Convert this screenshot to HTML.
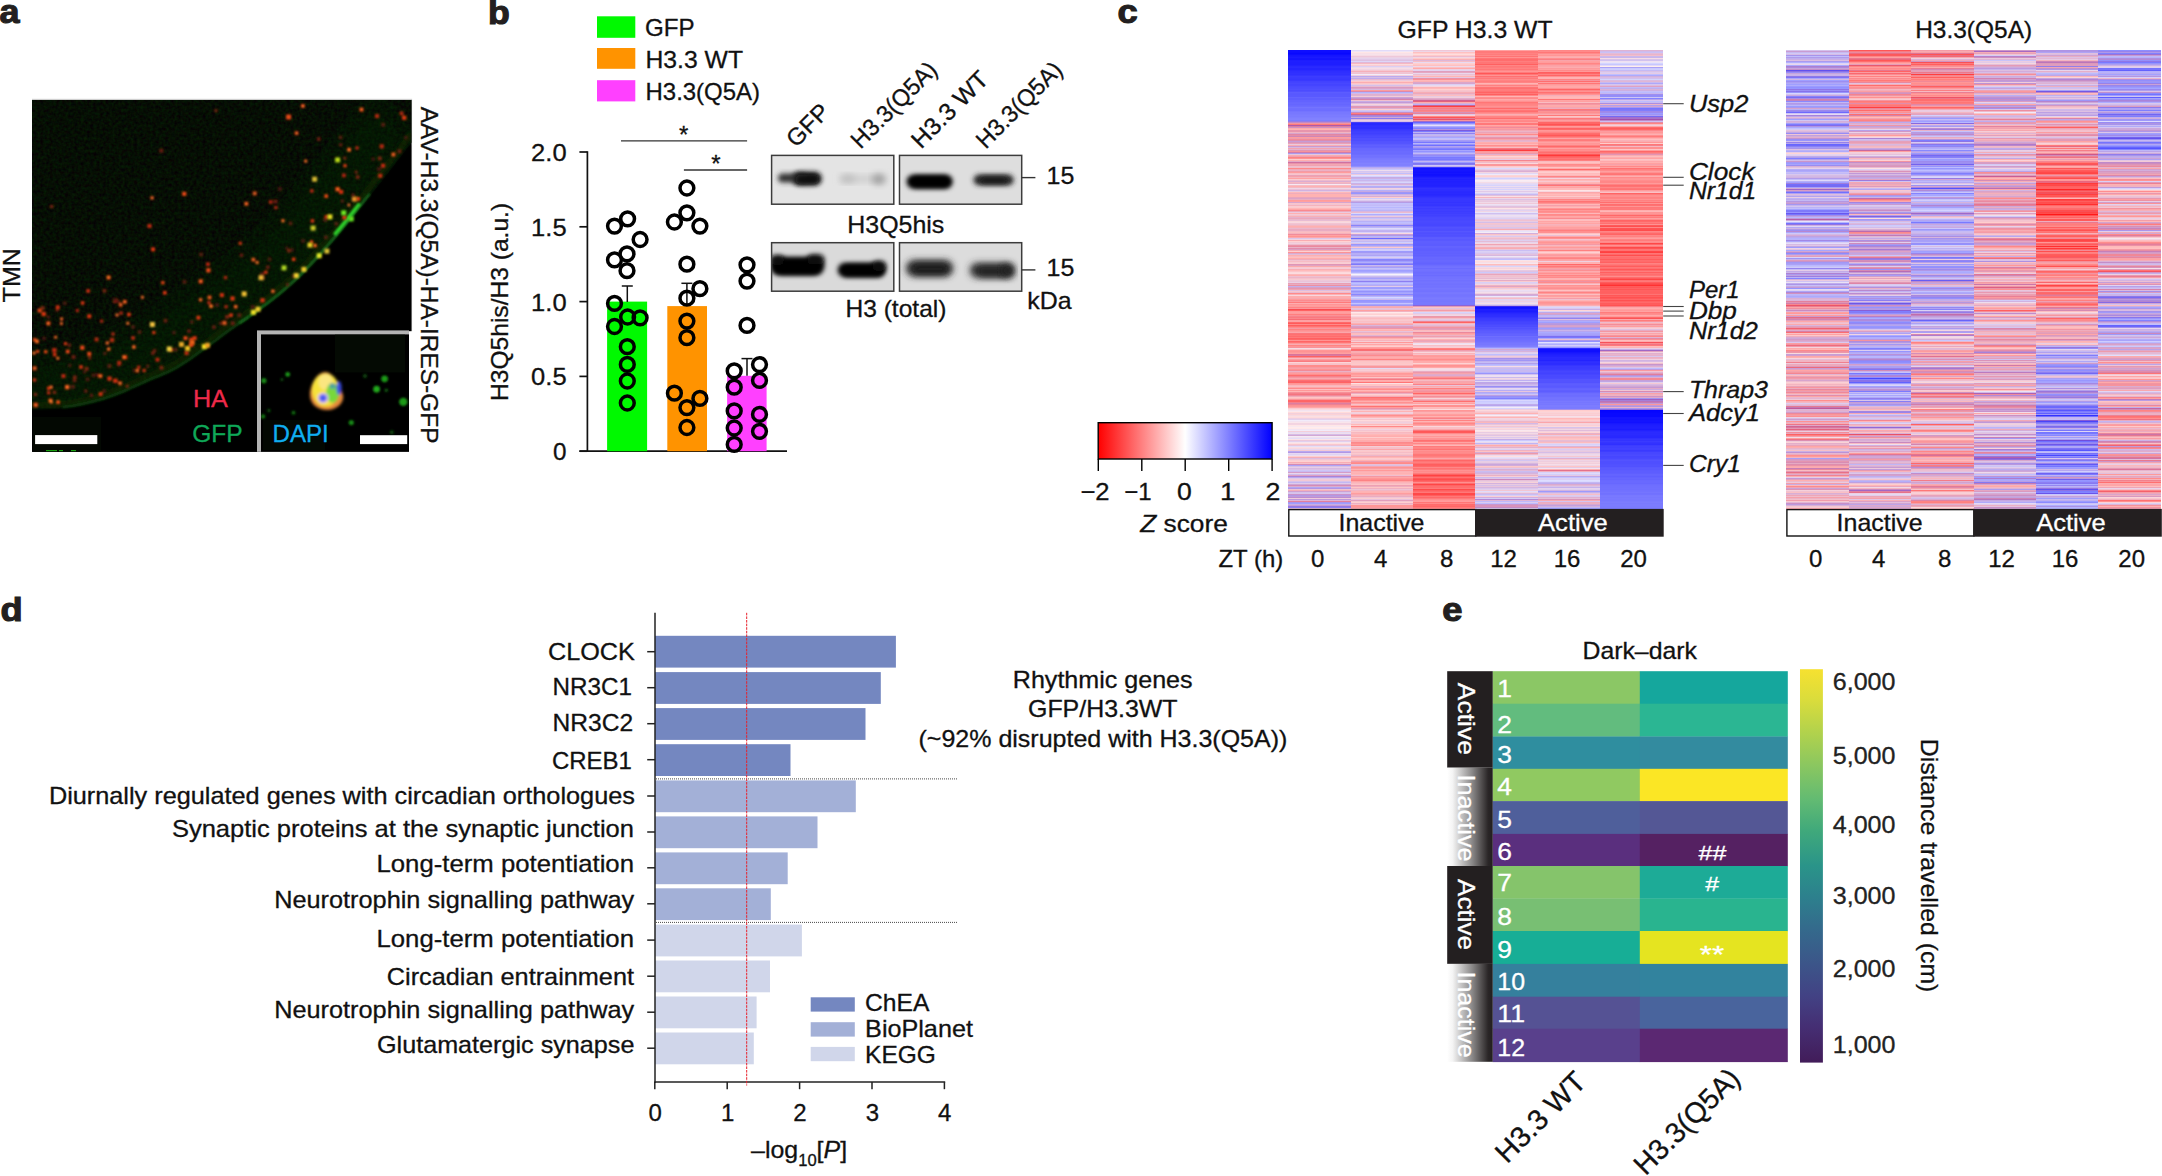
<!DOCTYPE html>
<html lang="en"><head><meta charset="utf-8"><title>Figure</title>
<style>
html,body{margin:0;padding:0;background:#fff}
#fig{position:relative;width:2162px;height:1176px;overflow:hidden;background:#fff}
#fig div{position:absolute}
#fig svg{position:absolute;left:0;top:0}
text{font-family:"Liberation Sans", Arial, Helvetica, sans-serif;font-size:24px;fill:#111;stroke:#111;stroke-width:.3px}
.b{font-weight:bold;font-size:33px;fill:#231f20;stroke:#231f20;stroke-width:1.1px}
.i{font-style:italic}
</style></head><body>
<div id="fig">
<div style="left:1288.20px;top:50.0px;width:62.72px;height:458.8px;background:linear-gradient(#0e0eff 0.0px 1.0px,#0e0eff 1.0px 2.0px,#0c0cff 2.0px 3.0px,#0808ff 3.0px 4.0px,#0d0dff 4.0px 5.0px,#1414ff 5.0px 6.0px,#1616ff 6.0px 7.0px,#1a1aff 7.0px 8.0px,#1515ff 8.0px 9.0px,#1414ff 9.0px 10.0px,#1d1dff 10.0px 11.0px,#1f1fff 11.0px 12.0px,#1e1eff 12.0px 13.0px,#1e1eff 13.0px 14.0px,#1e1eff 14.0px 15.0px,#2222ff 15.0px 16.0px,#2828ff 16.0px 17.0px,#2a2aff 17.0px 18.0px,#2525ff 18.0px 19.0px,#2525ff 19.0px 20.0px,#2a2aff 20.0px 21.0px,#2e2eff 21.0px 22.0px,#2f2fff 22.0px 23.0px,#3131ff 23.0px 24.0px,#3030ff 24.0px 25.0px,#3535ff 25.0px 26.0px,#3c3cff 26.0px 27.0px,#3a3aff 27.0px 28.0px,#3939ff 28.0px 29.0px,#3737ff 29.0px 30.0px,#3a3aff 30.0px 31.0px,#4242ff 31.0px 32.0px,#4444ff 32.0px 33.0px,#4747ff 33.0px 34.0px,#4444ff 34.0px 35.0px,#4545ff 35.0px 36.0px,#4a4aff 36.0px 37.0px,#4c4cff 37.0px 38.0px,#4d4dff 38.0px 39.0px,#5050ff 39.0px 40.0px,#4c4cff 40.0px 41.0px,#5151ff 41.0px 42.0px,#5c5cff 42.0px 43.0px,#5959ff 43.0px 44.0px,#5858ff 44.0px 45.0px,#5959ff 45.0px 46.0px,#5959ff 46.0px 47.0px,#6363ff 47.0px 48.0px,#5e5eff 48.0px 49.0px,#5e5eff 49.0px 50.0px,#6363ff 50.0px 51.0px,#6363ff 51.0px 52.0px,#6767ff 52.0px 53.0px,#6868ff 53.0px 54.0px,#6666ff 54.0px 55.0px,#6969ff 55.0px 56.0px,#6c6cff 56.0px 57.0px,#7474ff 57.0px 58.0px,#6f6fff 58.0px 59.0px,#6e6eff 59.0px 60.0px,#6d6dff 60.0px 61.0px,#7474ff 61.0px 62.0px,#7878ff 62.0px 63.0px,#7878ff 63.0px 64.0px,#7a7aff 64.0px 65.0px,#7c7cff 65.0px 66.0px,#7b7bff 66.0px 67.0px,#7e7eff 67.0px 68.0px,#8181ff 68.0px 69.0px,#8282ff 69.0px 70.0px,#7d7dff 70.0px 71.0px,#967de5 71.0px 72.0px,#c289c6 72.0px 73.0px,#f294a2 73.0px 74.0px,#fd787a 74.0px 75.0px,#b15aa8 75.0px 76.0px,#dc7c9f 76.0px 77.0px,#ce91c2 77.0px 78.0px,#fcabae 78.0px 79.0px,#ffb5b5 79.0px 80.0px,#e895ac 80.0px 81.0px,#e795ad 81.0px 82.0px,#f1b4c2 82.0px 83.0px,#d8a5cc 83.0px 84.0px,#e186a4 84.0px 85.0px,#e28daa 85.0px 86.0px,#cf86b6 86.0px 87.0px,#ff9d9d 87.0px 88.0px,#ef9dad 88.0px 89.0px,#f28b98 89.0px 90.0px,#dc8caf 90.0px 91.0px,#c69cd5 91.0px 92.0px,#d896bc 92.0px 93.0px,#e9a1b7 93.0px 94.0px,#ebcade 94.0px 95.0px,#f9aeb3 95.0px 96.0px,#ca9bd0 96.0px 97.0px,#dbb8dc 97.0px 98.0px,#f3a3af 98.0px 99.0px,#e5b2cc 99.0px 100.0px,#e294b1 100.0px 101.0px,#f7939b 101.0px 102.0px,#d17caa 102.0px 103.0px,#ac99eb 103.0px 104.0px,#e3c7e3 104.0px 105.0px,#fbacb0 105.0px 106.0px,#f0a0af 106.0px 107.0px,#fd8284 107.0px 108.0px,#ff9393 108.0px 109.0px,#ffcdcd 109.0px 110.0px,#ffafaf 110.0px 111.0px,#e1a9c6 111.0px 112.0px,#cf71a1 112.0px 113.0px,#e892aa 113.0px 114.0px,#f3a7b3 114.0px 114.9px,#f1a2b0 114.9px 115.9px,#efbece 115.9px 116.9px,#f2bdca 116.9px 117.9px,#ff8989 117.9px 118.9px,#f0aab9 118.9px 119.9px,#ecb1c5 119.9px 120.9px,#f29ba7 120.9px 121.9px,#ff9c9c 121.9px 122.9px,#f7bfc7 122.9px 123.9px,#f7c5cd 123.9px 124.9px,#e9a2b7 124.9px 125.9px,#f5a1ab 125.9px 126.9px,#f5b5bf 126.9px 127.9px,#ffa3a3 127.9px 128.9px,#faccd1 128.9px 129.9px,#ecbacd 129.9px 130.9px,#daadd2 130.9px 131.9px,#f5b7c1 131.9px 132.9px,#ebb2c6 132.9px 133.9px,#f6eaf3 133.9px 134.9px,#f6bcc5 134.9px 135.9px,#ffb1b1 135.9px 136.9px,#f3bac5 136.9px 137.9px,#f0d6e5 137.9px 138.9px,#e9c0d7 138.9px 139.9px,#d0b2e1 139.9px 140.9px,#e9c9df 140.9px 141.9px,#feb7b9 141.9px 142.9px,#f0acbb 142.9px 143.9px,#ffb2b2 143.9px 144.9px,#ffb2b2 144.9px 145.9px,#ffb2b2 145.9px 146.9px,#e8a5bc 146.9px 147.9px,#dca3c6 147.9px 148.9px,#eaadc2 148.9px 149.9px,#ff9b9b 149.9px 150.9px,#ffa0a0 150.9px 151.9px,#d6a5ce 151.9px 152.9px,#fac4ca 152.9px 153.9px,#f2c4d1 153.9px 154.9px,#f5b3bd 154.9px 155.9px,#faccd1 155.9px 156.9px,#fccacd 156.9px 157.9px,#ffb7b7 157.9px 158.9px,#ffa5a5 158.9px 159.9px,#f9898f 159.9px 160.9px,#eca9bc 160.9px 161.9px,#ebcade 161.9px 162.9px,#ffb0b0 162.9px 163.9px,#f4cad5 163.9px 164.9px,#f4c1cc 164.9px 165.9px,#f7b0b7 165.9px 166.9px,#e5b1cb 166.9px 167.9px,#eaa7bc 167.9px 168.9px,#ebb7cb 168.9px 169.9px,#e7bcd4 169.9px 170.9px,#fad5d9 170.9px 171.9px,#f8d9e1 171.9px 172.9px,#f3c4d1 172.9px 173.9px,#edbfd1 173.9px 174.9px,#f5b7c1 174.9px 175.9px,#ffafaf 175.9px 176.9px,#f8b1b8 176.9px 177.9px,#eab8cd 177.9px 178.9px,#eaa9bf 178.9px 179.9px,#e8acc3 179.9px 180.9px,#f5bbc5 180.9px 181.9px,#fcbdc0 181.9px 182.9px,#f4b1bc 182.9px 183.9px,#f18c9b 183.9px 184.9px,#ffa2a2 184.9px 185.9px,#ff9393 185.9px 186.9px,#fba9ad 186.9px 187.9px,#dbc5e9 187.9px 188.9px,#f1d5e3 188.9px 189.9px,#faacb1 189.9px 190.9px,#ffd2d2 190.9px 191.9px,#f3cad6 191.9px 192.9px,#f2d1de 192.9px 193.9px,#eebccd 193.9px 194.9px,#eb94a8 194.9px 195.9px,#ea889d 195.9px 196.9px,#e9b0c6 196.9px 197.9px,#e18caa 197.9px 198.9px,#db9cc0 198.9px 199.9px,#f7abb3 199.9px 200.9px,#fdcfd1 200.9px 201.9px,#fd9395 201.9px 202.9px,#dba9cd 202.9px 203.9px,#e1bcda 203.9px 204.9px,#ffafaf 204.9px 205.9px,#f7bbc3 205.9px 206.9px,#ffbfbf 206.9px 207.9px,#ffacac 207.9px 208.9px,#efabbc 208.9px 209.9px,#f1c3d1 209.9px 210.9px,#f7bcc4 210.9px 211.9px,#f7cbd3 211.9px 212.9px,#fbcdd1 212.9px 213.9px,#e095b5 213.9px 214.9px,#e0a2c1 214.9px 215.9px,#fca9ab 215.9px 216.9px,#f7c9d1 216.9px 217.9px,#f5ccd6 217.9px 218.9px,#f8afb6 218.9px 219.9px,#ffbaba 219.9px 220.9px,#fcc6ca 220.9px 221.9px,#fcd9dc 221.9px 222.9px,#fcdcdf 222.9px 223.9px,#fcb9bc 223.9px 224.9px,#ffaeae 224.9px 225.9px,#eec0d1 225.9px 226.9px,#ecb5c8 226.9px 227.9px,#f5c1cb 227.9px 228.9px,#f7cad2 228.9px 229.9px,#eec9da 229.9px 230.9px,#eac4da 230.9px 231.9px,#ead1e6 231.9px 232.9px,#e99fb5 232.9px 233.9px,#eaabc0 233.9px 234.9px,#ed90a2 234.9px 235.9px,#c2afec 235.9px 236.9px,#d99fc4 236.9px 237.9px,#e596b0 237.9px 238.9px,#efa3b4 238.9px 239.9px,#ddbfe1 239.9px 240.9px,#f7c7cf 240.9px 241.9px,#e9bad0 241.9px 242.9px,#ff8a8a 242.9px 243.9px,#fcb0b3 243.9px 244.9px,#f9d7dd 244.9px 245.9px,#feadae 245.9px 246.9px,#ffacac 246.9px 247.9px,#f7a9b1 247.9px 248.9px,#ff9b9b 248.9px 249.9px,#fb8b8f 249.9px 250.9px,#fb9a9e 250.9px 251.9px,#ff7a7a 251.9px 252.9px,#fdadb0 252.9px 253.9px,#ff9595 253.9px 254.9px,#ff9e9e 254.9px 255.9px,#ff9b9b 255.9px 256.9px,#ff8383 256.9px 257.9px,#fa969b 257.9px 258.9px,#fa4b50 258.9px 259.9px,#ff6161 259.9px 260.9px,#ff9999 260.9px 261.9px,#ff9f9f 261.9px 262.9px,#ff9b9b 262.9px 263.9px,#ff7f7f 263.9px 264.9px,#fb9195 264.9px 265.9px,#f6828b 265.9px 266.9px,#fa797e 266.9px 267.9px,#fa868b 267.9px 268.9px,#f76d75 268.9px 269.9px,#fda2a4 269.9px 270.9px,#fda2a5 270.9px 271.9px,#ff6a6a 271.9px 272.9px,#ff5a5a 272.9px 273.9px,#ff8989 273.9px 274.9px,#ff5c5c 274.9px 275.9px,#ff7373 275.9px 276.9px,#ff8989 276.9px 277.9px,#f69aa3 277.9px 278.9px,#ff8282 278.9px 279.9px,#fd9192 279.9px 280.9px,#fd9a9b 280.9px 281.9px,#fba6aa 281.9px 282.9px,#fb7579 282.9px 283.9px,#ff7070 283.9px 284.9px,#ff7676 284.9px 285.9px,#ff6c6c 285.9px 286.9px,#ff7979 286.9px 287.9px,#ff6060 287.9px 288.9px,#ff6868 288.9px 289.9px,#ff9393 289.9px 290.9px,#ff6565 290.9px 291.9px,#ff7575 291.9px 292.9px,#ff9898 292.9px 293.9px,#f8acb3 293.9px 294.9px,#ff8383 294.9px 295.9px,#ff9494 295.9px 296.9px,#f6939c 296.9px 297.9px,#f6dce4 297.9px 298.9px,#fbc1c5 298.9px 299.9px,#ff9797 299.9px 300.9px,#ff9393 300.9px 301.9px,#ff9999 301.9px 302.9px,#ffa0a0 302.9px 303.9px,#d9749a 303.9px 304.9px,#d97aa0 304.9px 305.9px,#ff6161 305.9px 306.9px,#fa8e94 306.9px 307.9px,#fabbc0 307.9px 308.9px,#fb9ea2 308.9px 309.9px,#fb898d 309.9px 310.9px,#fa7b80 310.9px 311.9px,#fbd5d9 311.9px 312.9px,#fcc2c5 312.9px 313.9px,#f6c0c9 313.9px 314.9px,#ff8c8c 314.9px 315.9px,#ff8c8c 315.9px 316.9px,#f999a0 316.9px 317.9px,#f9a0a6 317.9px 318.9px,#ff9292 318.9px 319.9px,#f28a97 319.9px 320.9px,#eab1c6 320.9px 321.9px,#f79fa8 321.9px 322.9px,#ff9c9c 322.9px 323.9px,#ff8e8e 323.9px 324.9px,#ff6d6d 324.9px 325.9px,#f6828b 325.9px 326.9px,#f6959e 326.9px 327.9px,#f9a9af 327.9px 328.9px,#f99299 328.9px 329.9px,#ff7070 329.9px 330.9px,#f7666e 330.9px 331.9px,#ff6363 331.9px 332.9px,#ff9595 332.9px 333.9px,#ff9c9d 333.9px 334.9px,#fab6ba 334.9px 335.9px,#fabec2 335.9px 336.9px,#fea7a8 336.9px 337.9px,#ff8b8b 337.9px 338.9px,#febec0 338.9px 339.9px,#ff9999 339.9px 340.9px,#ffb6b6 340.9px 341.9px,#f79098 341.9px 342.9px,#f47f8a 342.9px 343.9px,#f5747f 343.9px 344.8px,#f08a99 344.8px 345.8px,#f0aab8 345.8px 346.8px,#ffc5c5 346.8px 347.8px,#ffbaba 347.8px 348.8px,#fb969a 348.8px 349.8px,#ff6767 349.8px 350.8px,#ff6565 350.8px 351.8px,#f37e8b 351.8px 352.8px,#dd7ea0 352.8px 353.8px,#ee8192 353.8px 354.8px,#fc9295 354.8px 355.8px,#ff9797 355.8px 356.8px,#ffa7a7 356.8px 357.8px,#fbcbd0 357.8px 358.8px,#fbdbdf 358.8px 359.8px,#f2e3ef 359.8px 360.8px,#fae8ee 360.8px 361.8px,#ffdbdb 361.8px 362.8px,#f3cfdb 362.8px 363.8px,#fbd2d6 363.8px 364.8px,#f5dae3 364.8px 365.8px,#fcdfe2 365.8px 366.8px,#fddbdd 366.8px 367.8px,#edcfe2 367.8px 368.8px,#e2d0ed 368.8px 369.8px,#f1ecfa 369.8px 370.8px,#f3e4f1 370.8px 371.8px,#f9e5eb 371.8px 372.8px,#f3d4e1 372.8px 373.8px,#f3d5e2 373.8px 374.8px,#ffe7e7 374.8px 375.8px,#f8e9f0 375.8px 376.8px,#ffeded 376.8px 377.8px,#ffeaea 377.8px 378.8px,#f1e5f3 378.8px 379.8px,#f1ebf9 379.8px 380.8px,#f4cfda 380.8px 381.8px,#e7dcf4 381.8px 382.8px,#f0deed 382.8px 383.8px,#d5bde6 383.8px 384.8px,#d3a8d4 384.8px 385.8px,#f3ebf6 385.8px 386.8px,#f0e0ef 386.8px 387.8px,#e3def9 387.8px 388.8px,#fbe3e7 388.8px 389.8px,#ebc7dc 389.8px 390.8px,#e1d0ee 390.8px 391.8px,#f5e5ef 391.8px 392.8px,#fee0e1 392.8px 393.8px,#f9c7cd 393.8px 394.8px,#e7c6de 394.8px 395.8px,#e5dff8 395.8px 396.8px,#fadfe4 396.8px 397.8px,#f7d8e0 397.8px 398.8px,#e6d6ef 398.8px 399.8px,#f3c9d5 399.8px 400.8px,#b9a9f0 400.8px 401.8px,#b297e4 401.8px 402.8px,#e6d9f3 402.8px 403.8px,#e0d3f2 403.8px 404.8px,#eadef3 404.8px 405.8px,#ffcfcf 405.8px 406.8px,#f5aeb8 406.8px 407.8px,#debcdd 407.8px 408.8px,#f0c6d5 408.8px 409.8px,#f9ced4 409.8px 410.8px,#ffd1d1 410.8px 411.8px,#f8aeb4 411.8px 412.8px,#f7bfc7 412.8px 413.8px,#d48bb6 413.8px 414.8px,#ada3f6 414.8px 415.8px,#d8bfe6 415.8px 416.8px,#e6cee7 416.8px 417.8px,#d7b9e1 417.8px 418.8px,#dbc2e6 418.8px 419.8px,#cfc6f6 419.8px 420.8px,#c9baf0 420.8px 421.8px,#d49dc8 421.8px 422.8px,#e9d6ec 422.8px 423.8px,#cfbcec 423.8px 424.8px,#dea0c1 424.8px 425.8px,#ac82d5 425.8px 426.8px,#b8a8ef 426.8px 427.8px,#e0c9e8 427.8px 428.8px,#f1cbd9 428.8px 429.8px,#f3c8d4 429.8px 430.8px,#d6c3eb 430.8px 431.8px,#c3b8f3 431.8px 432.8px,#decbed 432.8px 433.8px,#cfa5d5 433.8px 434.8px,#d48bb6 434.8px 435.8px,#dcacce 435.8px 436.8px,#b1a5f3 436.8px 437.8px,#b095e4 437.8px 438.8px,#efc3d3 438.8px 439.8px,#f4adb8 439.8px 440.8px,#cea0d1 440.8px 441.8px,#d4c1eb 441.8px 442.8px,#d6c4ed 442.8px 443.8px,#c993ca 443.8px 444.8px,#b296e4 444.8px 445.8px,#be9bdc 445.8px 446.8px,#be8dce 446.8px 447.8px,#f0ccdb 447.8px 448.8px,#bd99dc 448.8px 449.8px,#ddb2d3 449.8px 450.8px,#e27f9d 450.8px 451.8px,#a895ec 451.8px 452.8px,#9e9eff 452.8px 453.8px,#c7aee6 453.8px 454.8px,#c39bd8 454.8px 455.8px,#9677e0 455.8px 456.8px,#8b7ff4 456.8px 457.8px,#e3bad6 457.8px 458.8px)"></div>
<div style="left:1350.62px;top:50.0px;width:62.72px;height:458.8px;background:linear-gradient(#e1dbf9 0.0px 1.0px,#efe6f6 1.0px 2.0px,#ffe6e6 2.0px 3.0px,#f8e0e7 3.0px 4.0px,#f7e2ea 4.0px 5.0px,#f6dbe4 5.0px 6.0px,#eec8d9 6.0px 7.0px,#ecd1e4 7.0px 8.0px,#e6d2eb 8.0px 9.0px,#e0c8e7 9.0px 10.0px,#ddc0e1 10.0px 11.0px,#ded6f8 11.0px 12.0px,#e1b8d7 12.0px 13.0px,#f5b8c3 13.0px 14.0px,#fcdbde 14.0px 15.0px,#f9ccd3 15.0px 16.0px,#dccff2 16.0px 17.0px,#eddaec 17.0px 18.0px,#f7dee6 18.0px 19.0px,#f0d4e3 19.0px 20.0px,#f5c7d1 20.0px 21.0px,#f5b0ba 21.0px 22.0px,#f0c5d4 22.0px 23.0px,#f1c3d1 23.0px 24.0px,#f2ecf9 24.0px 25.0px,#efcfde 25.0px 26.0px,#bcaaed 26.0px 27.0px,#d4bce7 27.0px 28.0px,#c0aceb 28.0px 29.0px,#e6b7d0 29.0px 30.0px,#eccadd 30.0px 31.0px,#ffc8c8 31.0px 32.0px,#fbadb1 32.0px 33.0px,#fec6c7 33.0px 34.0px,#eecbdc 34.0px 35.0px,#d5c0ea 35.0px 36.0px,#e8bbd2 36.0px 37.0px,#da9ac0 37.0px 38.0px,#dba6ca 38.0px 39.0px,#d7b8e0 39.0px 40.0px,#fb9ca0 40.0px 41.0px,#dc89ac 41.0px 42.0px,#b2b2ff 42.0px 43.0px,#cfbced 43.0px 44.0px,#e1b0ce 44.0px 45.0px,#dfb3d2 45.0px 46.0px,#f2ccd9 46.0px 47.0px,#caa3d8 47.0px 48.0px,#c792ca 48.0px 49.0px,#d782a9 49.0px 50.0px,#f1c0ce 50.0px 51.0px,#c7ade5 51.0px 52.0px,#c39ad6 52.0px 53.0px,#dbbde1 53.0px 54.0px,#f8d4dc 54.0px 55.0px,#e5c6e0 55.0px 56.0px,#de98b9 56.0px 57.0px,#e497b2 57.0px 58.0px,#dcafd2 58.0px 59.0px,#fdcfd1 59.0px 60.0px,#d6c7f0 60.0px 61.0px,#c6bcf5 61.0px 62.0px,#cc8cbf 62.0px 63.0px,#ff7e7e 63.0px 64.0px,#d46590 64.0px 65.0px,#ab80d4 65.0px 66.0px,#a38ae6 66.0px 67.0px,#cea7d7 67.0px 68.0px,#8d7def 68.0px 69.0px,#dab8dd 69.0px 70.0px,#eacee3 70.0px 71.0px,#d6bde6 71.0px 72.0px,#473ef6 72.0px 73.0px,#2828ff 73.0px 74.0px,#2828ff 74.0px 75.0px,#2e2eff 75.0px 76.0px,#3030ff 76.0px 77.0px,#2e2eff 77.0px 78.0px,#2f2fff 78.0px 79.0px,#3737ff 79.0px 80.0px,#3b3bff 80.0px 81.0px,#3f3fff 81.0px 82.0px,#4141ff 82.0px 83.0px,#3f3fff 83.0px 84.0px,#4343ff 84.0px 85.0px,#4747ff 85.0px 86.0px,#4a4aff 86.0px 87.0px,#4848ff 87.0px 88.0px,#4f4fff 88.0px 89.0px,#4f4fff 89.0px 90.0px,#4d4dff 90.0px 91.0px,#5353ff 91.0px 92.0px,#5454ff 92.0px 93.0px,#5555ff 93.0px 94.0px,#5c5cff 94.0px 95.0px,#6060ff 95.0px 96.0px,#5d5dff 96.0px 97.0px,#6060ff 97.0px 98.0px,#6767ff 98.0px 99.0px,#6868ff 99.0px 100.0px,#6868ff 100.0px 101.0px,#6b6bff 101.0px 102.0px,#6b6bff 102.0px 103.0px,#6a6aff 103.0px 104.0px,#6d6dff 104.0px 105.0px,#7272ff 105.0px 106.0px,#7171ff 106.0px 107.0px,#7373ff 107.0px 108.0px,#7878ff 108.0px 109.0px,#7a7aff 109.0px 110.0px,#7d7dff 110.0px 111.0px,#7c7cff 111.0px 112.0px,#7e7eff 112.0px 113.0px,#8282ff 113.0px 114.0px,#8080ff 114.0px 114.9px,#8181ff 114.9px 115.9px,#9090ff 115.9px 116.9px,#b7abf3 116.9px 117.9px,#c8b9f0 117.9px 118.9px,#cbc8fc 118.9px 119.9px,#eeddee 119.9px 120.9px,#d4c7f2 120.9px 121.9px,#dccaed 121.9px 122.9px,#c1befb 122.9px 123.9px,#ebcade 123.9px 124.9px,#e6e2fc 124.9px 125.9px,#d5d2fc 125.9px 126.9px,#c4abe6 126.9px 127.9px,#ccb1e3 127.9px 128.9px,#c5c2fc 128.9px 129.9px,#c9b7ed 129.9px 130.9px,#d3c8f4 130.9px 131.9px,#d7d5fd 131.9px 132.9px,#c8b2e9 132.9px 133.9px,#d8b1d8 133.9px 134.9px,#dacaef 134.9px 135.9px,#b2adfa 135.9px 136.9px,#baacf0 136.9px 137.9px,#f2d3e1 137.9px 138.9px,#e3d1ed 138.9px 139.9px,#b7aff7 139.9px 140.9px,#c6a9e2 140.9px 141.9px,#a196f4 141.9px 142.9px,#9695fe 142.9px 143.9px,#cdb0e2 143.9px 144.9px,#dbbfe3 144.9px 145.9px,#daadd2 145.9px 146.9px,#ffcece 146.9px 147.9px,#d0cbfa 147.9px 148.9px,#ebdbef 148.9px 149.9px,#dbcaee 149.9px 150.9px,#c9abe2 150.9px 151.9px,#b59ce5 151.9px 152.9px,#c1c1ff 152.9px 153.9px,#c5bef9 153.9px 154.9px,#c1bbf9 154.9px 155.9px,#c7c5fd 155.9px 156.9px,#b8b7fe 156.9px 157.9px,#c7c3fb 157.9px 158.9px,#c1bffc 158.9px 159.9px,#bcb3f6 159.9px 160.9px,#d7b7df 160.9px 161.9px,#ecbbcd 161.9px 162.9px,#dad7fc 162.9px 163.9px,#adadff 163.9px 164.9px,#cec2f3 164.9px 165.9px,#edc9db 165.9px 166.9px,#c5afe9 166.9px 167.9px,#c6c2fb 167.9px 168.9px,#dcc8eb 168.9px 169.9px,#d0c3f2 169.9px 170.9px,#b8b1f8 170.9px 171.9px,#bfbfff 171.9px 172.9px,#c2bbf8 172.9px 173.9px,#b9adf2 173.9px 174.9px,#8784fb 174.9px 175.9px,#b6a6f0 175.9px 176.9px,#bab7fb 176.9px 177.9px,#dfdbfa 177.9px 178.9px,#d3cffb 178.9px 179.9px,#c2b4f2 179.9px 180.9px,#bfb0f0 180.9px 181.9px,#d8d1f9 181.9px 182.9px,#fbd8dd 182.9px 183.9px,#c49fdb 183.9px 184.9px,#b097e6 184.9px 185.9px,#b6b6ff 185.9px 186.9px,#c4afe9 186.9px 187.9px,#6c6cff 187.9px 188.9px,#c3b4f1 188.9px 189.9px,#d3c2ee 189.9px 190.9px,#c4b9f4 190.9px 191.9px,#cfcffe 191.9px 192.9px,#d8c0e7 192.9px 193.9px,#9a96fb 193.9px 194.9px,#a5a4fe 194.9px 195.9px,#ccb1e4 195.9px 196.9px,#fac9ce 196.9px 197.9px,#beb9fa 197.9px 198.9px,#d4ccf8 198.9px 199.9px,#cfcdfd 199.9px 200.9px,#9c9afd 200.9px 201.9px,#a299f5 201.9px 202.9px,#b7aef6 202.9px 203.9px,#b6aef6 203.9px 204.9px,#aea3f4 204.9px 205.9px,#c4c4ff 205.9px 206.9px,#daccf1 206.9px 207.9px,#bdb8fb 207.9px 208.9px,#8585ff 208.9px 209.9px,#9187f5 209.9px 210.9px,#9f9fff 210.9px 211.9px,#b4aefa 211.9px 212.9px,#928cfa 212.9px 213.9px,#7d79fb 213.9px 214.9px,#c8baf1 214.9px 215.9px,#b9a4ea 215.9px 216.9px,#a5a2fc 216.9px 217.9px,#c5c0fa 217.9px 218.9px,#bab6fa 218.9px 219.9px,#9e9eff 219.9px 220.9px,#a4a4ff 220.9px 221.9px,#b2b2ff 221.9px 222.9px,#d7d4fd 222.9px 223.9px,#f7f2fa 223.9px 224.9px,#e0d9f9 224.9px 225.9px,#cbbcef 225.9px 226.9px,#b9acf2 226.9px 227.9px,#a5a1fb 227.9px 228.9px,#bfb5f5 228.9px 229.9px,#b6b0f9 229.9px 230.9px,#8c7ef2 230.9px 231.9px,#b2b2ff 231.9px 232.9px,#bfbfff 232.9px 233.9px,#b2b2ff 233.9px 234.9px,#b8aaf1 234.9px 235.9px,#e1cbea 235.9px 236.9px,#9f9efe 236.9px 237.9px,#9d9dff 237.9px 238.9px,#bfbdfd 238.9px 239.9px,#aaaaff 239.9px 240.9px,#9492fc 240.9px 241.9px,#a3a3ff 241.9px 242.9px,#aca7fa 242.9px 243.9px,#8888ff 243.9px 244.9px,#ad9cee 244.9px 245.9px,#b4b4ff 245.9px 246.9px,#d7d7ff 246.9px 247.9px,#c6c6ff 247.9px 248.9px,#ccb9ec 248.9px 249.9px,#9595ff 249.9px 250.9px,#9797ff 250.9px 251.9px,#9f9dfd 251.9px 252.9px,#c4c3ff 252.9px 253.9px,#a6a6ff 253.9px 254.9px,#a296f3 254.9px 255.9px,#f2abb8 255.9px 256.9px,#faaaaf 256.9px 257.9px,#e8c2d8 257.9px 258.9px,#e5bed8 258.9px 259.9px,#ffa0a0 259.9px 260.9px,#f2b3c0 260.9px 261.9px,#ffe9e9 261.9px 262.9px,#fedadb 262.9px 263.9px,#fed1d2 263.9px 264.9px,#ffe6e6 264.9px 265.9px,#f7d6de 265.9px 266.9px,#fac4c9 266.9px 267.9px,#fbbbbf 267.9px 268.9px,#fbc6ca 268.9px 269.9px,#fac9ce 269.9px 270.9px,#fac0c5 270.9px 271.9px,#f5c5cf 271.9px 272.9px,#feb1b2 272.9px 273.9px,#f8a3a9 273.9px 274.9px,#d9b6dc 274.9px 275.9px,#dc9ec1 275.9px 276.9px,#db98bc 276.9px 277.9px,#f096a5 277.9px 278.9px,#feb9bb 278.9px 279.9px,#ffb1b1 279.9px 280.9px,#e7c3dc 280.9px 281.9px,#eab1c6 281.9px 282.9px,#fcbbbe 282.9px 283.9px,#fdbec0 283.9px 284.9px,#e0b5d4 284.9px 285.9px,#e293b0 285.9px 286.9px,#f6929b 286.9px 287.9px,#ffaeae 287.9px 288.9px,#ffc1c1 288.9px 289.9px,#f7b4bc 289.9px 290.9px,#f7cdd4 290.9px 291.9px,#ff9898 291.9px 292.9px,#fac6cb 292.9px 293.9px,#ffa5a5 293.9px 294.9px,#ffc2c2 294.9px 295.9px,#ffcdcd 295.9px 296.9px,#ffa0a0 296.9px 297.9px,#ff9696 297.9px 298.9px,#ff6c6c 298.9px 299.9px,#f86e74 299.9px 300.9px,#f8adb4 300.9px 301.9px,#fcadb0 301.9px 302.9px,#f79fa7 302.9px 303.9px,#f798a0 303.9px 304.9px,#fc8b8e 304.9px 305.9px,#fca5a8 305.9px 306.9px,#ffacac 306.9px 307.9px,#ffa6a6 307.9px 308.9px,#ff8181 308.9px 309.9px,#fab3b8 309.9px 310.9px,#fdc4c5 310.9px 311.9px,#fbc5c9 311.9px 312.9px,#ffc6c6 312.9px 313.9px,#fcc9cc 313.9px 314.9px,#f9b2b8 314.9px 315.9px,#fc979a 315.9px 316.9px,#f399a4 316.9px 317.9px,#e4d9f4 317.9px 318.9px,#f6cad3 318.9px 319.9px,#f8ced5 319.9px 320.9px,#f6c1ca 320.9px 321.9px,#feb2b3 321.9px 322.9px,#ff9999 322.9px 323.9px,#ff9d9d 323.9px 324.9px,#ffa8a8 324.9px 325.9px,#fd999b 325.9px 326.9px,#fdc5c7 326.9px 327.9px,#f6969f 327.9px 328.9px,#f67982 328.9px 329.9px,#ffadad 329.9px 330.9px,#ffa8a8 330.9px 331.9px,#ff7575 331.9px 332.9px,#fce0e3 332.9px 333.9px,#ffc4c4 333.9px 334.9px,#ffc5c5 334.9px 335.9px,#efacbd 335.9px 336.9px,#f5b3bd 336.9px 337.9px,#ff9c9c 337.9px 338.9px,#ff8d8d 338.9px 339.9px,#ffb7b7 339.9px 340.9px,#ffa4a4 340.9px 341.9px,#f48e9a 341.9px 342.9px,#ecadc1 342.9px 343.9px,#fdd1d3 343.9px 344.8px,#fec2c4 344.8px 345.8px,#f4abb6 345.8px 346.8px,#ff6f6f 346.8px 347.8px,#ff7f7f 347.8px 348.8px,#ff8080 348.8px 349.8px,#ff9898 349.8px 350.8px,#ffaeae 350.8px 351.8px,#ff9191 351.8px 352.8px,#fea2a3 352.8px 353.8px,#f8c2c9 353.8px 354.8px,#ffacac 354.8px 355.8px,#ff7272 355.8px 356.8px,#ff9b9b 356.8px 357.8px,#ea93a8 357.8px 358.8px,#e9acc2 358.8px 359.8px,#f8cbd2 359.8px 360.8px,#ffb4b4 360.8px 361.8px,#f2d1de 361.8px 362.8px,#f2d0dd 362.8px 363.8px,#faabb1 363.8px 364.8px,#ff8e8e 364.8px 365.8px,#ffa5a5 365.8px 366.8px,#ffb9b9 366.8px 367.8px,#f6d4dd 367.8px 368.8px,#f6c4cd 368.8px 369.8px,#fedbdc 369.8px 370.8px,#f6d0d8 370.8px 371.8px,#f0cfde 371.8px 372.8px,#f8ced5 372.8px 373.8px,#feb7b7 373.8px 374.8px,#fecfcf 374.8px 375.8px,#ff8989 375.8px 376.8px,#ffbbbb 376.8px 377.8px,#fecacb 377.8px 378.8px,#f3d2df 378.8px 379.8px,#f3c5d1 379.8px 380.8px,#fbcdd1 380.8px 381.8px,#f8b8bf 381.8px 382.8px,#f8bec5 382.8px 383.8px,#ffb8b8 383.8px 384.8px,#ffb1b1 384.8px 385.8px,#ffadad 385.8px 386.8px,#ffcbcb 386.8px 387.8px,#ffb3b3 387.8px 388.8px,#ffb9b9 388.8px 389.8px,#ffacac 389.8px 390.8px,#fcabaf 390.8px 391.8px,#fc898c 391.8px 392.8px,#ff8e8e 392.8px 393.8px,#ff9999 393.8px 394.8px,#fe898a 394.8px 395.8px,#f4cdd7 395.8px 396.8px,#f9c0c6 396.8px 397.8px,#f4bec9 397.8px 398.8px,#fba6aa 398.8px 399.8px,#f9cad0 399.8px 400.8px,#fcc8cb 400.8px 401.8px,#f6bdc6 401.8px 402.8px,#f9c9cf 402.8px 403.8px,#f9c1c6 403.8px 404.8px,#ebb6ca 404.8px 405.8px,#f8a9af 405.8px 406.8px,#ffb7b7 406.8px 407.8px,#ffcccc 407.8px 408.8px,#f8c8cf 408.8px 409.8px,#ffb3b3 409.8px 410.8px,#ed9daf 410.8px 411.8px,#ff8f8f 411.8px 412.8px,#ff8a8a 412.8px 413.8px,#e8c0d7 413.8px 414.8px,#dbbee2 414.8px 415.8px,#f6a6b0 415.8px 416.8px,#ff9393 416.8px 417.8px,#f99ea4 417.8px 418.8px,#feb2b3 418.8px 419.8px,#ff9999 419.8px 420.8px,#fbb0b4 420.8px 421.8px,#feb4b5 421.8px 422.8px,#feb1b2 422.8px 423.8px,#ffb8b8 423.8px 424.8px,#f0bfce 424.8px 425.8px,#f498a3 425.8px 426.8px,#ffa5a5 426.8px 427.8px,#ff9696 427.8px 428.8px,#fd8d8f 428.8px 429.8px,#fd8284 429.8px 430.8px,#ffa7a7 430.8px 431.8px,#fbb4b9 431.8px 432.8px,#f9bbc1 432.8px 433.8px,#fdc4c6 433.8px 434.8px,#eea1b2 434.8px 435.8px,#eeadbe 435.8px 436.8px,#ffc5c5 436.8px 437.8px,#f0b1c0 437.8px 438.8px,#eec3d4 438.8px 439.8px,#f2b6c3 439.8px 440.8px,#fdb4b6 440.8px 441.8px,#ffb2b2 441.8px 442.8px,#fe9d9e 442.8px 443.8px,#f7a6af 443.8px 444.8px,#f5b2bb 444.8px 445.8px,#eaacc1 445.8px 446.8px,#f0c5d5 446.8px 447.8px,#fbced2 447.8px 448.8px,#e6c2db 448.8px 449.8px,#e19ebc 449.8px 450.8px,#f3c5d0 450.8px 451.8px,#ffcfcf 451.8px 452.8px,#ebafc3 452.8px 453.8px,#f4bfca 453.8px 454.8px,#ff9595 454.8px 455.8px,#ff9595 455.8px 456.8px,#f9989e 456.8px 457.8px,#f8a6ad 457.8px 458.8px)"></div>
<div style="left:1413.04px;top:50.0px;width:62.72px;height:458.8px;background:linear-gradient(#f0c7d7 0.0px 1.0px,#eed5e6 1.0px 2.0px,#ffc0c0 2.0px 3.0px,#ffd0d0 3.0px 4.0px,#ffdddd 4.0px 5.0px,#ffc9c9 5.0px 6.0px,#eebbcc 6.0px 7.0px,#f1d6e4 7.0px 8.0px,#ffcaca 8.0px 9.0px,#f8b1b8 9.0px 10.0px,#dfb5d6 10.0px 11.0px,#f6bdc6 11.0px 12.0px,#e9daf0 12.0px 13.0px,#ffd0d0 13.0px 14.0px,#ffc9c9 14.0px 15.0px,#ffc0c0 15.0px 16.0px,#efd8e9 16.0px 17.0px,#fbc0c3 17.0px 18.0px,#ffa9a9 18.0px 19.0px,#ebd0e3 19.0px 20.0px,#e2d2ef 20.0px 21.0px,#e09ebd 21.0px 22.0px,#e5a8c2 22.0px 23.0px,#ead7ec 23.0px 24.0px,#eac0d5 24.0px 25.0px,#f5c8d3 25.0px 26.0px,#ffb5b5 26.0px 27.0px,#e6c7e0 27.0px 28.0px,#e992a8 28.0px 29.0px,#fa9095 29.0px 30.0px,#ffb8b8 30.0px 31.0px,#fbb0b4 31.0px 32.0px,#dca6c9 32.0px 33.0px,#d8a3cb 33.0px 34.0px,#dbcef2 34.0px 35.0px,#e8daf1 35.0px 36.0px,#f6d5df 36.0px 37.0px,#fdb3b5 37.0px 38.0px,#ffbaba 38.0px 39.0px,#ffd0d0 39.0px 40.0px,#f8c5cc 40.0px 41.0px,#f4c1cb 41.0px 42.0px,#f7adb5 42.0px 43.0px,#eca8bb 43.0px 44.0px,#eebacb 44.0px 45.0px,#fdbec0 45.0px 46.0px,#e9cae0 46.0px 47.0px,#f1cfdc 47.0px 48.0px,#e0adcc 48.0px 49.0px,#dc9dc0 49.0px 50.0px,#d06190 50.0px 51.0px,#e3617d 51.0px 52.0px,#ffabab 52.0px 53.0px,#dab0d5 53.0px 54.0px,#bcb0f4 54.0px 55.0px,#ce6293 55.0px 56.0px,#ff4040 56.0px 57.0px,#f7868e 57.0px 58.0px,#f67d86 58.0px 59.0px,#f08999 59.0px 60.0px,#f98086 60.0px 61.0px,#f9888e 61.0px 62.0px,#d790b8 62.0px 63.0px,#e8849b 63.0px 64.0px,#dec5e6 64.0px 65.0px,#fbd0d4 65.0px 66.0px,#ff8888 66.0px 67.0px,#ff5656 67.0px 68.0px,#e77a93 68.0px 69.0px,#e7546d 69.0px 70.0px,#f8939a 70.0px 71.0px,#a26bc8 71.0px 72.0px,#6969ff 72.0px 73.0px,#8f8fff 73.0px 74.0px,#bfbbfb 74.0px 75.0px,#e4e0fb 75.0px 76.0px,#aeadfe 76.0px 77.0px,#9292ff 77.0px 78.0px,#8484ff 78.0px 79.0px,#b492dd 79.0px 80.0px,#7c5bdd 80.0px 81.0px,#7c7cff 81.0px 82.0px,#bfb2f3 82.0px 83.0px,#9182f0 83.0px 84.0px,#bcb5f7 84.0px 85.0px,#c6b5ed 85.0px 86.0px,#b4a7f2 86.0px 87.0px,#a8a8ff 87.0px 88.0px,#c0c0ff 88.0px 89.0px,#c7bdf5 89.0px 90.0px,#a69cf5 90.0px 91.0px,#9a94f9 91.0px 92.0px,#7777ff 92.0px 93.0px,#b8b4fb 93.0px 94.0px,#9794fc 94.0px 95.0px,#7070ff 95.0px 96.0px,#b0a2f2 96.0px 97.0px,#a497f2 97.0px 98.0px,#8383ff 98.0px 99.0px,#7776fe 99.0px 100.0px,#a7a6fe 100.0px 101.0px,#9393ff 101.0px 102.0px,#a7a7ff 102.0px 103.0px,#c1b9f7 103.0px 104.0px,#a395f0 104.0px 105.0px,#918af8 105.0px 106.0px,#9191ff 106.0px 107.0px,#7878ff 107.0px 108.0px,#7e7eff 108.0px 109.0px,#7877fd 109.0px 110.0px,#9592fc 110.0px 111.0px,#c2b5f2 111.0px 112.0px,#9b9bff 112.0px 113.0px,#7f74f4 113.0px 114.0px,#867cf4 114.0px 114.9px,#cdc5f8 114.9px 115.9px,#bba9ed 115.9px 116.9px,#3939ff 116.9px 117.9px,#1212ff 117.9px 118.9px,#1515ff 118.9px 119.9px,#1515ff 119.9px 120.9px,#1313ff 120.9px 121.9px,#1111ff 121.9px 122.9px,#1414ff 122.9px 123.9px,#1010ff 123.9px 124.9px,#1111ff 124.9px 125.9px,#1616ff 125.9px 126.9px,#1e1eff 126.9px 127.9px,#2323ff 127.9px 128.9px,#1f1fff 128.9px 129.9px,#2222ff 129.9px 130.9px,#2020ff 130.9px 131.9px,#2121ff 131.9px 132.9px,#2222ff 132.9px 133.9px,#2222ff 133.9px 134.9px,#2121ff 134.9px 135.9px,#2323ff 135.9px 136.9px,#2a2aff 136.9px 137.9px,#3131ff 137.9px 138.9px,#2e2eff 138.9px 139.9px,#2d2dff 139.9px 140.9px,#2a2aff 140.9px 141.9px,#2929ff 141.9px 142.9px,#2a2aff 142.9px 143.9px,#2828ff 143.9px 144.9px,#2a2aff 144.9px 145.9px,#2e2eff 145.9px 146.9px,#3333ff 146.9px 147.9px,#3737ff 147.9px 148.9px,#3838ff 148.9px 149.9px,#3737ff 149.9px 150.9px,#3737ff 150.9px 151.9px,#3434ff 151.9px 152.9px,#3838ff 152.9px 153.9px,#3636ff 153.9px 154.9px,#3535ff 154.9px 155.9px,#3c3cff 155.9px 156.9px,#4040ff 156.9px 157.9px,#3b3bff 157.9px 158.9px,#3f3fff 158.9px 159.9px,#3f3fff 159.9px 160.9px,#3c3cff 160.9px 161.9px,#3f3fff 161.9px 162.9px,#3e3eff 162.9px 163.9px,#4242ff 163.9px 164.9px,#4040ff 164.9px 165.9px,#4343ff 165.9px 166.9px,#4747ff 166.9px 167.9px,#4848ff 167.9px 168.9px,#4747ff 168.9px 169.9px,#4848ff 169.9px 170.9px,#4a4aff 170.9px 171.9px,#4949ff 171.9px 172.9px,#4848ff 172.9px 173.9px,#4747ff 173.9px 174.9px,#4747ff 174.9px 175.9px,#4c4cff 175.9px 176.9px,#5252ff 176.9px 177.9px,#5050ff 177.9px 178.9px,#4e4eff 178.9px 179.9px,#4e4eff 179.9px 180.9px,#5656ff 180.9px 181.9px,#5151ff 181.9px 182.9px,#4f4fff 182.9px 183.9px,#5252ff 183.9px 184.9px,#5050ff 184.9px 185.9px,#5252ff 185.9px 186.9px,#5b5bff 186.9px 187.9px,#5c5cff 187.9px 188.9px,#5858ff 188.9px 189.9px,#5959ff 189.9px 190.9px,#5e5eff 190.9px 191.9px,#5e5eff 191.9px 192.9px,#5d5dff 192.9px 193.9px,#5c5cff 193.9px 194.9px,#5c5cff 194.9px 195.9px,#6363ff 195.9px 196.9px,#6262ff 196.9px 197.9px,#5f5fff 197.9px 198.9px,#5e5eff 198.9px 199.9px,#5e5eff 199.9px 200.9px,#6161ff 200.9px 201.9px,#6161ff 201.9px 202.9px,#6060ff 202.9px 203.9px,#6262ff 203.9px 204.9px,#6060ff 204.9px 205.9px,#6363ff 205.9px 206.9px,#6767ff 206.9px 207.9px,#6666ff 207.9px 208.9px,#6666ff 208.9px 209.9px,#6868ff 209.9px 210.9px,#6767ff 210.9px 211.9px,#6565ff 211.9px 212.9px,#6363ff 212.9px 213.9px,#6666ff 213.9px 214.9px,#6c6cff 214.9px 215.9px,#7070ff 215.9px 216.9px,#7272ff 216.9px 217.9px,#6b6bff 217.9px 218.9px,#7171ff 218.9px 219.9px,#7171ff 219.9px 220.9px,#6f6fff 220.9px 221.9px,#6c6cff 221.9px 222.9px,#6d6dff 222.9px 223.9px,#6f6fff 223.9px 224.9px,#6b6bff 224.9px 225.9px,#7070ff 225.9px 226.9px,#7272ff 226.9px 227.9px,#7272ff 227.9px 228.9px,#7474ff 228.9px 229.9px,#7070ff 229.9px 230.9px,#7272ff 230.9px 231.9px,#7474ff 231.9px 232.9px,#7272ff 232.9px 233.9px,#7171ff 233.9px 234.9px,#7373ff 234.9px 235.9px,#7272ff 235.9px 236.9px,#7373ff 236.9px 237.9px,#7777ff 237.9px 238.9px,#7575ff 238.9px 239.9px,#7373ff 239.9px 240.9px,#7272ff 240.9px 241.9px,#7777ff 241.9px 242.9px,#7878ff 242.9px 243.9px,#7575ff 243.9px 244.9px,#7474ff 244.9px 245.9px,#7575ff 245.9px 246.9px,#7878ff 246.9px 247.9px,#7a7aff 247.9px 248.9px,#7878ff 248.9px 249.9px,#7878ff 249.9px 250.9px,#7777ff 250.9px 251.9px,#7979ff 251.9px 252.9px,#7979ff 252.9px 253.9px,#7878ff 253.9px 254.9px,#8f64d5 254.9px 255.9px,#e39bb7 255.9px 256.9px,#fbc5c9 256.9px 257.9px,#e2c3e0 257.9px 258.9px,#f4bac5 258.9px 259.9px,#f39ca8 259.9px 260.9px,#f4bec9 260.9px 261.9px,#d6d6fe 261.9px 262.9px,#e0cceb 262.9px 263.9px,#f1d1df 263.9px 264.9px,#f0d7e6 264.9px 265.9px,#eb98ac 265.9px 266.9px,#f29ba7 266.9px 267.9px,#f2bdc9 267.9px 268.9px,#e6cae3 268.9px 269.9px,#e0bfde 269.9px 270.9px,#f28491 270.9px 271.9px,#ff6363 271.9px 272.9px,#fbb5ba 272.9px 273.9px,#e8c3da 273.9px 274.9px,#e5b9d4 274.9px 275.9px,#eda9bb 275.9px 276.9px,#f294a2 276.9px 277.9px,#e599b2 277.9px 278.9px,#e69fb8 278.9px 279.9px,#fcbabd 279.9px 280.9px,#f6bec7 280.9px 281.9px,#ec889b 281.9px 282.9px,#fb9da1 282.9px 283.9px,#fba8ac 283.9px 284.9px,#edb2c4 284.9px 285.9px,#f09eac 285.9px 286.9px,#f0bbca 286.9px 287.9px,#fdd3d5 287.9px 288.9px,#fbb2b6 288.9px 289.9px,#f1a4b2 289.9px 290.9px,#eaa7bd 290.9px 291.9px,#f9bcc2 291.9px 292.9px,#eddff1 292.9px 293.9px,#f6e5ee 293.9px 294.9px,#f8c0c7 294.9px 295.9px,#f3ccd8 295.9px 296.9px,#fdcbce 296.9px 297.9px,#ff8282 297.9px 298.9px,#ff7676 298.9px 299.9px,#ef9cad 299.9px 300.9px,#f3b4c0 300.9px 301.9px,#fad6db 301.9px 302.9px,#fab4b9 302.9px 303.9px,#f8c1c8 303.9px 304.9px,#ff9d9d 304.9px 305.9px,#ff9a9a 305.9px 306.9px,#ffa2a2 306.9px 307.9px,#ff9d9d 307.9px 308.9px,#ff8b8b 308.9px 309.9px,#ff9c9c 309.9px 310.9px,#ffabab 310.9px 311.9px,#ffacac 311.9px 312.9px,#fed2d3 312.9px 313.9px,#ffb2b2 313.9px 314.9px,#ff9292 314.9px 315.9px,#ff9696 315.9px 316.9px,#ffa8a8 316.9px 317.9px,#f8d9e0 317.9px 318.9px,#f4dde8 318.9px 319.9px,#f3d7e3 319.9px 320.9px,#e9acc2 320.9px 321.9px,#ee98aa 321.9px 322.9px,#f6a5ae 322.9px 323.9px,#e2aac7 323.9px 324.9px,#dbaacf 324.9px 325.9px,#f0a0b0 325.9px 326.9px,#ff9090 326.9px 327.9px,#f9767c 327.9px 328.9px,#ffa6a7 328.9px 329.9px,#f7bbc3 329.9px 330.9px,#f7a6ae 330.9px 331.9px,#f8a5ab 331.9px 332.9px,#ffa4a4 332.9px 333.9px,#f98289 333.9px 334.9px,#e9c3d9 334.9px 335.9px,#fcaaad 335.9px 336.9px,#f8b4bb 336.9px 337.9px,#ff7e7e 337.9px 338.9px,#f99ba1 338.9px 339.9px,#f49aa5 339.9px 340.9px,#f4919c 340.9px 341.9px,#ff9393 341.9px 342.9px,#ff6666 342.9px 343.9px,#ff9797 343.9px 344.8px,#f9abb1 344.8px 345.8px,#f48e98 345.8px 346.8px,#f9a3a9 346.8px 347.8px,#f7d2d9 347.8px 348.8px,#f4aeb9 348.8px 349.8px,#f497a2 349.8px 350.8px,#ff6f6f 350.8px 351.8px,#ffadad 351.8px 352.8px,#ffa1a1 352.8px 353.8px,#fac9ce 353.8px 354.8px,#ff9191 354.8px 355.8px,#ff9090 355.8px 356.8px,#ffbaba 356.8px 357.8px,#fdbbbc 357.8px 358.8px,#fddadc 358.8px 359.8px,#ff9696 359.8px 360.8px,#fc9ea1 360.8px 361.8px,#fcb3b6 361.8px 362.8px,#ffb1b1 362.8px 363.8px,#ff9f9f 363.8px 364.8px,#ff9797 364.8px 365.8px,#ffb2b2 365.8px 366.8px,#ff9494 366.8px 367.8px,#f98288 367.8px 368.8px,#f9b3b9 368.8px 369.8px,#ff8282 369.8px 370.8px,#ffb3b3 370.8px 371.8px,#ff9b9b 371.8px 372.8px,#ff8787 372.8px 373.8px,#ff9595 373.8px 374.8px,#ffa6a6 374.8px 375.8px,#fad5db 375.8px 376.8px,#fabfc4 376.8px 377.8px,#fabfc4 377.8px 378.8px,#faa7ac 378.8px 379.8px,#fb777b 379.8px 380.8px,#ff5858 380.8px 381.8px,#ff5a5a 381.8px 382.8px,#ff8b8b 382.8px 383.8px,#ffa6a6 383.8px 384.8px,#ffabab 384.8px 385.8px,#ff9797 385.8px 386.8px,#ffa7a7 386.8px 387.8px,#ff9393 387.8px 388.8px,#fd9192 388.8px 389.8px,#ff7070 389.8px 390.8px,#ff7a7a 390.8px 391.8px,#ffa4a4 391.8px 392.8px,#ff8787 392.8px 393.8px,#ffa3a3 393.8px 394.8px,#ffb6b6 394.8px 395.8px,#ff7b7b 395.8px 396.8px,#ff8686 396.8px 397.8px,#ff8383 397.8px 398.8px,#ff7373 398.8px 399.8px,#ff9393 399.8px 400.8px,#ff8a8a 400.8px 401.8px,#ff8c8c 401.8px 402.8px,#ff8888 402.8px 403.8px,#ff7777 403.8px 404.8px,#ff7676 404.8px 405.8px,#ff7e7e 405.8px 406.8px,#ff8b8b 406.8px 407.8px,#fba5a9 407.8px 408.8px,#ff8989 408.8px 409.8px,#ff6767 409.8px 410.8px,#ff7676 410.8px 411.8px,#ff7e7e 411.8px 412.8px,#ff7070 412.8px 413.8px,#ff5e5e 413.8px 414.8px,#ff6161 414.8px 415.8px,#ff6a6a 415.8px 416.8px,#ff8787 416.8px 417.8px,#ff7373 417.8px 418.8px,#ff7d7d 418.8px 419.8px,#ff9393 419.8px 420.8px,#ff8a8a 420.8px 421.8px,#ff9191 421.8px 422.8px,#ff7c7c 422.8px 423.8px,#ff6161 423.8px 424.8px,#ff4242 424.8px 425.8px,#ff5a5a 425.8px 426.8px,#ff7171 426.8px 427.8px,#ff5858 427.8px 428.8px,#ff4d4d 428.8px 429.8px,#ff5a5a 429.8px 430.8px,#ff6868 430.8px 431.8px,#ff8f8f 431.8px 432.8px,#ff6e6e 432.8px 433.8px,#ff4646 433.8px 434.8px,#ff6363 434.8px 435.8px,#ff6d6d 435.8px 436.8px,#ff6e6e 436.8px 437.8px,#ff7979 437.8px 438.8px,#ff4b4b 438.8px 439.8px,#ff5f5f 439.8px 440.8px,#ff6a6a 440.8px 441.8px,#ff7878 441.8px 442.8px,#ff4949 442.8px 443.8px,#ff4848 443.8px 444.8px,#ff5e5e 444.8px 445.8px,#ff7777 445.8px 446.8px,#ff6868 446.8px 447.8px,#ff7a7a 447.8px 448.8px,#ff8e8e 448.8px 449.8px,#ff9898 449.8px 450.8px,#ff9c9c 450.8px 451.8px,#ff7676 451.8px 452.8px,#ff8989 452.8px 453.8px,#ff6c6c 453.8px 454.8px,#ff6d6d 454.8px 455.8px,#ff6767 455.8px 456.8px,#ff7878 456.8px 457.8px,#ff8b8b 457.8px 458.8px)"></div>
<div style="left:1475.46px;top:50.0px;width:62.72px;height:458.8px;background:linear-gradient(#ffa2a2 0.0px 1.0px,#ff7a7a 1.0px 2.0px,#ff7a7a 2.0px 3.0px,#ff8282 3.0px 4.0px,#ff7b7b 4.0px 5.0px,#ff8888 5.0px 6.0px,#ff7373 6.0px 7.0px,#ff9191 7.0px 8.0px,#ff7575 8.0px 9.0px,#ff6c6c 9.0px 10.0px,#ff6e6e 10.0px 11.0px,#ff7e7e 11.0px 12.0px,#ff7575 12.0px 13.0px,#ff7575 13.0px 14.0px,#ff6161 14.0px 15.0px,#ff8585 15.0px 16.0px,#ff7878 16.0px 17.0px,#ff7c7c 17.0px 18.0px,#ff8383 18.0px 19.0px,#ff7777 19.0px 20.0px,#ff8888 20.0px 21.0px,#ff9696 21.0px 22.0px,#ff7c7c 22.0px 23.0px,#ff5757 23.0px 24.0px,#ff7777 24.0px 25.0px,#ff9393 25.0px 26.0px,#ff7171 26.0px 27.0px,#fc8487 27.0px 28.0px,#ff7a7a 28.0px 29.0px,#ff8c8c 29.0px 30.0px,#ff8383 30.0px 31.0px,#ff7c7c 31.0px 32.0px,#ff8585 32.0px 33.0px,#ffb4b4 33.0px 34.0px,#ffa2a2 34.0px 35.0px,#ff8080 35.0px 36.0px,#ff9797 36.0px 37.0px,#ff7474 37.0px 38.0px,#ff7070 38.0px 39.0px,#ff7d7d 39.0px 40.0px,#ff7c7c 40.0px 41.0px,#ff7373 41.0px 42.0px,#ff6464 42.0px 43.0px,#ff7777 43.0px 44.0px,#ff5f5f 44.0px 45.0px,#ff8686 45.0px 46.0px,#ffb4b4 46.0px 47.0px,#ff8e8e 47.0px 48.0px,#ff8989 48.0px 49.0px,#ffa9a9 49.0px 50.0px,#fe9fa0 50.0px 51.0px,#ff9191 51.0px 52.0px,#ff7676 52.0px 53.0px,#ff8080 53.0px 54.0px,#ff8484 54.0px 55.0px,#ff8787 55.0px 56.0px,#ff9292 56.0px 57.0px,#fb898d 57.0px 58.0px,#ff6b6b 58.0px 59.0px,#ff8a8a 59.0px 60.0px,#ff7575 60.0px 61.0px,#ff6e6e 61.0px 62.0px,#ff8484 62.0px 63.0px,#ff9292 63.0px 64.0px,#faaeb3 64.0px 65.0px,#ffa3a3 65.0px 66.0px,#ff8585 66.0px 67.0px,#ff8181 67.0px 68.0px,#ff6d6d 68.0px 69.0px,#ff9696 69.0px 70.0px,#ff8a8a 70.0px 71.0px,#ff8787 71.0px 72.0px,#fea0a1 72.0px 73.0px,#ff7979 73.0px 74.0px,#ff7879 74.0px 75.0px,#ffa7a7 75.0px 76.0px,#ff9697 76.0px 77.0px,#ef8b9c 77.0px 78.0px,#ff9d9d 78.0px 79.0px,#f398a4 79.0px 80.0px,#f3a9b5 80.0px 81.0px,#edb4c6 81.0px 82.0px,#eba4b8 82.0px 83.0px,#f7abb3 83.0px 84.0px,#ff8a8a 84.0px 85.0px,#f5b3be 85.0px 86.0px,#ebb8cc 86.0px 87.0px,#e697b0 87.0px 88.0px,#f18f9e 88.0px 89.0px,#f7a5ad 89.0px 90.0px,#e6b0ca 90.0px 91.0px,#e7b6ce 91.0px 92.0px,#ffaeae 92.0px 93.0px,#ffa7a8 93.0px 94.0px,#ffb8b8 94.0px 95.0px,#ff8e8e 95.0px 96.0px,#ffa0a0 96.0px 97.0px,#f9bcc2 97.0px 98.0px,#f9787d 98.0px 99.0px,#ed5f70 99.0px 100.0px,#ff3c3c 100.0px 101.0px,#fc979a 101.0px 102.0px,#fa9ea3 102.0px 103.0px,#ed98aa 103.0px 104.0px,#e3b1cd 104.0px 105.0px,#ffb6b6 105.0px 106.0px,#ffd5d5 106.0px 107.0px,#fbc9cd 107.0px 108.0px,#fdc1c4 108.0px 109.0px,#e5cbe5 109.0px 110.0px,#f38591 110.0px 111.0px,#feb4b5 111.0px 112.0px,#efbbcb 112.0px 113.0px,#fcd6d9 113.0px 114.0px,#f9989e 114.0px 114.9px,#ff9898 114.9px 115.9px,#fbcace 115.9px 116.9px,#f6d5df 116.9px 117.9px,#dbdbff 117.9px 118.9px,#e7cee6 118.9px 119.9px,#dfb9d9 119.9px 120.9px,#dbaed2 120.9px 121.9px,#f4d5e0 121.9px 122.9px,#e1d7f5 122.9px 123.9px,#eeeafb 123.9px 124.9px,#fbd6d9 124.9px 125.9px,#ffd1d1 125.9px 126.9px,#ead8ec 126.9px 127.9px,#d0d0ff 127.9px 128.9px,#e4def9 128.9px 129.9px,#fbedf1 129.9px 130.9px,#f6eaf3 130.9px 131.9px,#f4dce7 131.9px 132.9px,#e6d9f2 132.9px 133.9px,#e0d9f8 133.9px 134.9px,#d6d3fc 134.9px 135.9px,#ecddf0 135.9px 136.9px,#d7cff7 136.9px 137.9px,#eadbf1 137.9px 138.9px,#d5d3fd 138.9px 139.9px,#eddff1 139.9px 140.9px,#e1cae8 140.9px 141.9px,#e9ddf3 141.9px 142.9px,#d7d0f8 142.9px 143.9px,#c7b9f0 143.9px 144.9px,#e1c0de 144.9px 145.9px,#fbe0e4 145.9px 146.9px,#f6b7c0 146.9px 147.9px,#edd5e7 147.9px 148.9px,#dbc0e4 148.9px 149.9px,#e9cbe0 149.9px 150.9px,#e9c8de 150.9px 151.9px,#f0d9e8 151.9px 152.9px,#f0c9d8 152.9px 153.9px,#eee2f3 153.9px 154.9px,#e8d7ee 154.9px 155.9px,#dfc1e0 155.9px 156.9px,#e8c2d9 156.9px 157.9px,#fce3e6 157.9px 158.9px,#ebd3e7 158.9px 159.9px,#e0d1f1 159.9px 160.9px,#f1d6e4 160.9px 161.9px,#e8e3f9 161.9px 162.9px,#cfbfef 162.9px 163.9px,#ded3f3 163.9px 164.9px,#efe0f0 164.9px 165.9px,#e8def6 165.9px 166.9px,#e7d6ee 166.9px 167.9px,#dbd1f5 167.9px 168.9px,#e8c7de 168.9px 169.9px,#f1c1cf 169.9px 170.9px,#e8cbe3 170.9px 171.9px,#d5bee8 171.9px 172.9px,#f5c5d0 172.9px 173.9px,#efc5d4 173.9px 174.9px,#e7c8e1 174.9px 175.9px,#eec6d7 175.9px 176.9px,#dac5ea 176.9px 177.9px,#e3c0dc 177.9px 178.9px,#f9abb1 178.9px 179.9px,#f1ddeb 179.9px 180.9px,#e7e3fa 180.9px 181.9px,#f4ebf6 181.9px 182.9px,#d3afdc 182.9px 183.9px,#fac2c7 183.9px 184.9px,#edcfe1 184.9px 185.9px,#dacaef 185.9px 186.9px,#f4c9d4 186.9px 187.9px,#eebccd 187.9px 188.9px,#e7c4dd 188.9px 189.9px,#decff0 189.9px 190.9px,#e5bcd5 190.9px 191.9px,#e6d3ed 191.9px 192.9px,#f3d6e2 192.9px 193.9px,#efa4b4 193.9px 194.9px,#f4c7d2 194.9px 195.9px,#efcddd 195.9px 196.9px,#f6b1ba 196.9px 197.9px,#f9acb2 197.9px 198.9px,#eac6db 198.9px 199.9px,#c9bef4 199.9px 200.9px,#dbd1f4 200.9px 201.9px,#d8ccf4 201.9px 202.9px,#d9c4eb 202.9px 203.9px,#e3c1dd 203.9px 204.9px,#d7b7df 204.9px 205.9px,#efe5f5 205.9px 206.9px,#e2d2ef 206.9px 207.9px,#cbbef2 207.9px 208.9px,#bebdff 208.9px 209.9px,#f8e4eb 209.9px 210.9px,#ffdddd 210.9px 211.9px,#f6dfe8 211.9px 212.9px,#f9e6ec 212.9px 213.9px,#ffbcbc 213.9px 214.9px,#eecbdc 214.9px 215.9px,#d8d5fc 215.9px 216.9px,#f6dae3 216.9px 217.9px,#f7d4dd 217.9px 218.9px,#fde0e2 218.9px 219.9px,#e6c9e3 219.9px 220.9px,#e0c2e1 220.9px 221.9px,#ccc9fc 221.9px 222.9px,#e2bfdc 222.9px 223.9px,#e9a5bb 223.9px 224.9px,#f0c1d0 224.9px 225.9px,#f0bfce 225.9px 226.9px,#eec4d5 226.9px 227.9px,#e8bad1 227.9px 228.9px,#f4d4df 228.9px 229.9px,#e6acc5 229.9px 230.9px,#f9cbd0 230.9px 231.9px,#d8d0f7 231.9px 232.9px,#e3cfeb 232.9px 233.9px,#f2d5e2 233.9px 234.9px,#f0b3c2 234.9px 235.9px,#e0a4c3 235.9px 236.9px,#fbbcc0 236.9px 237.9px,#ebcade 237.9px 238.9px,#f8d8e0 238.9px 239.9px,#ebdff4 239.9px 240.9px,#eadaef 240.9px 241.9px,#f4dfeb 241.9px 242.9px,#edcfe0 242.9px 243.9px,#d6a9d2 243.9px 244.9px,#cfaede 244.9px 245.9px,#ece8fc 245.9px 246.9px,#efcbdb 246.9px 247.9px,#f6bdc6 247.9px 248.9px,#e2d2ee 248.9px 249.9px,#e5d3ec 249.9px 250.9px,#edd0e2 250.9px 251.9px,#e8d9f0 251.9px 252.9px,#f7dde5 252.9px 253.9px,#dbcff2 253.9px 254.9px,#c2a7e4 254.9px 255.9px,#392af0 255.9px 256.9px,#1010ff 256.9px 257.9px,#1313ff 257.9px 258.9px,#1f1fff 258.9px 259.9px,#1e1eff 259.9px 260.9px,#1c1cff 260.9px 261.9px,#2222ff 261.9px 262.9px,#2828ff 262.9px 263.9px,#2c2cff 263.9px 264.9px,#2e2eff 264.9px 265.9px,#2f2fff 265.9px 266.9px,#3535ff 266.9px 267.9px,#3a3aff 267.9px 268.9px,#3c3cff 268.9px 269.9px,#3d3dff 269.9px 270.9px,#4242ff 270.9px 271.9px,#4545ff 271.9px 272.9px,#4545ff 272.9px 273.9px,#4949ff 273.9px 274.9px,#4d4dff 274.9px 275.9px,#4c4cff 275.9px 276.9px,#5454ff 276.9px 277.9px,#5151ff 277.9px 278.9px,#5656ff 278.9px 279.9px,#5959ff 279.9px 280.9px,#5c5cff 280.9px 281.9px,#5c5cff 281.9px 282.9px,#6060ff 282.9px 283.9px,#6363ff 283.9px 284.9px,#6262ff 284.9px 285.9px,#6e6eff 285.9px 286.9px,#6868ff 286.9px 287.9px,#6a6aff 287.9px 288.9px,#6c6cff 288.9px 289.9px,#6e6eff 289.9px 290.9px,#7070ff 290.9px 291.9px,#7474ff 291.9px 292.9px,#7777ff 292.9px 293.9px,#7777ff 293.9px 294.9px,#7b7bff 294.9px 295.9px,#7f7fff 295.9px 296.9px,#9696ff 296.9px 297.9px,#bdb5f6 297.9px 298.9px,#d4a8d3 298.9px 299.9px,#c8b3ea 299.9px 300.9px,#d8b3da 300.9px 301.9px,#dfcded 301.9px 302.9px,#e1d2f1 302.9px 303.9px,#bebeff 303.9px 304.9px,#d4c3ed 304.9px 305.9px,#f1cbd9 305.9px 306.9px,#dfbfe0 306.9px 307.9px,#a591eb 307.9px 308.9px,#b2a0ed 308.9px 309.9px,#9f96f6 309.9px 310.9px,#c1b1ef 310.9px 311.9px,#c6bdf5 311.9px 312.9px,#b09eed 312.9px 313.9px,#b5b5ff 313.9px 314.9px,#c4c0fc 314.9px 315.9px,#f6dce5 315.9px 316.9px,#d1c2f0 316.9px 317.9px,#ccbaed 317.9px 318.9px,#c1bbf9 318.9px 319.9px,#c7b9f1 319.9px 320.9px,#c8b9f0 320.9px 321.9px,#b6b2fc 321.9px 322.9px,#9995fc 322.9px 323.9px,#d2c1ef 323.9px 324.9px,#eae0f5 324.9px 325.9px,#efdfee 325.9px 326.9px,#cbbbee 326.9px 327.9px,#f2d7e4 327.9px 328.9px,#e5cde7 328.9px 329.9px,#bdb0f2 329.9px 330.9px,#e1d7f6 330.9px 331.9px,#bca6e9 331.9px 332.9px,#c1a6e4 332.9px 333.9px,#c9b5ec 333.9px 334.9px,#d0beed 334.9px 335.9px,#998ef4 335.9px 336.9px,#b0a5f4 336.9px 337.9px,#e8d7ee 337.9px 338.9px,#d9d3f9 338.9px 339.9px,#b8adf5 339.9px 340.9px,#e8c6dc 340.9px 341.9px,#b3a8f4 341.9px 342.9px,#b6b3fd 342.9px 343.9px,#cec3f4 343.9px 344.8px,#ba9ee3 344.8px 345.8px,#978ff7 345.8px 346.8px,#9494ff 346.8px 347.8px,#8080ff 347.8px 348.8px,#b3b3ff 348.8px 349.8px,#d8d6fd 349.8px 350.8px,#cacaff 350.8px 351.8px,#cfcfff 351.8px 352.8px,#d0cffe 352.8px 353.8px,#beabec 353.8px 354.8px,#b7a4ed 354.8px 355.8px,#d7d1f9 355.8px 356.8px,#f3ebf7 356.8px 357.8px,#d6d4fc 357.8px 358.8px,#eccde0 358.8px 359.8px,#fcd9dc 359.8px 360.8px,#f6cdd6 360.8px 361.8px,#f8c5cc 361.8px 362.8px,#ffb2b2 362.8px 363.8px,#efd6e6 363.8px 364.8px,#f7edf5 364.8px 365.8px,#f9cbd1 365.8px 366.8px,#ffb5b5 366.8px 367.8px,#f3d4e0 367.8px 368.8px,#f2d2df 368.8px 369.8px,#efcbdc 369.8px 370.8px,#edb6c8 370.8px 371.8px,#fcb7ba 371.8px 372.8px,#d1b9e7 372.8px 373.8px,#e9c4da 373.8px 374.8px,#f5d6e0 374.8px 375.8px,#f4c6d1 375.8px 376.8px,#e8d2e8 376.8px 377.8px,#fddadc 377.8px 378.8px,#f3d4df 378.8px 379.8px,#f9e8ee 379.8px 380.8px,#fbe2e6 380.8px 381.8px,#e8cbe2 381.8px 382.8px,#f2d9e6 382.8px 383.8px,#ecccdf 383.8px 384.8px,#dfc4e4 384.8px 385.8px,#f2d7e4 385.8px 386.8px,#dcc9ed 386.8px 387.8px,#ecd5e8 387.8px 388.8px,#c3ace8 388.8px 389.8px,#cbc9fd 389.8px 390.8px,#e3e1fc 390.8px 391.8px,#ead8ed 391.8px 392.8px,#bdb5f7 392.8px 393.8px,#eac4d9 393.8px 394.8px,#ffabab 394.8px 395.8px,#f5bac4 395.8px 396.8px,#e1b1cf 396.8px 397.8px,#edd2e4 397.8px 398.8px,#dcd0f3 398.8px 399.8px,#efb2c2 399.8px 400.8px,#ffc3c3 400.8px 401.8px,#d7add5 401.8px 402.8px,#ec99ab 402.8px 403.8px,#eebbcc 403.8px 404.8px,#eedbec 404.8px 405.8px,#ffe1e1 405.8px 406.8px,#eae1f6 406.8px 407.8px,#e3d9f5 407.8px 408.8px,#e2c3e1 408.8px 409.8px,#d1c5f3 409.8px 410.8px,#e8cee5 410.8px 411.8px,#e7cce3 411.8px 412.8px,#d7b7de 412.8px 413.8px,#c9a6dc 413.8px 414.8px,#d1acda 414.8px 415.8px,#fec8c9 415.8px 416.8px,#f1c0ce 416.8px 417.8px,#dcc7ea 417.8px 418.8px,#daaed3 418.8px 419.8px,#e1b9d7 419.8px 420.8px,#cabdf2 420.8px 421.8px,#cdb6e8 421.8px 422.8px,#d5b3dd 422.8px 423.8px,#e6c3db 423.8px 424.8px,#eab0c4 424.8px 425.8px,#f8cfd6 425.8px 426.8px,#ccbcef 426.8px 427.8px,#dcc6e9 427.8px 428.8px,#cb88bd 428.8px 429.8px,#e7c1d9 429.8px 430.8px,#ebccdf 430.8px 431.8px,#f7d1d9 431.8px 432.8px,#d3b2de 432.8px 433.8px,#e9cae0 433.8px 434.8px,#d6bfe8 434.8px 435.8px,#e8c4db 435.8px 436.8px,#d4b5e0 436.8px 437.8px,#d9c5eb 437.8px 438.8px,#e2cfec 438.8px 439.8px,#f2c6d3 439.8px 440.8px,#e0dcfb 440.8px 441.8px,#eed3e4 441.8px 442.8px,#dbbade 442.8px 443.8px,#c9bdf3 443.8px 444.8px,#d8cff6 444.8px 445.8px,#faced4 445.8px 446.8px,#cfaedf 446.8px 447.8px,#d3ccf8 447.8px 448.8px,#b388d4 448.8px 449.8px,#dfb5d4 449.8px 450.8px,#bfbafa 450.8px 451.8px,#daccf1 451.8px 452.8px,#bdbbfe 452.8px 453.8px,#c998ce 453.8px 454.8px,#d592bc 454.8px 455.8px,#da93b8 455.8px 456.8px,#c28ac6 456.8px 457.8px,#dbcdf1 457.8px 458.8px)"></div>
<div style="left:1537.88px;top:50.0px;width:62.72px;height:458.8px;background:linear-gradient(#ff8787 0.0px 1.0px,#ff8a8a 1.0px 2.0px,#ff7777 2.0px 3.0px,#ff8b8b 3.0px 4.0px,#ff9e9e 4.0px 5.0px,#ff9595 5.0px 6.0px,#ffaaaa 6.0px 7.0px,#fbafb2 7.0px 8.0px,#ff8e8e 8.0px 9.0px,#f97f85 9.0px 10.0px,#f9a4aa 10.0px 11.0px,#ffa0a0 11.0px 12.0px,#ff9c9c 12.0px 13.0px,#ff8585 13.0px 14.0px,#ff9292 14.0px 15.0px,#fba1a6 15.0px 16.0px,#fba5a9 16.0px 17.0px,#fdacae 17.0px 18.0px,#fd9a9c 18.0px 19.0px,#ffa1a1 19.0px 20.0px,#ff8a8a 20.0px 21.0px,#ff9999 21.0px 22.0px,#ff5f5f 22.0px 23.0px,#ff6767 23.0px 24.0px,#ff8181 24.0px 25.0px,#ff6565 25.0px 26.0px,#ff9090 26.0px 27.0px,#ffb2b2 27.0px 28.0px,#ffb1b2 28.0px 29.0px,#ff8383 29.0px 30.0px,#f7939b 30.0px 31.0px,#ff6e6e 31.0px 32.0px,#fd9ea0 32.0px 33.0px,#ff7575 33.0px 34.0px,#ff9999 34.0px 35.0px,#ffa2a2 35.0px 36.0px,#ffa8a8 36.0px 37.0px,#ffa7a7 37.0px 38.0px,#ff9090 38.0px 39.0px,#ff6464 39.0px 40.0px,#ff8686 40.0px 41.0px,#ff9292 41.0px 42.0px,#ff7171 42.0px 43.0px,#ff8282 43.0px 44.0px,#ff9494 44.0px 45.0px,#f4aeb9 45.0px 46.0px,#ffb5b5 46.0px 47.0px,#ffb9b9 47.0px 48.0px,#ffb5b5 48.0px 49.0px,#ff7676 49.0px 50.0px,#ffa5a5 50.0px 51.0px,#ffa1a1 51.0px 52.0px,#fabcc1 52.0px 53.0px,#f28e9b 53.0px 54.0px,#f599a3 54.0px 55.0px,#fdabad 55.0px 56.0px,#ffa8a8 56.0px 57.0px,#f5a6b0 57.0px 58.0px,#eeacbd 58.0px 59.0px,#ff7878 59.0px 60.0px,#f27e8b 60.0px 61.0px,#fd9395 61.0px 62.0px,#fd8e90 62.0px 63.0px,#fb9a9e 63.0px 64.0px,#fbaaae 64.0px 65.0px,#ff7979 65.0px 66.0px,#fec5c5 66.0px 67.0px,#f9b4ba 67.0px 68.0px,#fe7979 68.0px 69.0px,#f98990 69.0px 70.0px,#fd9fa1 70.0px 71.0px,#fd9091 71.0px 72.0px,#ff6767 72.0px 73.0px,#ff6666 73.0px 74.0px,#ff5353 74.0px 75.0px,#ff6565 75.0px 76.0px,#ff9b9b 76.0px 77.0px,#ff8c8c 77.0px 78.0px,#ff6262 78.0px 79.0px,#ff6969 79.0px 80.0px,#ff9999 80.0px 81.0px,#ff9292 81.0px 82.0px,#ff8484 82.0px 83.0px,#ff6e6e 83.0px 84.0px,#ff6868 84.0px 85.0px,#ff5858 85.0px 86.0px,#ff6d6d 86.0px 87.0px,#ff8282 87.0px 88.0px,#fca3a6 88.0px 89.0px,#ff7d7d 89.0px 90.0px,#ff7a7a 90.0px 91.0px,#ff9494 91.0px 92.0px,#ffa3a3 92.0px 93.0px,#ff9797 93.0px 94.0px,#ff9a9a 94.0px 95.0px,#ff8383 95.0px 96.0px,#ff6969 96.0px 97.0px,#ff8383 97.0px 98.0px,#ffa2a2 98.0px 99.0px,#ff8b8b 99.0px 100.0px,#ff8f8f 100.0px 101.0px,#ff7e7e 101.0px 102.0px,#ff6e6e 102.0px 103.0px,#ff7b7b 103.0px 104.0px,#ff5757 104.0px 105.0px,#ff3939 105.0px 106.0px,#ff5e5e 106.0px 107.0px,#ff6868 107.0px 108.0px,#ff7777 108.0px 109.0px,#ff6d6d 109.0px 110.0px,#ff7f7f 110.0px 111.0px,#f9babf 111.0px 112.0px,#ffc2c2 112.0px 113.0px,#ffb6b6 113.0px 114.0px,#ff8a8a 114.0px 114.9px,#fe9192 114.9px 115.9px,#ff9d9d 115.9px 116.9px,#fec3c4 116.9px 117.9px,#ffa9a9 117.9px 118.9px,#ff6868 118.9px 119.9px,#ff9f9f 119.9px 120.9px,#ffc8c8 120.9px 121.9px,#ffcdcd 121.9px 122.9px,#ffbbbb 122.9px 123.9px,#ffc0c0 123.9px 124.9px,#fdb7b9 124.9px 125.9px,#ff8585 125.9px 126.9px,#f5a2ab 126.9px 127.9px,#f5d4de 127.9px 128.9px,#ffadad 128.9px 129.9px,#ffbaba 129.9px 130.9px,#f8cad2 130.9px 131.9px,#ffb6b6 131.9px 132.9px,#ffb0b0 132.9px 133.9px,#f08997 133.9px 134.9px,#ff7474 134.9px 135.9px,#fcabad 135.9px 136.9px,#ffa4a4 136.9px 137.9px,#ffb9b9 137.9px 138.9px,#ffb9b9 138.9px 139.9px,#fee5e6 139.9px 140.9px,#f7d6de 140.9px 141.9px,#fca7aa 141.9px 142.9px,#ffb1b1 142.9px 143.9px,#ffbbbb 143.9px 144.9px,#ffb4b4 144.9px 145.9px,#fdc8ca 145.9px 146.9px,#fcaeb1 146.9px 147.9px,#fab2b7 147.9px 148.9px,#ff8484 148.9px 149.9px,#ff9696 149.9px 150.9px,#ff7373 150.9px 151.9px,#ff7f7f 151.9px 152.9px,#ff9494 152.9px 153.9px,#ffb7b7 153.9px 154.9px,#f49faa 154.9px 155.9px,#ffaeae 155.9px 156.9px,#febbbc 156.9px 157.9px,#ff9696 157.9px 158.9px,#ff8080 158.9px 159.9px,#ff9898 159.9px 160.9px,#ff8b8b 160.9px 161.9px,#ff9292 161.9px 162.9px,#fdb7ba 162.9px 163.9px,#ff8a8a 163.9px 164.9px,#ff8e8e 164.9px 165.9px,#fea8a9 165.9px 166.9px,#ffa1a1 166.9px 167.9px,#fa8a8f 167.9px 168.9px,#fabcc1 168.9px 169.9px,#ffbebe 169.9px 170.9px,#ffa5a5 170.9px 171.9px,#ffb0b0 171.9px 172.9px,#ffa4a4 172.9px 173.9px,#f8b3ba 173.9px 174.9px,#f9afb5 174.9px 175.9px,#ffaaaa 175.9px 176.9px,#ff9f9f 176.9px 177.9px,#ffa1a1 177.9px 178.9px,#fa9297 178.9px 179.9px,#ff7e7e 179.9px 180.9px,#ff8f8f 180.9px 181.9px,#ff9191 181.9px 182.9px,#febfc0 182.9px 183.9px,#fed2d3 183.9px 184.9px,#e9c0d6 184.9px 185.9px,#ffa9a9 185.9px 186.9px,#ff8484 186.9px 187.9px,#ff9393 187.9px 188.9px,#f7c3cc 188.9px 189.9px,#f7b3bc 189.9px 190.9px,#ff9f9f 190.9px 191.9px,#ff9595 191.9px 192.9px,#ff9e9e 192.9px 193.9px,#f49aa5 193.9px 194.9px,#f7b7bf 194.9px 195.9px,#ffabab 195.9px 196.9px,#ff9a9a 196.9px 197.9px,#f9abb1 197.9px 198.9px,#f9aaaf 198.9px 199.9px,#ff8080 199.9px 200.9px,#ffbbbb 200.9px 201.9px,#fed0d1 201.9px 202.9px,#ffbcbc 202.9px 203.9px,#ff9f9f 203.9px 204.9px,#fa9ba0 204.9px 205.9px,#ffa7a7 205.9px 206.9px,#ff8a8a 206.9px 207.9px,#ff8282 207.9px 208.9px,#ffa1a1 208.9px 209.9px,#fca6a9 209.9px 210.9px,#efd0e0 210.9px 211.9px,#ffb1b1 211.9px 212.9px,#ffb1b1 212.9px 213.9px,#ff6969 213.9px 214.9px,#ff9191 214.9px 215.9px,#ff7878 215.9px 216.9px,#ff8a8a 216.9px 217.9px,#fba1a4 217.9px 218.9px,#f39ba7 218.9px 219.9px,#fc8f92 219.9px 220.9px,#fcadb0 220.9px 221.9px,#ffa1a1 221.9px 222.9px,#ff9090 222.9px 223.9px,#ffa3a3 223.9px 224.9px,#ff8484 224.9px 225.9px,#ff9595 225.9px 226.9px,#ff8b8b 226.9px 227.9px,#feb3b4 227.9px 228.9px,#ffb2b2 228.9px 229.9px,#ff9292 229.9px 230.9px,#f091a1 230.9px 231.9px,#ff8b8b 231.9px 232.9px,#f9aeb4 232.9px 233.9px,#f9c5cc 233.9px 234.9px,#ff9393 234.9px 235.9px,#ff9e9e 235.9px 236.9px,#ff9494 236.9px 237.9px,#fd8e90 237.9px 238.9px,#fea2a3 238.9px 239.9px,#ffc2c2 239.9px 240.9px,#fba2a6 240.9px 241.9px,#ff8383 241.9px 242.9px,#ff9d9d 242.9px 243.9px,#fcbec0 243.9px 244.9px,#fc9da0 244.9px 245.9px,#ffa0a0 245.9px 246.9px,#ffb5b5 246.9px 247.9px,#f49ea9 247.9px 248.9px,#f1bfcd 248.9px 249.9px,#fdb5b7 249.9px 250.9px,#ffa2a2 250.9px 251.9px,#ff9393 251.9px 252.9px,#fe9798 252.9px 253.9px,#ff9f9f 253.9px 254.9px,#f8afb6 254.9px 255.9px,#ead0e5 255.9px 256.9px,#d8d6fe 256.9px 257.9px,#dac9ee 257.9px 258.9px,#c9afe6 258.9px 259.9px,#fed6d7 259.9px 260.9px,#dcd1f3 260.9px 261.9px,#bda9eb 261.9px 262.9px,#dda4c6 262.9px 263.9px,#cda2d4 263.9px 264.9px,#bcb6f9 264.9px 265.9px,#c8b9f0 265.9px 266.9px,#afa0f0 266.9px 267.9px,#9183f1 267.9px 268.9px,#ddbddf 268.9px 269.9px,#b4a3ee 269.9px 270.9px,#acacff 270.9px 271.9px,#9f9fff 271.9px 272.9px,#b59ae4 272.9px 273.9px,#b897dd 273.9px 274.9px,#d2a0cc 274.9px 275.9px,#d6a2cb 275.9px 276.9px,#b79be3 276.9px 277.9px,#9d9dff 277.9px 278.9px,#b39ee9 278.9px 279.9px,#cab4e9 279.9px 280.9px,#b6a6f0 280.9px 281.9px,#ababff 281.9px 282.9px,#a8a3fa 282.9px 283.9px,#a6a1fa 283.9px 284.9px,#9e9afb 284.9px 285.9px,#7c6ef1 285.9px 286.9px,#7777ff 286.9px 287.9px,#b3a8f5 287.9px 288.9px,#e9bed4 288.9px 289.9px,#a998ed 289.9px 290.9px,#9393ff 290.9px 291.9px,#e0e0ff 291.9px 292.9px,#c1c1ff 292.9px 293.9px,#afafff 293.9px 294.9px,#d3cdf9 294.9px 295.9px,#b9b8fe 295.9px 296.9px,#9595ff 296.9px 297.9px,#2c2cff 297.9px 298.9px,#1212ff 298.9px 299.9px,#0f0fff 299.9px 300.9px,#0f0fff 300.9px 301.9px,#1616ff 301.9px 302.9px,#1b1bff 302.9px 303.9px,#1f1fff 303.9px 304.9px,#2222ff 304.9px 305.9px,#2424ff 305.9px 306.9px,#2929ff 306.9px 307.9px,#2828ff 307.9px 308.9px,#2828ff 308.9px 309.9px,#2323ff 309.9px 310.9px,#2d2dff 310.9px 311.9px,#2f2fff 311.9px 312.9px,#2c2cff 312.9px 313.9px,#2d2dff 313.9px 314.9px,#3535ff 314.9px 315.9px,#3b3bff 315.9px 316.9px,#3a3aff 316.9px 317.9px,#3b3bff 317.9px 318.9px,#3d3dff 318.9px 319.9px,#4242ff 319.9px 320.9px,#4646ff 320.9px 321.9px,#4444ff 321.9px 322.9px,#4242ff 322.9px 323.9px,#4646ff 323.9px 324.9px,#4a4aff 324.9px 325.9px,#4949ff 325.9px 326.9px,#4a4aff 326.9px 327.9px,#4c4cff 327.9px 328.9px,#5454ff 328.9px 329.9px,#5353ff 329.9px 330.9px,#5353ff 330.9px 331.9px,#5252ff 331.9px 332.9px,#5b5bff 332.9px 333.9px,#5d5dff 333.9px 334.9px,#5b5bff 334.9px 335.9px,#5959ff 335.9px 336.9px,#5b5bff 336.9px 337.9px,#6262ff 337.9px 338.9px,#6464ff 338.9px 339.9px,#5f5fff 339.9px 340.9px,#5d5dff 340.9px 341.9px,#6464ff 341.9px 342.9px,#6c6cff 342.9px 343.9px,#6e6eff 343.9px 344.8px,#6c6cff 344.8px 345.8px,#6d6dff 345.8px 346.8px,#7272ff 346.8px 347.8px,#7373ff 347.8px 348.8px,#7272ff 348.8px 349.8px,#7474ff 349.8px 350.8px,#7979ff 350.8px 351.8px,#7676ff 351.8px 352.8px,#7979ff 352.8px 353.8px,#7777ff 353.8px 354.8px,#7c7cff 354.8px 355.8px,#7c7cff 355.8px 356.8px,#7a7aff 356.8px 357.8px,#7b7bff 357.8px 358.8px,#a590e9 358.8px 359.8px,#ffcccc 359.8px 360.8px,#ffd3d3 360.8px 361.8px,#fad3d8 361.8px 362.8px,#fbcdd1 362.8px 363.8px,#f9d1d7 363.8px 364.8px,#f9cad1 364.8px 365.8px,#f7e0e9 365.8px 366.8px,#fad9df 366.8px 367.8px,#ffb8b8 367.8px 368.8px,#ffc4c4 368.8px 369.8px,#ffcbcb 369.8px 370.8px,#f5c1cb 370.8px 371.8px,#fba6aa 371.8px 372.8px,#f7d2da 372.8px 373.8px,#f5d4de 373.8px 374.8px,#facfd5 374.8px 375.8px,#fcd9dc 375.8px 376.8px,#d6c3ec 376.8px 377.8px,#e7c6de 377.8px 378.8px,#efd6e5 378.8px 379.8px,#e1bcda 379.8px 380.8px,#f4d3df 380.8px 381.8px,#ffd4d4 381.8px 382.8px,#e6b1cb 382.8px 383.8px,#f7aeb5 383.8px 384.8px,#e8cce4 384.8px 385.8px,#f5c0ca 385.8px 386.8px,#fab8bd 386.8px 387.8px,#ffc0c1 387.8px 388.8px,#fec5c7 388.8px 389.8px,#e6bcd5 389.8px 390.8px,#ebb9cd 390.8px 391.8px,#fdbbbe 391.8px 392.8px,#ebd3e7 392.8px 393.8px,#d6d2fb 393.8px 394.8px,#ded7f8 394.8px 395.8px,#dab4d8 395.8px 396.8px,#fbaeb2 396.8px 397.8px,#eccadd 397.8px 398.8px,#dbcaef 398.8px 399.8px,#e5cce6 399.8px 400.8px,#e8c8de 400.8px 401.8px,#d5bde7 401.8px 402.8px,#eacfe4 402.8px 403.8px,#ecd8eb 403.8px 404.8px,#f0d8e7 404.8px 405.8px,#f5c8d2 405.8px 406.8px,#e0d1f0 406.8px 407.8px,#deb0d2 407.8px 408.8px,#f7c5cd 408.8px 409.8px,#efd4e5 409.8px 410.8px,#eecdde 410.8px 411.8px,#f5d6e0 411.8px 412.8px,#f2cedb 412.8px 413.8px,#f5dee8 413.8px 414.8px,#f0d3e3 414.8px 415.8px,#ffc5c5 415.8px 416.8px,#e5c9e3 416.8px 417.8px,#f2e2ef 417.8px 418.8px,#fdb0b2 418.8px 419.8px,#e4718c 419.8px 420.8px,#f0afbe 420.8px 421.8px,#d7d2fa 421.8px 422.8px,#e0dbfa 422.8px 423.8px,#d3cffa 423.8px 424.8px,#e4cae5 424.8px 425.8px,#bda6e8 425.8px 426.8px,#c2c2ff 426.8px 427.8px,#ddcff2 427.8px 428.8px,#d9cef4 428.8px 429.8px,#dedeff 429.8px 430.8px,#d9d9ff 430.8px 431.8px,#c4b7f2 431.8px 432.8px,#bcaaed 432.8px 433.8px,#d9a9cf 433.8px 434.8px,#e1b7d4 434.8px 435.8px,#d9c2e7 435.8px 436.8px,#c4b2ed 436.8px 437.8px,#e5d3ed 437.8px 438.8px,#dfcfef 438.8px 439.8px,#d1b3e1 439.8px 440.8px,#9d9afc 440.8px 441.8px,#c4b1ec 441.8px 442.8px,#e2c3e0 442.8px 443.8px,#f6bec7 443.8px 444.8px,#dcccef 444.8px 445.8px,#dbc8ec 445.8px 446.8px,#deafd0 446.8px 447.8px,#e7bcd4 447.8px 448.8px,#d994ba 448.8px 449.8px,#f7abb3 449.8px 450.8px,#d3c5f1 450.8px 451.8px,#ecadc0 451.8px 452.8px,#ecafc2 452.8px 453.8px,#d6a9d2 453.8px 454.8px,#c1a0de 454.8px 455.8px,#d2b0dd 455.8px 456.8px,#beb6f7 456.8px 457.8px,#a0a0ff 457.8px 458.8px)"></div>
<div style="left:1600.30px;top:50.0px;width:62.72px;height:458.8px;background:linear-gradient(#deb3d4 0.0px 1.0px,#cfbbeb 1.0px 2.0px,#cac1f6 2.0px 3.0px,#e3bcd8 3.0px 4.0px,#e8b4cb 4.0px 5.0px,#f2becb 5.0px 6.0px,#cab9ee 6.0px 7.0px,#cab6ea 7.0px 8.0px,#f6dde7 8.0px 9.0px,#d8c3ea 9.0px 10.0px,#d1c1ef 10.0px 11.0px,#efe1f1 11.0px 12.0px,#eae3f8 12.0px 13.0px,#d5d5ff 13.0px 14.0px,#c7c7ff 14.0px 15.0px,#e3daf7 15.0px 16.0px,#ffeeee 16.0px 17.0px,#aba2f6 17.0px 18.0px,#cacaff 18.0px 19.0px,#cfcefe 19.0px 20.0px,#c4baf5 20.0px 21.0px,#dac1e6 21.0px 22.0px,#dccdf0 22.0px 23.0px,#e6cce5 23.0px 24.0px,#c1bffd 24.0px 25.0px,#adaafd 25.0px 26.0px,#d1afdd 26.0px 27.0px,#d8bae2 27.0px 28.0px,#d0bfee 28.0px 29.0px,#d5d3fc 29.0px 30.0px,#dabbe0 30.0px 31.0px,#e1b7d5 31.0px 32.0px,#c8baf1 32.0px 33.0px,#ada8fa 33.0px 34.0px,#d5c6f1 34.0px 35.0px,#dfbbdb 35.0px 36.0px,#dea2c4 36.0px 37.0px,#c3baf7 37.0px 38.0px,#c0afee 38.0px 39.0px,#dab3d7 39.0px 40.0px,#cdafe1 40.0px 41.0px,#c5bff9 41.0px 42.0px,#bbbbff 42.0px 43.0px,#c7b7ef 43.0px 44.0px,#9f8eee 44.0px 45.0px,#938df9 45.0px 46.0px,#948df7 46.0px 47.0px,#cdc5f7 47.0px 48.0px,#8383ff 48.0px 49.0px,#b4a2ee 49.0px 50.0px,#d6c5ee 50.0px 51.0px,#bdbdff 51.0px 52.0px,#c8bbf1 52.0px 53.0px,#ab8ee1 53.0px 54.0px,#edb5c6 54.0px 55.0px,#af9fef 55.0px 56.0px,#d1a3d1 56.0px 57.0px,#a898ef 57.0px 58.0px,#7575ff 58.0px 59.0px,#8076f5 59.0px 60.0px,#807dfd 60.0px 61.0px,#9e88e9 61.0px 62.0px,#9f8bec 62.0px 63.0px,#9c9cff 63.0px 64.0px,#9c94f7 64.0px 65.0px,#b0a1f1 65.0px 66.0px,#756af4 66.0px 67.0px,#a16fcd 67.0px 68.0px,#a772ca 68.0px 69.0px,#a14fae 69.0px 70.0px,#bf8aca 70.0px 71.0px,#cbbff3 71.0px 72.0px,#e68ba4 72.0px 73.0px,#ff8383 73.0px 74.0px,#f9bdc3 74.0px 75.0px,#f2cfdc 75.0px 76.0px,#ffa5a5 76.0px 77.0px,#ff6c6c 77.0px 78.0px,#ff5c5c 78.0px 79.0px,#ff6666 79.0px 80.0px,#fc8588 80.0px 81.0px,#fc9c9f 81.0px 82.0px,#ff9898 82.0px 83.0px,#ffa4a4 83.0px 84.0px,#feb0b1 84.0px 85.0px,#ff8e8e 85.0px 86.0px,#ff7a7a 86.0px 87.0px,#ff9393 87.0px 88.0px,#ffb0b0 88.0px 89.0px,#ffc1c1 89.0px 90.0px,#f9b1b7 90.0px 91.0px,#faacb1 91.0px 92.0px,#ff9797 92.0px 93.0px,#ffcbcb 93.0px 94.0px,#ff7878 94.0px 95.0px,#f5818b 95.0px 96.0px,#f5b9c3 96.0px 97.0px,#ff9090 97.0px 98.0px,#ff9191 98.0px 99.0px,#fec4c6 99.0px 100.0px,#ff9c9c 100.0px 101.0px,#ff6868 101.0px 102.0px,#ff7979 102.0px 103.0px,#f28694 103.0px 104.0px,#e295b3 104.0px 105.0px,#fbabaf 105.0px 106.0px,#fcbec1 106.0px 107.0px,#ffaeae 107.0px 108.0px,#ffa4a4 108.0px 109.0px,#fbc5c8 109.0px 110.0px,#febcbd 110.0px 111.0px,#fea8aa 111.0px 112.0px,#ffb1b1 112.0px 113.0px,#ffa0a0 113.0px 114.0px,#f6a0a9 114.0px 114.9px,#ffa4a4 114.9px 115.9px,#ff8888 115.9px 116.9px,#ffa1a1 116.9px 117.9px,#ff7272 117.9px 118.9px,#ff8181 118.9px 119.9px,#ff8b8b 119.9px 120.9px,#ff9f9f 120.9px 121.9px,#ff9292 121.9px 122.9px,#ff7878 122.9px 123.9px,#ff7474 123.9px 124.9px,#fe9b9c 124.9px 125.9px,#feadae 125.9px 126.9px,#ff8a8a 126.9px 127.9px,#ff9696 127.9px 128.9px,#ff9898 128.9px 129.9px,#ff8e8e 129.9px 130.9px,#ff8888 130.9px 131.9px,#ff8888 131.9px 132.9px,#ff9b9b 132.9px 133.9px,#ff8383 133.9px 134.9px,#ff6e6e 134.9px 135.9px,#ff7373 135.9px 136.9px,#ff8888 136.9px 137.9px,#ff7878 137.9px 138.9px,#ff7474 138.9px 139.9px,#ff9c9c 139.9px 140.9px,#fbaeb2 140.9px 141.9px,#fbc1c5 141.9px 142.9px,#ff6464 142.9px 143.9px,#ff7c7c 143.9px 144.9px,#ff8e8e 144.9px 145.9px,#ff8e8e 145.9px 146.9px,#ff8282 146.9px 147.9px,#ff8585 147.9px 148.9px,#ff9393 148.9px 149.9px,#ff8181 149.9px 150.9px,#ff8a8a 150.9px 151.9px,#ff6e6e 151.9px 152.9px,#ff9494 152.9px 153.9px,#ff6e6e 153.9px 154.9px,#ff7272 154.9px 155.9px,#ff9494 155.9px 156.9px,#ff7777 156.9px 157.9px,#ff7a7a 157.9px 158.9px,#ff7979 158.9px 159.9px,#ffaeae 159.9px 160.9px,#ffb7b7 160.9px 161.9px,#ff9494 161.9px 162.9px,#ff9696 162.9px 163.9px,#ff8c8c 163.9px 164.9px,#ff6868 164.9px 165.9px,#ff8787 165.9px 166.9px,#ff7c7c 166.9px 167.9px,#ffa0a0 167.9px 168.9px,#ff8d8d 168.9px 169.9px,#ff6464 169.9px 170.9px,#ff6a6a 170.9px 171.9px,#ff7c7c 171.9px 172.9px,#ff7070 172.9px 173.9px,#ff9393 173.9px 174.9px,#ff5a5a 174.9px 175.9px,#ff4f4f 175.9px 176.9px,#ff8787 176.9px 177.9px,#ff5454 177.9px 178.9px,#ff5151 178.9px 179.9px,#ff4c4c 179.9px 180.9px,#ff8686 180.9px 181.9px,#ff7c7c 181.9px 182.9px,#ff6a6a 182.9px 183.9px,#ff6565 183.9px 184.9px,#ff8888 184.9px 185.9px,#ff8181 185.9px 186.9px,#ff9595 186.9px 187.9px,#ffa0a0 187.9px 188.9px,#ff8383 188.9px 189.9px,#ff7c7c 189.9px 190.9px,#ff8f8f 190.9px 191.9px,#ff8989 191.9px 192.9px,#ff4747 192.9px 193.9px,#ff6767 193.9px 194.9px,#ff9191 194.9px 195.9px,#ff7b7b 195.9px 196.9px,#ff4949 196.9px 197.9px,#ff5555 197.9px 198.9px,#ff7676 198.9px 199.9px,#ff7272 199.9px 200.9px,#ff4747 200.9px 201.9px,#ff4040 201.9px 202.9px,#ff7676 202.9px 203.9px,#ff6969 203.9px 204.9px,#ff4e4e 204.9px 205.9px,#ff7373 205.9px 206.9px,#ff6c6c 206.9px 207.9px,#ff6d6d 207.9px 208.9px,#ff5d5d 208.9px 209.9px,#ff6d6d 209.9px 210.9px,#ff6b6b 210.9px 211.9px,#ff6161 211.9px 212.9px,#ff8383 212.9px 213.9px,#ff7979 213.9px 214.9px,#ff6c6c 214.9px 215.9px,#ff5d5d 215.9px 216.9px,#ff7777 216.9px 217.9px,#ff6f6f 217.9px 218.9px,#ff5858 218.9px 219.9px,#ff6b6b 219.9px 220.9px,#ff7d7d 220.9px 221.9px,#ff6060 221.9px 222.9px,#ff7474 222.9px 223.9px,#ff6d6d 223.9px 224.9px,#ff7575 224.9px 225.9px,#ff8c8c 225.9px 226.9px,#ff6c6c 226.9px 227.9px,#ff5a5a 227.9px 228.9px,#ff4545 228.9px 229.9px,#ff7373 229.9px 230.9px,#ff7a7a 230.9px 231.9px,#ff5c5c 231.9px 232.9px,#ff4e4e 232.9px 233.9px,#ff4646 233.9px 234.9px,#ff3232 234.9px 235.9px,#ff5b5b 235.9px 236.9px,#ff5757 236.9px 237.9px,#ff6363 237.9px 238.9px,#ff5656 238.9px 239.9px,#ff6262 239.9px 240.9px,#ff6161 240.9px 241.9px,#ff6060 241.9px 242.9px,#ff6262 242.9px 243.9px,#ff7373 243.9px 244.9px,#ff5757 244.9px 245.9px,#ff6060 245.9px 246.9px,#ff5151 246.9px 247.9px,#ff5a5a 247.9px 248.9px,#ff6868 248.9px 249.9px,#ff5151 249.9px 250.9px,#ff6262 250.9px 251.9px,#ff6a6a 251.9px 252.9px,#ff5c5c 252.9px 253.9px,#ff5d5d 253.9px 254.9px,#ff5353 254.9px 255.9px,#fa7e83 255.9px 256.9px,#fda6a8 256.9px 257.9px,#ffb0b0 257.9px 258.9px,#ffa1a1 258.9px 259.9px,#ff9999 259.9px 260.9px,#ffa3a3 260.9px 261.9px,#ff7c7c 261.9px 262.9px,#ff8a8a 262.9px 263.9px,#ff8f8f 263.9px 264.9px,#ffaaaa 264.9px 265.9px,#ff9a9a 265.9px 266.9px,#ff6969 266.9px 267.9px,#fc5457 267.9px 268.9px,#fca7aa 268.9px 269.9px,#ff7b7b 269.9px 270.9px,#fb9498 270.9px 271.9px,#edbacc 271.9px 272.9px,#fdadaf 272.9px 273.9px,#f38d99 273.9px 274.9px,#f7a7af 274.9px 275.9px,#ff9d9d 275.9px 276.9px,#f6c3cc 276.9px 277.9px,#f6cfd8 277.9px 278.9px,#e0c1e0 278.9px 279.9px,#e8aac1 279.9px 280.9px,#f497a1 280.9px 281.9px,#f4c0cb 281.9px 282.9px,#f9a5ab 282.9px 283.9px,#ffb5b5 283.9px 284.9px,#f296a3 284.9px 285.9px,#ff8686 285.9px 286.9px,#dfb3d3 286.9px 287.9px,#e489a4 287.9px 288.9px,#f98f95 288.9px 289.9px,#febdbe 289.9px 290.9px,#feacad 290.9px 291.9px,#f6515a 291.9px 292.9px,#fb878c 292.9px 293.9px,#ef7484 293.9px 294.9px,#ff7a7a 294.9px 295.9px,#ffbdbd 295.9px 296.9px,#fab6bb 296.9px 297.9px,#e8d1e8 297.9px 298.9px,#c6ace5 298.9px 299.9px,#a168c6 299.9px 300.9px,#e1a0be 300.9px 301.9px,#f3d1dd 301.9px 302.9px,#e0b0cf 302.9px 303.9px,#e9b6cb 303.9px 304.9px,#e3b2ce 304.9px 305.9px,#d9c7ed 305.9px 306.9px,#edb0c2 306.9px 307.9px,#eeb7c8 307.9px 308.9px,#f1d1e0 308.9px 309.9px,#d0b4e3 309.9px 310.9px,#d8bbe3 310.9px 311.9px,#f5d5df 311.9px 312.9px,#f0bfcd 312.9px 313.9px,#c895cb 313.9px 314.9px,#cfa6d7 314.9px 315.9px,#e0b0cf 315.9px 316.9px,#dcc6ea 316.9px 317.9px,#bdbcfe 317.9px 318.9px,#be9cde 318.9px 319.9px,#f9999f 319.9px 320.9px,#f1c2d1 320.9px 321.9px,#e1b0ce 321.9px 322.9px,#e19ab8 322.9px 323.9px,#e07d9c 323.9px 324.9px,#bf92d2 324.9px 325.9px,#b4a3ee 325.9px 326.9px,#dfadce 326.9px 327.9px,#f28997 327.9px 328.9px,#f38994 328.9px 329.9px,#c59fd9 329.9px 330.9px,#c0a5e4 330.9px 331.9px,#e1cfed 331.9px 332.9px,#f5c9d4 332.9px 333.9px,#dbbde1 333.9px 334.9px,#d6b1da 334.9px 335.9px,#d0a6d6 335.9px 336.9px,#c699d2 336.9px 337.9px,#e4abc6 337.9px 338.9px,#ccaee1 338.9px 339.9px,#f1c5d2 339.9px 340.9px,#d78bb3 340.9px 341.9px,#d4b4de 341.9px 342.9px,#f9a1a7 342.9px 343.9px,#f0aebd 343.9px 344.8px,#efb1c1 344.8px 345.8px,#ce94c5 345.8px 346.8px,#e1a8c7 346.8px 347.8px,#a093f1 347.8px 348.8px,#9c5fc2 348.8px 349.8px,#a57ed8 349.8px 350.8px,#b973ba 350.8px 351.8px,#c47cb7 351.8px 352.8px,#c59ad4 352.8px 353.8px,#fc989b 353.8px 354.8px,#c498d4 354.8px 355.8px,#b294e1 355.8px 356.8px,#e8b3ca 356.8px 357.8px,#a695ee 357.8px 358.8px,#8b6bdf 358.8px 359.8px,#0404ff 359.8px 360.8px,#0606ff 360.8px 361.8px,#0707ff 361.8px 362.8px,#0909ff 362.8px 363.8px,#0909ff 363.8px 364.8px,#0909ff 364.8px 365.8px,#0909ff 365.8px 366.8px,#1212ff 366.8px 367.8px,#1313ff 367.8px 368.8px,#1111ff 368.8px 369.8px,#1313ff 369.8px 370.8px,#1313ff 370.8px 371.8px,#1111ff 371.8px 372.8px,#1818ff 372.8px 373.8px,#1c1cff 373.8px 374.8px,#1e1eff 374.8px 375.8px,#1f1fff 375.8px 376.8px,#2020ff 376.8px 377.8px,#1f1fff 377.8px 378.8px,#1b1bff 378.8px 379.8px,#2222ff 379.8px 380.8px,#2828ff 380.8px 381.8px,#2b2bff 381.8px 382.8px,#2a2aff 382.8px 383.8px,#2b2bff 383.8px 384.8px,#2929ff 384.8px 385.8px,#2828ff 385.8px 386.8px,#2828ff 386.8px 387.8px,#3131ff 387.8px 388.8px,#3636ff 388.8px 389.8px,#3333ff 389.8px 390.8px,#3a3aff 390.8px 391.8px,#3535ff 391.8px 392.8px,#3232ff 392.8px 393.8px,#3030ff 393.8px 394.8px,#3c3cff 394.8px 395.8px,#4040ff 395.8px 396.8px,#3f3fff 396.8px 397.8px,#4242ff 397.8px 398.8px,#4141ff 398.8px 399.8px,#3a3aff 399.8px 400.8px,#3e3eff 400.8px 401.8px,#4747ff 401.8px 402.8px,#4747ff 402.8px 403.8px,#4949ff 403.8px 404.8px,#4b4bff 404.8px 405.8px,#4646ff 405.8px 406.8px,#4747ff 406.8px 407.8px,#4949ff 407.8px 408.8px,#4f4fff 408.8px 409.8px,#5353ff 409.8px 410.8px,#4f4fff 410.8px 411.8px,#4f4fff 411.8px 412.8px,#4f4fff 412.8px 413.8px,#5151ff 413.8px 414.8px,#5252ff 414.8px 415.8px,#5151ff 415.8px 416.8px,#5858ff 416.8px 417.8px,#5a5aff 417.8px 418.8px,#5959ff 418.8px 419.8px,#5c5cff 419.8px 420.8px,#5d5dff 420.8px 421.8px,#5d5dff 421.8px 422.8px,#5f5fff 422.8px 423.8px,#6464ff 423.8px 424.8px,#6363ff 424.8px 425.8px,#5f5fff 425.8px 426.8px,#6363ff 426.8px 427.8px,#6666ff 427.8px 428.8px,#6464ff 428.8px 429.8px,#6868ff 429.8px 430.8px,#6969ff 430.8px 431.8px,#6969ff 431.8px 432.8px,#6767ff 432.8px 433.8px,#6c6cff 433.8px 434.8px,#6e6eff 434.8px 435.8px,#6f6fff 435.8px 436.8px,#6f6fff 436.8px 437.8px,#7070ff 437.8px 438.8px,#6f6fff 438.8px 439.8px,#7171ff 439.8px 440.8px,#7272ff 440.8px 441.8px,#7575ff 441.8px 442.8px,#7171ff 442.8px 443.8px,#7272ff 443.8px 444.8px,#7878ff 444.8px 445.8px,#7979ff 445.8px 446.8px,#7777ff 446.8px 447.8px,#7979ff 447.8px 448.8px,#7878ff 448.8px 449.8px,#7878ff 449.8px 450.8px,#7b7bff 450.8px 451.8px,#7d7dff 451.8px 452.8px,#7a7aff 452.8px 453.8px,#7c7cff 453.8px 454.8px,#7c7cff 454.8px 455.8px,#7b7bff 455.8px 456.8px,#7b7bff 456.8px 457.8px,#7a7aff 457.8px 458.8px)"></div>
<div style="left:1786.30px;top:50.0px;width:62.72px;height:458.8px;background:linear-gradient(#d4c1ec 0.0px 1.0px,#c99cd2 1.0px 2.0px,#c7b9f0 2.0px 3.0px,#d1c9f7 3.0px 4.0px,#d6bde6 4.0px 5.0px,#a694ec 5.0px 6.0px,#c1bdfb 6.0px 7.0px,#af9beb 7.0px 8.0px,#bdadee 8.0px 9.0px,#caaee4 9.0px 10.0px,#dabce1 10.0px 11.0px,#a99af0 11.0px 12.0px,#b1b0fe 12.0px 13.0px,#dcd4f7 13.0px 14.0px,#e9d7ed 14.0px 15.0px,#aba9fc 15.0px 16.0px,#aa7ed3 16.0px 17.0px,#ac89dc 17.0px 18.0px,#c5a2dc 18.0px 19.0px,#c28eca 19.0px 20.0px,#6150ee 20.0px 21.0px,#8970e6 21.0px 22.0px,#978ef6 22.0px 23.0px,#c4a3de 23.0px 24.0px,#ccb4e7 24.0px 25.0px,#c8b2e8 25.0px 26.0px,#8e78e8 26.0px 27.0px,#7d73f4 27.0px 28.0px,#aba6fa 28.0px 29.0px,#d2b7e4 29.0px 30.0px,#9f9fff 30.0px 31.0px,#9c8ef1 31.0px 32.0px,#a99ef4 32.0px 33.0px,#aea7f8 33.0px 34.0px,#9f9fff 34.0px 35.0px,#b1aefc 35.0px 36.0px,#9b9bff 36.0px 37.0px,#9191ff 37.0px 38.0px,#9696ff 38.0px 39.0px,#9075e4 39.0px 40.0px,#998ff5 40.0px 41.0px,#8672ea 41.0px 42.0px,#9997fc 42.0px 43.0px,#d8d6fe 43.0px 44.0px,#cfc1f1 44.0px 45.0px,#c9a9df 45.0px 46.0px,#8883fa 46.0px 47.0px,#7b6cf1 47.0px 48.0px,#a68ce5 48.0px 49.0px,#cf80b0 49.0px 50.0px,#c183c0 50.0px 51.0px,#8989ff 51.0px 52.0px,#c2b7f4 52.0px 53.0px,#b399e6 53.0px 54.0px,#b0a1f0 54.0px 55.0px,#bcb6f9 55.0px 56.0px,#9b9bff 56.0px 57.0px,#a898ef 57.0px 58.0px,#d5a4ce 58.0px 59.0px,#bbb0f3 59.0px 60.0px,#9c88eb 60.0px 61.0px,#9185f3 61.0px 62.0px,#6d6afc 62.0px 63.0px,#ccc3f7 63.0px 64.0px,#e4daf5 64.0px 65.0px,#a682db 65.0px 66.0px,#bca6ea 66.0px 67.0px,#e4bbd6 67.0px 68.0px,#c8a9e1 68.0px 69.0px,#a0a0ff 69.0px 70.0px,#d2c7f4 70.0px 71.0px,#d3afdb 71.0px 72.0px,#d2b5e1 72.0px 73.0px,#a19cfa 73.0px 74.0px,#7c7cff 74.0px 75.0px,#826ce9 75.0px 76.0px,#b295e1 76.0px 77.0px,#aba9fe 77.0px 78.0px,#c2c2ff 78.0px 79.0px,#d4cbf6 79.0px 80.0px,#e4c3dd 80.0px 81.0px,#dbb8dc 81.0px 82.0px,#c1a8e6 82.0px 83.0px,#978cf5 83.0px 84.0px,#eec5d6 84.0px 85.0px,#c2a0dd 85.0px 86.0px,#d2add9 86.0px 87.0px,#e1aecd 87.0px 88.0px,#c093d2 88.0px 89.0px,#988ef5 89.0px 90.0px,#9895fc 90.0px 91.0px,#d3bfeb 91.0px 92.0px,#9682eb 92.0px 93.0px,#b6a4ed 93.0px 94.0px,#6767ff 94.0px 95.0px,#6f6afa 95.0px 96.0px,#8b80f4 96.0px 97.0px,#a19af8 97.0px 98.0px,#a894eb 98.0px 99.0px,#dec1e3 99.0px 100.0px,#bbb3f7 100.0px 101.0px,#aeaafb 101.0px 102.0px,#e7cde5 102.0px 103.0px,#ffd4d4 103.0px 104.0px,#e4d5f0 104.0px 105.0px,#e2ceeb 105.0px 106.0px,#bcabee 106.0px 107.0px,#af9ded 107.0px 108.0px,#7f7fff 108.0px 109.0px,#b29fec 109.0px 110.0px,#d0bbe9 110.0px 111.0px,#cb95c9 111.0px 112.0px,#a398f5 112.0px 113.0px,#9a9aff 113.0px 114.0px,#a7a4fb 114.0px 114.9px,#998cf2 114.9px 115.9px,#d6afd8 115.9px 116.9px,#e0c1e0 116.9px 117.9px,#e6d3ec 117.9px 118.9px,#b5aef8 118.9px 119.9px,#aaa3f8 119.9px 120.9px,#afabfb 120.9px 121.9px,#c8bff6 121.9px 122.9px,#c0b9f8 122.9px 123.9px,#d8c7ee 123.9px 124.9px,#d5bce5 124.9px 125.9px,#d3b8e4 125.9px 126.9px,#cfb2e2 126.9px 127.9px,#b19cea 127.9px 128.9px,#c2bdf9 128.9px 129.9px,#dfd9f9 129.9px 130.9px,#b6aff8 130.9px 131.9px,#a1a1ff 131.9px 132.9px,#9f7ddd 132.9px 133.9px,#736efa 133.9px 134.9px,#756af4 134.9px 135.9px,#766af3 135.9px 136.9px,#a8a2f9 136.9px 137.9px,#d3a5d1 137.9px 138.9px,#9c65c8 138.9px 139.9px,#d79cc3 139.9px 140.9px,#a68ce5 140.9px 141.9px,#7070ff 141.9px 142.9px,#afa2f2 142.9px 143.9px,#e0bedd 143.9px 144.9px,#ccb7e9 144.9px 145.9px,#b4a3ee 145.9px 146.9px,#e9cee4 146.9px 147.9px,#beb3f4 147.9px 148.9px,#bdaaec 148.9px 149.9px,#c2b8f5 149.9px 150.9px,#b397e3 150.9px 151.9px,#c7a1d9 151.9px 152.9px,#c797cf 152.9px 153.9px,#a397f3 153.9px 154.9px,#c6b4ee 154.9px 155.9px,#d3c6f1 155.9px 156.9px,#bbb3f7 156.9px 157.9px,#c2befb 157.9px 158.9px,#a2a2ff 158.9px 159.9px,#7e7bfc 159.9px 160.9px,#8079f8 160.9px 161.9px,#9595ff 161.9px 162.9px,#6857ef 162.9px 163.9px,#7777ff 163.9px 164.9px,#a68ce5 164.9px 165.9px,#bda3e5 165.9px 166.9px,#b8b8ff 166.9px 167.9px,#c29ad7 167.9px 168.9px,#b55fa9 168.9px 169.9px,#d2a8d5 169.9px 170.9px,#e5e3fd 170.9px 171.9px,#b7b5fd 171.9px 172.9px,#7272ff 172.9px 173.9px,#9174e2 173.9px 174.9px,#ceb0e1 174.9px 175.9px,#e1d7f5 175.9px 176.9px,#b4aaf5 176.9px 177.9px,#d0b4e3 177.9px 178.9px,#b099e8 178.9px 179.9px,#9d8ef0 179.9px 180.9px,#b787cf 180.9px 181.9px,#aba7fb 181.9px 182.9px,#cec9fa 182.9px 183.9px,#d3bae6 183.9px 184.9px,#d5aad4 184.9px 185.9px,#bea2e3 185.9px 186.9px,#b9aaf0 186.9px 187.9px,#b3b2fe 187.9px 188.9px,#b9b3f9 188.9px 189.9px,#a187e5 189.9px 190.9px,#aba7fc 190.9px 191.9px,#d9cef3 191.9px 192.9px,#e3ddf9 192.9px 193.9px,#d6b9e2 193.9px 194.9px,#e0c8e7 194.9px 195.9px,#c2a5e2 195.9px 196.9px,#9e9dfe 196.9px 197.9px,#ecd3e7 197.9px 198.9px,#e2c3e0 198.9px 199.9px,#a6a6ff 199.9px 200.9px,#d4a6d1 200.9px 201.9px,#b78bd3 201.9px 202.9px,#8b8bff 202.9px 203.9px,#b09dec 203.9px 204.9px,#dfa9c9 204.9px 205.9px,#e59fb8 205.9px 206.9px,#d8d3fa 206.9px 207.9px,#a095f4 207.9px 208.9px,#c7b1e9 208.9px 209.9px,#de9abb 209.9px 210.9px,#c592cc 210.9px 211.9px,#a198f6 211.9px 212.9px,#a69df6 212.9px 213.9px,#aca2f6 213.9px 214.9px,#b9b9ff 214.9px 215.9px,#c4bff9 215.9px 216.9px,#cecafb 216.9px 217.9px,#9484ef 217.9px 218.9px,#c5bdf7 218.9px 219.9px,#e5cde7 219.9px 220.9px,#c2abe7 220.9px 221.9px,#cbb9ee 221.9px 222.9px,#af81d1 222.9px 223.9px,#aa9aef 223.9px 224.9px,#bfa1e1 224.9px 225.9px,#9d7ee0 225.9px 226.9px,#bcb3f6 226.9px 227.9px,#8383ff 227.9px 228.9px,#d1afdd 228.9px 229.9px,#eccbdf 229.9px 230.9px,#cec3f4 230.9px 231.9px,#eae1f5 231.9px 232.9px,#bfaded 232.9px 233.9px,#ac95e7 233.9px 234.9px,#c5bff8 234.9px 235.9px,#c8aae2 235.9px 236.9px,#c39bd6 236.9px 237.9px,#9595ff 237.9px 238.9px,#e4daf4 238.9px 239.9px,#ddd3f5 239.9px 240.9px,#ada5f7 240.9px 241.9px,#b085d4 241.9px 242.9px,#d191bf 242.9px 243.9px,#beb8f9 243.9px 244.9px,#bab2f7 244.9px 245.9px,#acaafc 245.9px 246.9px,#b9aff5 246.9px 247.9px,#daafd4 247.9px 248.9px,#dcb7da 248.9px 249.9px,#ddb2d5 249.9px 250.9px,#e4819c 250.9px 251.9px,#e095b4 251.9px 252.9px,#d27daa 252.9px 253.9px,#f7868e 253.9px 254.9px,#ed5467 254.9px 255.9px,#e97e94 255.9px 256.9px,#fea5a6 256.9px 257.9px,#f08f9d 257.9px 258.9px,#e5aac3 258.9px 259.9px,#ca8bc0 259.9px 260.9px,#dcb2d6 260.9px 261.9px,#ffa0a0 261.9px 262.9px,#ff9999 262.9px 263.9px,#eabbd0 263.9px 264.9px,#ff9b9b 264.9px 265.9px,#ce99ca 265.9px 266.9px,#e16b89 266.9px 267.9px,#e183a1 267.9px 268.9px,#cf84b4 268.9px 269.9px,#e59fb8 269.9px 270.9px,#fea8a9 270.9px 271.9px,#f0bccc 271.9px 272.9px,#f4c2cd 272.9px 273.9px,#fca9ac 273.9px 274.9px,#dab7dc 274.9px 275.9px,#de9fc0 275.9px 276.9px,#ea97ac 276.9px 277.9px,#f06372 277.9px 278.9px,#f08e9d 278.9px 279.9px,#dda8ca 279.9px 280.9px,#d97fa5 280.9px 281.9px,#f96d73 281.9px 282.9px,#f9bfc5 282.9px 283.9px,#ffa2a2 283.9px 284.9px,#ffc8c9 284.9px 285.9px,#eeadbe 285.9px 286.9px,#d6aad3 286.9px 287.9px,#cfa7d7 287.9px 288.9px,#d29ac8 288.9px 289.9px,#daa4c9 289.9px 290.9px,#d7add5 290.9px 291.9px,#d8c9f0 291.9px 292.9px,#fc9ea1 292.9px 293.9px,#f4929e 293.9px 294.9px,#ee6c7d 294.9px 295.9px,#ee98a9 295.9px 296.9px,#f7d2da 296.9px 297.9px,#ffaaaa 297.9px 298.9px,#ffb5b5 298.9px 299.9px,#fc898c 299.9px 300.9px,#ef90a0 300.9px 301.9px,#ed97a8 301.9px 302.9px,#f9d9de 302.9px 303.9px,#c89ed5 303.9px 304.9px,#ce9fd1 304.9px 305.9px,#ffa7a7 305.9px 306.9px,#fcb0b3 306.9px 307.9px,#f7d5dd 307.9px 308.9px,#e4bdd8 308.9px 309.9px,#f0b4c3 309.9px 310.9px,#f2b4c2 310.9px 311.9px,#ef808f 311.9px 312.9px,#edc7d9 312.9px 313.9px,#eaaabe 313.9px 314.9px,#f0a9b9 314.9px 315.9px,#dc9abc 315.9px 316.9px,#ed697b 316.9px 317.9px,#c99dd3 317.9px 318.9px,#dea3c4 318.9px 319.9px,#ffa6a6 319.9px 320.9px,#f5a1ab 320.9px 321.9px,#f597a1 321.9px 322.9px,#f38692 322.9px 323.9px,#e3b5d2 323.9px 324.9px,#fdbec0 324.9px 325.9px,#eaa4b9 325.9px 326.9px,#f093a2 326.9px 327.9px,#f09dac 327.9px 328.9px,#e8abc3 328.9px 329.9px,#d6a5ce 329.9px 330.9px,#edbbcd 330.9px 331.9px,#f9cfd6 331.9px 332.9px,#fbc7cb 332.9px 333.9px,#f2b5c1 333.9px 334.9px,#f9c0c6 334.9px 335.9px,#e9a2b8 335.9px 336.9px,#f8959c 336.9px 337.9px,#ecacbf 337.9px 338.9px,#e587a0 338.9px 339.9px,#f698a1 339.9px 340.9px,#e99db3 340.9px 341.9px,#ee8899 341.9px 342.9px,#faa8ad 342.9px 343.9px,#eeb9ca 343.9px 344.8px,#e18daa 344.8px 345.8px,#ffa5a5 345.8px 346.8px,#e8b8cf 346.8px 347.8px,#e4b6d1 347.8px 348.8px,#efcada 348.8px 349.8px,#ff8f8f 349.8px 350.8px,#f9afb5 350.8px 351.8px,#f3b8c4 351.8px 352.8px,#dcccf0 352.8px 353.8px,#e5bed8 353.8px 354.8px,#ddb3d6 354.8px 355.8px,#e57a93 355.8px 356.8px,#c476b1 356.8px 357.8px,#bf5a9a 357.8px 358.8px,#ddb3d6 358.8px 359.8px,#e2b0ce 359.8px 360.8px,#d9b3d9 360.8px 361.8px,#d29cc9 361.8px 362.8px,#ea889d 362.8px 363.8px,#fc9598 363.8px 364.8px,#f49da8 364.8px 365.8px,#fc9093 365.8px 366.8px,#ead2e7 366.8px 367.8px,#d6bae3 367.8px 368.8px,#ce9ccd 368.8px 369.8px,#dcbde0 369.8px 370.8px,#ff9191 370.8px 371.8px,#e7acc5 371.8px 372.8px,#f9adb3 372.8px 373.8px,#ec7588 373.8px 374.8px,#dda7c9 374.8px 375.8px,#d26693 375.8px 376.8px,#d7789f 376.8px 377.8px,#e296b3 377.8px 378.8px,#e3637f 378.8px 379.8px,#e79db4 379.8px 380.8px,#eccbde 380.8px 381.8px,#f28d9a 381.8px 382.8px,#e9a4bb 382.8px 383.8px,#fb6165 383.8px 384.8px,#ff8181 384.8px 385.8px,#f39fab 385.8px 386.8px,#f3dce7 386.8px 387.8px,#ff9d9d 387.8px 388.8px,#ed7284 388.8px 389.8px,#dc8db0 389.8px 390.8px,#efc9d9 390.8px 391.8px,#fbd2d6 391.8px 392.8px,#e3aeca 392.8px 393.8px,#eab8cd 393.8px 394.8px,#e8a4bb 394.8px 395.8px,#ffa5a5 395.8px 396.8px,#fbaeb1 396.8px 397.8px,#e7b2ca 397.8px 398.8px,#e5bfd8 398.8px 399.8px,#f8c0c7 399.8px 400.8px,#cbb0e4 400.8px 401.8px,#bc92d5 401.8px 402.8px,#e6b8d1 402.8px 403.8px,#ecaabe 403.8px 404.8px,#ff8f8f 404.8px 405.8px,#ff9a9a 405.8px 406.8px,#f7b5bd 406.8px 407.8px,#a99ef4 407.8px 408.8px,#d199c7 408.8px 409.8px,#d99dc3 409.8px 410.8px,#e494af 410.8px 411.8px,#d88db3 411.8px 412.8px,#e5a9c3 412.8px 413.8px,#de8dae 413.8px 414.8px,#ea92a7 414.8px 415.8px,#f9a8ae 415.8px 416.8px,#fcabaf 416.8px 417.8px,#c67eb6 417.8px 418.8px,#e8879e 418.8px 419.8px,#fabdc2 419.8px 420.8px,#e598b3 420.8px 421.8px,#e77087 421.8px 422.8px,#ef9bac 422.8px 423.8px,#dfaaca 423.8px 424.8px,#ef8393 424.8px 425.8px,#fdafb0 425.8px 426.8px,#e2cdeb 426.8px 427.8px,#c498d3 427.8px 428.8px,#e0a1c0 428.8px 429.8px,#ffb0b0 429.8px 430.8px,#ecb9cc 430.8px 431.8px,#eccadd 431.8px 432.8px,#f49da8 432.8px 433.8px,#caace1 433.8px 434.8px,#feb9ba 434.8px 435.8px,#fb8a8d 435.8px 436.8px,#f0a4b4 436.8px 437.8px,#cba1d5 437.8px 438.8px,#dc93b6 438.8px 439.8px,#f5d1db 439.8px 440.8px,#f2c2d0 440.8px 441.8px,#fbc0c4 441.8px 442.8px,#d9aed4 442.8px 443.8px,#e2b6d3 443.8px 444.8px,#eea6b7 444.8px 445.8px,#f0bccb 445.8px 446.8px,#f5a0aa 446.8px 447.8px,#edb2c4 447.8px 448.8px,#f2bfcb 448.8px 449.8px,#f09cab 449.8px 450.8px,#f8c8cf 450.8px 451.8px,#dfb6d6 451.8px 452.8px,#c98fc6 452.8px 453.8px,#bb9ade 453.8px 454.8px,#d7b0d7 454.8px 455.8px,#f3c6d2 455.8px 456.8px,#f6c9d2 456.8px 457.8px,#f7a5ad 457.8px 458.8px)"></div>
<div style="left:1848.72px;top:50.0px;width:62.72px;height:458.8px;background:linear-gradient(#ff5656 0.0px 1.0px,#f97c82 1.0px 2.0px,#e98a9f 2.0px 3.0px,#eb6d81 3.0px 4.0px,#fd585a 4.0px 5.0px,#fb5a5d 5.0px 6.0px,#fd8789 6.0px 7.0px,#fea0a1 7.0px 8.0px,#eb778b 8.0px 9.0px,#eb677b 9.0px 10.0px,#ff5656 10.0px 11.0px,#ff6c6c 11.0px 12.0px,#ff9494 12.0px 13.0px,#ffa7a7 13.0px 14.0px,#e79eb6 14.0px 15.0px,#e75971 15.0px 16.0px,#ff8383 16.0px 17.0px,#ff9d9d 17.0px 18.0px,#ff8b8b 18.0px 19.0px,#ff9393 19.0px 20.0px,#e8778e 20.0px 21.0px,#ff6363 21.0px 22.0px,#f99ca2 22.0px 23.0px,#fa696e 23.0px 24.0px,#fa8c92 24.0px 25.0px,#ffacac 25.0px 26.0px,#ff8282 26.0px 27.0px,#ffabab 27.0px 28.0px,#fa8b90 28.0px 29.0px,#ff9898 29.0px 30.0px,#ff7878 30.0px 31.0px,#ff8b8b 31.0px 32.0px,#e9889d 32.0px 33.0px,#e2c1de 33.0px 34.0px,#f6aeb7 34.0px 35.0px,#ff6d6d 35.0px 36.0px,#ff9c9c 36.0px 37.0px,#fd8e90 37.0px 38.0px,#f8939a 38.0px 39.0px,#f6b7c0 39.0px 40.0px,#f4adb9 40.0px 41.0px,#fc9fa2 41.0px 42.0px,#db96ba 42.0px 43.0px,#d192c0 43.0px 44.0px,#f5838d 44.0px 45.0px,#ef94a4 45.0px 46.0px,#ffafaf 46.0px 47.0px,#fe9192 47.0px 48.0px,#fbbdc1 48.0px 49.0px,#f9cad0 49.0px 50.0px,#f496a2 50.0px 51.0px,#ff7a7a 51.0px 52.0px,#ff8383 52.0px 53.0px,#e08cab 53.0px 54.0px,#ff8080 54.0px 55.0px,#ff7676 55.0px 56.0px,#f9787f 56.0px 57.0px,#ff3f3f 57.0px 58.0px,#ed8496 58.0px 59.0px,#f2929f 59.0px 60.0px,#ff6b6b 60.0px 61.0px,#fb989c 61.0px 62.0px,#fc9194 62.0px 63.0px,#e1a8c5 63.0px 64.0px,#ff6e6e 64.0px 65.0px,#d481ac 65.0px 66.0px,#ffa1a1 66.0px 67.0px,#ffbbbb 67.0px 68.0px,#f1a4b1 68.0px 69.0px,#fc8c8f 69.0px 70.0px,#ff8282 70.0px 71.0px,#df93b3 71.0px 72.0px,#bbabee 72.0px 73.0px,#e2abc8 73.0px 74.0px,#dcb7d9 74.0px 75.0px,#ee96a7 75.0px 76.0px,#c5a0da 76.0px 77.0px,#d2a6d3 77.0px 78.0px,#e7b1c9 78.0px 79.0px,#e4d5f0 79.0px 80.0px,#b5a0ea 80.0px 81.0px,#d298c5 81.0px 82.0px,#ebd1e6 82.0px 83.0px,#e1acca 83.0px 84.0px,#f0aebd 84.0px 85.0px,#ff9c9c 85.0px 86.0px,#ffc9c9 86.0px 87.0px,#f0d5e4 87.0px 88.0px,#ab82d5 88.0px 89.0px,#cdbff0 89.0px 90.0px,#d2b5e2 90.0px 91.0px,#e5a0ba 91.0px 92.0px,#e89eb5 92.0px 93.0px,#eba9bd 93.0px 94.0px,#d9b9df 94.0px 95.0px,#e2b5d2 95.0px 96.0px,#f4b6c1 96.0px 97.0px,#f5bcc5 97.0px 98.0px,#c9a9df 98.0px 99.0px,#ba97dc 99.0px 100.0px,#c8689f 100.0px 101.0px,#ffa1a1 101.0px 102.0px,#f1d0de 102.0px 103.0px,#f1cddb 103.0px 104.0px,#e5c3dd 104.0px 105.0px,#eadaee 105.0px 106.0px,#cfaddd 106.0px 107.0px,#cf9ac9 107.0px 108.0px,#f9b5bc 108.0px 109.0px,#e8c3da 109.0px 110.0px,#fdd1d3 110.0px 111.0px,#f192a0 111.0px 112.0px,#c28ecb 112.0px 113.0px,#d9a5ca 113.0px 114.0px,#d9a4c9 114.0px 114.9px,#d699c2 114.9px 115.9px,#dc95b7 115.9px 116.9px,#e6bbd5 116.9px 117.9px,#ffe2e2 117.9px 118.9px,#dbd4f8 118.9px 119.9px,#e2bcd9 119.9px 120.9px,#da92b7 120.9px 121.9px,#e3bbd7 121.9px 122.9px,#c098d8 122.9px 123.9px,#d9bbe2 123.9px 124.9px,#c6a7e0 124.9px 125.9px,#ca9ace 125.9px 126.9px,#c1a4e2 126.9px 127.9px,#c7ace4 127.9px 128.9px,#e4a3be 128.9px 129.9px,#9d7adc 129.9px 130.9px,#d0c2f2 130.9px 131.9px,#f5a7b1 131.9px 132.9px,#e4a5c0 132.9px 133.9px,#f0a8b7 133.9px 134.9px,#f2afbc 134.9px 135.9px,#de9abb 135.9px 136.9px,#f0c2d1 136.9px 137.9px,#c6bbf4 137.9px 138.9px,#b7a8f1 138.9px 139.9px,#f8c9d0 139.9px 140.9px,#eec6d7 140.9px 141.9px,#ebbfd4 141.9px 142.9px,#f39fab 142.9px 143.9px,#ea8a9f 143.9px 144.9px,#b194e3 144.9px 145.9px,#a5a5ff 145.9px 146.9px,#d0afde 146.9px 147.9px,#bd6eb0 147.9px 148.9px,#f17987 148.9px 149.9px,#ff9494 149.9px 150.9px,#faa7ad 150.9px 151.9px,#a384e1 151.9px 152.9px,#af9eee 152.9px 153.9px,#c99bd1 153.9px 154.9px,#d9ccf2 154.9px 155.9px,#dac4e9 155.9px 156.9px,#cab7eb 156.9px 157.9px,#d8bce3 157.9px 158.9px,#caa2d7 158.9px 159.9px,#ca8cc1 159.9px 160.9px,#cfb1e1 160.9px 161.9px,#a698f0 161.9px 162.9px,#b186d5 162.9px 163.9px,#ffb7b7 163.9px 164.9px,#b09eed 164.9px 165.9px,#8561db 165.9px 166.9px,#a09bfa 166.9px 167.9px,#ffdcdc 167.9px 168.9px,#a697f1 168.9px 169.9px,#ada2f4 169.9px 170.9px,#d9bae0 170.9px 171.9px,#d2caf8 171.9px 172.9px,#dbbade 172.9px 173.9px,#d3b2df 173.9px 174.9px,#cbcbff 174.9px 175.9px,#d5cbf5 175.9px 176.9px,#d0beec 176.9px 177.9px,#eccee1 177.9px 178.9px,#d8add4 178.9px 179.9px,#d095c3 179.9px 180.9px,#bb6baf 180.9px 181.9px,#fb888c 181.9px 182.9px,#f4939e 182.9px 183.9px,#d2a0ce 183.9px 184.9px,#c17ab8 184.9px 185.9px,#e2b5d2 185.9px 186.9px,#d6bee6 186.9px 187.9px,#c4abe6 187.9px 188.9px,#debadb 188.9px 189.9px,#ad90e2 189.9px 190.9px,#c493ce 190.9px 191.9px,#e1cfed 191.9px 192.9px,#ce8bbc 192.9px 193.9px,#af9ae9 193.9px 194.9px,#978cf4 194.9px 195.9px,#af86d6 195.9px 196.9px,#c89fd7 196.9px 197.9px,#d0a6d4 197.9px 198.9px,#a47ad6 198.9px 199.9px,#c792cb 199.9px 200.9px,#dda3c6 200.9px 201.9px,#cca2d6 201.9px 202.9px,#c2a4e1 202.9px 203.9px,#d0a6d5 203.9px 204.9px,#c8c6fd 204.9px 205.9px,#eaa2b8 205.9px 206.9px,#e17a98 206.9px 207.9px,#9d75d7 207.9px 208.9px,#9480ea 208.9px 209.9px,#d48db8 209.9px 210.9px,#d089b8 210.9px 211.9px,#e6b9d3 211.9px 212.9px,#bbaff3 212.9px 213.9px,#9f89e9 213.9px 214.9px,#c395d1 214.9px 215.9px,#dbcef1 215.9px 216.9px,#e393b0 216.9px 217.9px,#d184b2 217.9px 218.9px,#9595fe 218.9px 219.9px,#d489b4 219.9px 220.9px,#b66cb5 220.9px 221.9px,#c59bd5 221.9px 222.9px,#dfbddd 222.9px 223.9px,#af8ddd 223.9px 224.9px,#a79ef6 224.9px 225.9px,#d09ece 225.9px 226.9px,#f7c4cc 226.9px 227.9px,#e7a3bc 227.9px 228.9px,#f8cbd2 228.9px 229.9px,#e7b7d0 229.9px 230.9px,#efbaca 230.9px 231.9px,#e297b4 231.9px 232.9px,#de85a6 232.9px 233.9px,#dcc9ec 233.9px 234.9px,#d7d0f7 234.9px 235.9px,#c5b2ec 235.9px 236.9px,#b390dc 236.9px 237.9px,#e9b1c7 237.9px 238.9px,#d1b7e5 238.9px 239.9px,#b988ce 239.9px 240.9px,#c0b3f2 240.9px 241.9px,#d8c3ea 241.9px 242.9px,#b98bd1 242.9px 243.9px,#d6add6 243.9px 244.9px,#e3cde9 244.9px 245.9px,#a397f2 245.9px 246.9px,#aba4f8 246.9px 247.9px,#b091e0 247.9px 248.9px,#a09efd 248.9px 249.9px,#8d7ef0 249.9px 250.9px,#dcbee1 250.9px 251.9px,#ad9df0 251.9px 252.9px,#6f55e5 252.9px 253.9px,#9280ec 253.9px 254.9px,#d18fbd 254.9px 255.9px,#b895dd 255.9px 256.9px,#9594fe 256.9px 257.9px,#b298e5 257.9px 258.9px,#b39ae5 258.9px 259.9px,#8a5fd4 259.9px 260.9px,#7e7eff 260.9px 261.9px,#857bf5 261.9px 262.9px,#9291fe 262.9px 263.9px,#c19ddb 263.9px 264.9px,#db9ec2 264.9px 265.9px,#bb7ec2 265.9px 266.9px,#a29af7 266.9px 267.9px,#acacff 267.9px 268.9px,#a98be1 268.9px 269.9px,#af8bda 269.9px 270.9px,#a196f3 270.9px 271.9px,#8b8bff 271.9px 272.9px,#9588f2 272.9px 273.9px,#ada0f2 273.9px 274.9px,#b5a4ed 274.9px 275.9px,#9797ff 275.9px 276.9px,#9593fd 276.9px 277.9px,#a59df6 277.9px 278.9px,#d2c4f1 278.9px 279.9px,#eeb9ca 279.9px 280.9px,#d99fc5 280.9px 281.9px,#c0b1f1 281.9px 282.9px,#afa2f3 282.9px 283.9px,#f2d5e3 283.9px 284.9px,#adadff 284.9px 285.9px,#9493fe 285.9px 286.9px,#aeaeff 286.9px 287.9px,#b3affb 287.9px 288.9px,#bb99de 288.9px 289.9px,#f5929d 289.9px 290.9px,#b18cda 290.9px 291.9px,#b399e5 291.9px 292.9px,#cfb5e5 292.9px 293.9px,#a297f4 293.9px 294.9px,#c4aae4 294.9px 295.9px,#beb3f3 295.9px 296.9px,#b2b0fd 296.9px 297.9px,#7f7fff 297.9px 298.9px,#998ff5 298.9px 299.9px,#dccef1 299.9px 300.9px,#9595ff 300.9px 301.9px,#b3a7f4 301.9px 302.9px,#b5aff9 302.9px 303.9px,#b991d7 303.9px 304.9px,#a99bf2 304.9px 305.9px,#bbb7fb 305.9px 306.9px,#b5b5ff 306.9px 307.9px,#b597e1 307.9px 308.9px,#b584cd 308.9px 309.9px,#9c85e8 309.9px 310.9px,#8b8bff 310.9px 311.9px,#908efd 311.9px 312.9px,#a29efb 312.9px 313.9px,#d19dcb 313.9px 314.9px,#caa9df 314.9px 315.9px,#ae9eef 315.9px 316.9px,#a89ff6 316.9px 317.9px,#9d81e3 317.9px 318.9px,#8076f5 318.9px 319.9px,#d08bba 319.9px 320.9px,#c9b2e8 320.9px 321.9px,#c8c2f9 321.9px 322.9px,#7878ff 322.9px 323.9px,#9797ff 323.9px 324.9px,#a887de 324.9px 325.9px,#b787ce 325.9px 326.9px,#8d8dff 326.9px 327.9px,#4848ff 327.9px 328.9px,#8282ff 328.9px 329.9px,#8872e9 329.9px 330.9px,#8872e9 330.9px 331.9px,#6262ff 331.9px 332.9px,#9d9afd 332.9px 333.9px,#cec9fa 333.9px 334.9px,#dad6fa 334.9px 335.9px,#a2a2ff 335.9px 336.9px,#ae99ea 336.9px 337.9px,#c5aee8 337.9px 338.9px,#bf8fcf 338.9px 339.9px,#b08fde 339.9px 340.9px,#7b7bff 340.9px 341.9px,#c7baf2 341.9px 342.9px,#a9a9ff 342.9px 343.9px,#cbc9fc 343.9px 344.8px,#a9a7fc 344.8px 345.8px,#c3c0fc 345.8px 346.8px,#aeaafa 346.8px 347.8px,#917dec 347.8px 348.8px,#9693fc 348.8px 349.8px,#d9c5ea 349.8px 350.8px,#867df6 350.8px 351.8px,#c79dd5 351.8px 352.8px,#bba2e6 352.8px 353.8px,#aa92e7 353.8px 354.8px,#a7a3fb 354.8px 355.8px,#ddbbdd 355.8px 356.8px,#edb4c6 356.8px 357.8px,#e4aec9 357.8px 358.8px,#fcb3b6 358.8px 359.8px,#ebc5d9 359.8px 360.8px,#a184e2 360.8px 361.8px,#9985ea 361.8px 362.8px,#f5a8b2 362.8px 363.8px,#d8c9f0 363.8px 364.8px,#bab0f5 364.8px 365.8px,#d7aed6 365.8px 366.8px,#dfc0e0 366.8px 367.8px,#d0c9f8 367.8px 368.8px,#dab9de 368.8px 369.8px,#f48691 369.8px 370.8px,#ffb6b6 370.8px 371.8px,#d7c3eb 371.8px 372.8px,#ded5f6 372.8px 373.8px,#eaadc1 373.8px 374.8px,#f6b8c0 374.8px 375.8px,#d3b2de 375.8px 376.8px,#9168d6 376.8px 377.8px,#cea6d7 377.8px 378.8px,#e6c8e1 378.8px 379.8px,#fca8ab 379.8px 380.8px,#edacbe 380.8px 381.8px,#fec1c3 381.8px 382.8px,#dab0d5 382.8px 383.8px,#e5526c 383.8px 384.8px,#ed9bad 384.8px 385.8px,#cb9cd1 385.8px 386.8px,#ef909f 386.8px 387.8px,#f1bac8 387.8px 388.8px,#d2abd7 388.8px 389.8px,#d8aed5 389.8px 390.8px,#dfb6d6 390.8px 391.8px,#c988be 391.8px 392.8px,#f7bcc4 392.8px 393.8px,#efdfef 393.8px 394.8px,#d0b0df 394.8px 395.8px,#e79fb6 395.8px 396.8px,#f4c0cb 396.8px 397.8px,#eb99ad 397.8px 398.8px,#ccaee1 398.8px 399.8px,#d8bae1 399.8px 400.8px,#dda9cb 400.8px 401.8px,#efc1d0 401.8px 402.8px,#fd989a 402.8px 403.8px,#e37692 403.8px 404.8px,#cd94c6 404.8px 405.8px,#d0a6d6 405.8px 406.8px,#cfa7d7 406.8px 407.8px,#dc9bbe 407.8px 408.8px,#f29ca9 408.8px 409.8px,#dd9fc1 409.8px 410.8px,#ddb5d7 410.8px 411.8px,#e5b9d3 411.8px 412.8px,#d8add3 412.8px 413.8px,#c0b6f5 413.8px 414.8px,#e2b8d5 414.8px 415.8px,#d6aed7 415.8px 416.8px,#c89ad1 416.8px 417.8px,#edc9db 417.8px 418.8px,#c09cdb 418.8px 419.8px,#e898af 419.8px 420.8px,#f8b4bb 420.8px 421.8px,#dabde3 421.8px 422.8px,#ddc7e9 422.8px 423.8px,#d09ecc 423.8px 424.8px,#d3a2ce 424.8px 425.8px,#bdaef1 425.8px 426.8px,#cbbcf1 426.8px 427.8px,#e4cde9 427.8px 428.8px,#f7c4cc 428.8px 429.8px,#c7b3eb 429.8px 430.8px,#b4aef9 430.8px 431.8px,#bfa0e0 431.8px 432.8px,#ebc3d7 432.8px 433.8px,#fecdcf 433.8px 434.8px,#ffb7b7 434.8px 435.8px,#e9a6bc 435.8px 436.8px,#f1d7e5 436.8px 437.8px,#f4b3be 437.8px 438.8px,#c789c2 438.8px 439.8px,#a267c4 439.8px 440.8px,#dd7fa1 440.8px 441.8px,#e7728a 441.8px 442.8px,#ebd0e4 442.8px 443.8px,#e7daf2 443.8px 444.8px,#e3ceea 444.8px 445.8px,#eba6b9 445.8px 446.8px,#f3acb8 446.8px 447.8px,#f4a1ac 447.8px 448.8px,#e0c5e5 448.8px 449.8px,#f8b1b7 449.8px 450.8px,#dba1c6 450.8px 451.8px,#e2bedc 451.8px 452.8px,#d1a4d2 452.8px 453.8px,#bda5e7 453.8px 454.8px,#dda9cc 454.8px 455.8px,#cea9da 455.8px 456.8px,#dda6c8 456.8px 457.8px,#d7a6ce 457.8px 458.8px)"></div>
<div style="left:1911.14px;top:50.0px;width:62.72px;height:458.8px;background:linear-gradient(#f59ca6 0.0px 1.0px,#f7aab2 1.0px 2.0px,#f9a0a6 2.0px 3.0px,#dd7395 3.0px 4.0px,#ff5353 4.0px 5.0px,#e86f85 5.0px 6.0px,#f36975 6.0px 7.0px,#f3a7b4 7.0px 8.0px,#f3cfdc 8.0px 9.0px,#dcb3d6 9.0px 10.0px,#f0a8b8 10.0px 11.0px,#d192c0 11.0px 12.0px,#fa5055 12.0px 13.0px,#fc7a7d 13.0px 14.0px,#ff5e5e 14.0px 15.0px,#ff8484 15.0px 16.0px,#f78f97 16.0px 17.0px,#fcacaf 17.0px 18.0px,#e77c94 18.0px 19.0px,#d488b3 19.0px 20.0px,#e49eb8 20.0px 21.0px,#e59eb7 21.0px 22.0px,#ed798b 22.0px 23.0px,#e88ca3 23.0px 24.0px,#ff3e3e 24.0px 25.0px,#f28692 25.0px 26.0px,#ff8787 26.0px 27.0px,#ff6161 27.0px 28.0px,#ff9090 28.0px 29.0px,#ff7d7d 29.0px 30.0px,#fd8a8c 30.0px 31.0px,#f08997 31.0px 32.0px,#ff9797 32.0px 33.0px,#ff8e8e 33.0px 34.0px,#ff9292 34.0px 35.0px,#f28a97 35.0px 36.0px,#ff5f5f 36.0px 37.0px,#f97b82 37.0px 38.0px,#ff9b9b 38.0px 39.0px,#f5afb9 39.0px 40.0px,#fb7f83 40.0px 41.0px,#f7b9c1 41.0px 42.0px,#ea7e92 42.0px 43.0px,#ff9393 43.0px 44.0px,#ff9d9d 44.0px 45.0px,#ff8a8a 45.0px 46.0px,#ff9494 46.0px 47.0px,#ed5365 47.0px 48.0px,#ed778a 48.0px 49.0px,#ff6e6e 49.0px 50.0px,#ff6e6e 50.0px 51.0px,#ff8282 51.0px 52.0px,#ff7575 52.0px 53.0px,#ff7b7b 53.0px 54.0px,#e386a3 54.0px 55.0px,#e296b3 55.0px 56.0px,#fe9a9b 56.0px 57.0px,#ff6666 57.0px 58.0px,#ff8282 58.0px 59.0px,#f4acb8 59.0px 60.0px,#ebcce1 60.0px 61.0px,#ebcbdf 61.0px 62.0px,#f3b7c3 62.0px 63.0px,#e7a7be 63.0px 64.0px,#e3a3bf 64.0px 65.0px,#d3d0fc 65.0px 66.0px,#cfb4e3 66.0px 67.0px,#b7a3eb 67.0px 68.0px,#9999ff 68.0px 69.0px,#c6bcf5 69.0px 70.0px,#afa9fa 70.0px 71.0px,#9f9fff 71.0px 72.0px,#b7b7ff 72.0px 73.0px,#8869e0 73.0px 74.0px,#e4bcd7 74.0px 75.0px,#b7a8f0 75.0px 76.0px,#a99df2 76.0px 77.0px,#e7cfe8 77.0px 78.0px,#b58cd7 78.0px 79.0px,#a17ddb 79.0px 80.0px,#e9b2c8 80.0px 81.0px,#c5c2fc 81.0px 82.0px,#b89be2 82.0px 83.0px,#b79ae2 83.0px 84.0px,#c08aca 84.0px 85.0px,#c1abe9 85.0px 86.0px,#ccc4f8 86.0px 87.0px,#e6abc4 87.0px 88.0px,#ecbbce 88.0px 89.0px,#b493df 89.0px 90.0px,#7c7cff 90.0px 91.0px,#8d74e6 91.0px 92.0px,#d5caf4 92.0px 93.0px,#c2a5e2 93.0px 94.0px,#8877ee 94.0px 95.0px,#8d8dff 95.0px 96.0px,#9184f2 96.0px 97.0px,#afa4f4 97.0px 98.0px,#b0adfc 98.0px 99.0px,#c0bdfc 99.0px 100.0px,#8888ff 100.0px 101.0px,#b3a4f0 101.0px 102.0px,#c3aae6 102.0px 103.0px,#9999ff 103.0px 104.0px,#9885ec 104.0px 105.0px,#7369f5 105.0px 106.0px,#847af5 106.0px 107.0px,#8781f9 107.0px 108.0px,#b9b3f9 108.0px 109.0px,#9c9cff 109.0px 110.0px,#9f9efd 110.0px 111.0px,#9c8bee 111.0px 112.0px,#9f90f0 112.0px 113.0px,#9b8ef2 113.0px 114.0px,#7463ee 114.0px 114.9px,#ad9cee 114.9px 115.9px,#9595ff 115.9px 116.9px,#bdbcfe 116.9px 117.9px,#9595ff 117.9px 118.9px,#aaaaff 118.9px 119.9px,#bfbfff 119.9px 120.9px,#b3aef9 120.9px 121.9px,#a19bf9 121.9px 122.9px,#817dfb 122.9px 123.9px,#9090ff 123.9px 124.9px,#b6a6ef 124.9px 125.9px,#d6cef7 125.9px 126.9px,#d6d5fe 126.9px 127.9px,#967ae3 127.9px 128.9px,#d5a5d0 128.9px 129.9px,#b5abf4 129.9px 130.9px,#bfbafa 130.9px 131.9px,#b3a8f4 131.9px 132.9px,#dcc2e5 132.9px 133.9px,#e1d5f3 133.9px 134.9px,#9d92f3 134.9px 135.9px,#d4a5d0 135.9px 136.9px,#a785dd 136.9px 137.9px,#5353ff 137.9px 138.9px,#b899e0 138.9px 139.9px,#b08ad8 139.9px 140.9px,#b1a9f7 140.9px 141.9px,#cbc5f9 141.9px 142.9px,#8484ff 142.9px 143.9px,#a8a8ff 143.9px 144.9px,#a7a7ff 144.9px 145.9px,#c3c2fe 145.9px 146.9px,#c199d7 146.9px 147.9px,#a893eb 147.9px 148.9px,#c4c1fc 148.9px 149.9px,#d2cefb 149.9px 150.9px,#b9b8fe 150.9px 151.9px,#d5b4dd 151.9px 152.9px,#bbacf0 152.9px 153.9px,#aea6f8 153.9px 154.9px,#b184d3 154.9px 155.9px,#ad99eb 155.9px 156.9px,#a0a0ff 156.9px 157.9px,#bfbfff 157.9px 158.9px,#c5c5ff 158.9px 159.9px,#d4d4ff 159.9px 160.9px,#c0c0ff 160.9px 161.9px,#c29fdd 161.9px 162.9px,#9c69cc 162.9px 163.9px,#bb92d6 163.9px 164.9px,#b1a7f5 164.9px 165.9px,#e7b5cd 165.9px 166.9px,#f3cbd8 166.9px 167.9px,#d7d0f9 167.9px 168.9px,#b8b4fb 168.9px 169.9px,#b3a6f1 169.9px 170.9px,#a8a8ff 170.9px 171.9px,#7a7aff 171.9px 172.9px,#aa9ef3 172.9px 173.9px,#c9a7dd 173.9px 174.9px,#c1b4f2 174.9px 175.9px,#cdb0e3 175.9px 176.9px,#c5a9e3 176.9px 177.9px,#cec8fa 177.9px 178.9px,#9d98fa 178.9px 179.9px,#aba7fb 179.9px 180.9px,#c7bbf3 180.9px 181.9px,#cbbbf0 181.9px 182.9px,#cbb4e9 182.9px 183.9px,#bea7e8 183.9px 184.9px,#b5a7f2 184.9px 185.9px,#ac8ee1 185.9px 186.9px,#d6b4dd 186.9px 187.9px,#a391ed 187.9px 188.9px,#b09fed 188.9px 189.9px,#a79ff7 189.9px 190.9px,#a8a1f9 190.9px 191.9px,#bdb5f7 191.9px 192.9px,#978ff8 192.9px 193.9px,#9292ff 193.9px 194.9px,#d3cefa 194.9px 195.9px,#d8bce3 195.9px 196.9px,#d4d0fb 196.9px 197.9px,#bcb0f4 197.9px 198.9px,#c9c0f5 198.9px 199.9px,#bcadef 199.9px 200.9px,#9f9fff 200.9px 201.9px,#a4a4ff 201.9px 202.9px,#9a85eb 202.9px 203.9px,#bd8acc 203.9px 204.9px,#cba1d5 204.9px 205.9px,#d3bbe7 205.9px 206.9px,#7876fd 206.9px 207.9px,#9084f2 207.9px 208.9px,#ebcfe4 208.9px 209.9px,#9384f1 209.9px 210.9px,#8783fc 210.9px 211.9px,#b8a0e7 211.9px 212.9px,#dec5e5 212.9px 213.9px,#a09bf9 213.9px 214.9px,#c7b7ee 214.9px 215.9px,#9492fd 215.9px 216.9px,#928ffc 216.9px 217.9px,#b39eea 217.9px 218.9px,#9c8aed 218.9px 219.9px,#b097e6 219.9px 220.9px,#afaefe 220.9px 221.9px,#aaaafe 221.9px 222.9px,#b8aff6 222.9px 223.9px,#d0b0df 223.9px 224.9px,#a386e2 224.9px 225.9px,#a399f5 225.9px 226.9px,#c5b0e9 226.9px 227.9px,#c8c7fe 227.9px 228.9px,#bfa0e0 228.9px 229.9px,#685df4 229.9px 230.9px,#ba89ce 230.9px 231.9px,#ce9ecf 231.9px 232.9px,#c0a5e4 232.9px 233.9px,#e8a9c0 233.9px 234.9px,#dec1e1 234.9px 235.9px,#e0bbd9 235.9px 236.9px,#a1a1ff 236.9px 237.9px,#a188e6 237.9px 238.9px,#a89ef5 238.9px 239.9px,#bca4e7 239.9px 240.9px,#c3c3ff 240.9px 241.9px,#aeaafb 241.9px 242.9px,#ada6f8 242.9px 243.9px,#d4c0eb 243.9px 244.9px,#a888de 244.9px 245.9px,#a48ce7 245.9px 246.9px,#9185f3 246.9px 247.9px,#9491fd 247.9px 248.9px,#c1a9e7 248.9px 249.9px,#c1afed 249.9px 250.9px,#d2a7d4 250.9px 251.9px,#b696df 251.9px 252.9px,#d49cc8 252.9px 253.9px,#e0bedd 253.9px 254.9px,#e1c2e0 254.9px 255.9px,#bfbcfc 255.9px 256.9px,#9787ee 256.9px 257.9px,#b0a2f1 257.9px 258.9px,#8883fa 258.9px 259.9px,#dad2f6 259.9px 260.9px,#a88fe6 260.9px 261.9px,#937de9 261.9px 262.9px,#c39ad6 262.9px 263.9px,#c06dac 263.9px 264.9px,#c083c2 264.9px 265.9px,#c09cdb 265.9px 266.9px,#c7aae2 266.9px 267.9px,#ccbaed 267.9px 268.9px,#a791e9 268.9px 269.9px,#6863f9 269.9px 270.9px,#9e9afb 270.9px 271.9px,#cfb4e4 271.9px 272.9px,#aca2f5 272.9px 273.9px,#c8c1f9 273.9px 274.9px,#dbd5f9 274.9px 275.9px,#c5a3dd 275.9px 276.9px,#cbaee2 276.9px 277.9px,#ab9bee 277.9px 278.9px,#d5c3ec 278.9px 279.9px,#f2d5e2 279.9px 280.9px,#b39eea 280.9px 281.9px,#a89ff6 281.9px 282.9px,#fddde0 282.9px 283.9px,#d485b0 283.9px 284.9px,#ae7ccd 284.9px 285.9px,#eed5e6 285.9px 286.9px,#f5dae3 286.9px 287.9px,#e7cae2 287.9px 288.9px,#d5aed9 288.9px 289.9px,#c8c8ff 289.9px 290.9px,#e9b9cf 290.9px 291.9px,#ff8282 291.9px 292.9px,#ff9595 292.9px 293.9px,#fab9bf 293.9px 294.9px,#edc9db 294.9px 295.9px,#eaa7bd 295.9px 296.9px,#faccd1 296.9px 297.9px,#dfb7d7 297.9px 298.9px,#e5b7d2 298.9px 299.9px,#f7a0a7 299.9px 300.9px,#fd9b9d 300.9px 301.9px,#fcb2b5 301.9px 302.9px,#d48eb9 302.9px 303.9px,#f6a6af 303.9px 304.9px,#f5a7b1 304.9px 305.9px,#e0708f 305.9px 306.9px,#ebacbf 306.9px 307.9px,#d7aed6 307.9px 308.9px,#dc90b3 308.9px 309.9px,#d3b7e4 309.9px 310.9px,#f8a0a7 310.9px 311.9px,#e19dbc 311.9px 312.9px,#e6b9d2 312.9px 313.9px,#f1a1af 313.9px 314.9px,#cdb6e8 314.9px 315.9px,#e9d2e8 315.9px 316.9px,#bf87c8 316.9px 317.9px,#a277d4 317.9px 318.9px,#cb90c3 318.9px 319.9px,#f19aa7 319.9px 320.9px,#db8bb0 320.9px 321.9px,#cd93c4 321.9px 322.9px,#f08796 322.9px 323.9px,#ff7777 323.9px 324.9px,#f7a8b0 324.9px 325.9px,#d8a5cc 325.9px 326.9px,#ffb7b7 326.9px 327.9px,#ff8888 327.9px 328.9px,#f3b8c4 328.9px 329.9px,#f0becd 329.9px 330.9px,#f0d4e3 330.9px 331.9px,#fdd7d9 331.9px 332.9px,#d8b1d8 332.9px 333.9px,#e79cb3 333.9px 334.9px,#ec96a9 334.9px 335.9px,#dcbbdd 335.9px 336.9px,#cba6da 336.9px 337.9px,#dfabcb 337.9px 338.9px,#e596b0 338.9px 339.9px,#f5ccd6 339.9px 340.9px,#fcc4c7 340.9px 341.9px,#cd91c3 341.9px 342.9px,#dc6285 342.9px 343.9px,#ff8181 343.9px 344.8px,#ef9eae 344.8px 345.8px,#f47581 345.8px 346.8px,#e7879f 346.8px 347.8px,#ddb8da 347.8px 348.8px,#fababf 348.8px 349.8px,#e9bbd1 349.8px 350.8px,#fcb9bc 350.8px 351.8px,#d199c7 351.8px 352.8px,#ca92c7 352.8px 353.8px,#d47ea9 353.8px 354.8px,#dba5c9 354.8px 355.8px,#ec9caf 355.8px 356.8px,#e9a5bb 356.8px 357.8px,#ffd4d4 357.8px 358.8px,#ff8181 358.8px 359.8px,#e78ea6 359.8px 360.8px,#f197a6 360.8px 361.8px,#e6bdd6 361.8px 362.8px,#e7a7bf 362.8px 363.8px,#f68c95 363.8px 364.8px,#e798b0 364.8px 365.8px,#eca4b7 365.8px 366.8px,#fd9698 366.8px 367.8px,#fab6bb 367.8px 368.8px,#fcbcbf 368.8px 369.8px,#f4d1dd 369.8px 370.8px,#e0c5e4 370.8px 371.8px,#dfc6e6 371.8px 372.8px,#cfaedf 372.8px 373.8px,#ff6161 373.8px 374.8px,#f3a2ae 374.8px 375.8px,#dfcae9 375.8px 376.8px,#f5bbc5 376.8px 377.8px,#e0c6e4 377.8px 378.8px,#f7aab2 378.8px 379.8px,#fb7e81 379.8px 380.8px,#ff9090 380.8px 381.8px,#eec4d5 381.8px 382.8px,#e1c7e5 382.8px 383.8px,#f5d0da 383.8px 384.8px,#cf9aca 384.8px 385.8px,#e499b4 385.8px 386.8px,#f0a0af 386.8px 387.8px,#fdc1c2 387.8px 388.8px,#fec4c5 388.8px 389.8px,#fca4a6 389.8px 390.8px,#fa969b 390.8px 391.8px,#fa9ba0 391.8px 392.8px,#e6a2bb 392.8px 393.8px,#d585af 393.8px 394.8px,#eac4d9 394.8px 395.8px,#efaab9 395.8px 396.8px,#ff8787 396.8px 397.8px,#cb97cb 397.8px 398.8px,#d5b6e0 398.8px 399.8px,#e8acc3 399.8px 400.8px,#ff8686 400.8px 401.8px,#f29fab 401.8px 402.8px,#ff9a9a 402.8px 403.8px,#e8748b 403.8px 404.8px,#d67099 404.8px 405.8px,#f9898f 405.8px 406.8px,#ffb1b1 406.8px 407.8px,#edb2c4 407.8px 408.8px,#fbaeb2 408.8px 409.8px,#fdbcbe 409.8px 410.8px,#fdabad 410.8px 411.8px,#f0a3b2 411.8px 412.8px,#ff6868 412.8px 413.8px,#da97bb 413.8px 414.8px,#fc7c7f 414.8px 415.8px,#e07d9c 415.8px 416.8px,#b98cd3 416.8px 417.8px,#dd9cbe 417.8px 418.8px,#f0bccb 418.8px 419.8px,#ebbed2 419.8px 420.8px,#e7c3db 420.8px 421.8px,#d1c6f4 421.8px 422.8px,#bf8dcd 422.8px 423.8px,#db9fc3 423.8px 424.8px,#d0a9d8 424.8px 425.8px,#e6afc9 425.8px 426.8px,#edbbcd 426.8px 427.8px,#f8b6bd 427.8px 428.8px,#edbed0 428.8px 429.8px,#f37c88 429.8px 430.8px,#deb1d2 430.8px 431.8px,#d4a1cc 431.8px 432.8px,#d1b0df 432.8px 433.8px,#f7aab3 433.8px 434.8px,#f89fa6 434.8px 435.8px,#e27a97 435.8px 436.8px,#df88a8 436.8px 437.8px,#f5a0ab 437.8px 438.8px,#f7c2ca 438.8px 439.8px,#ff7777 439.8px 440.8px,#f9abb0 440.8px 441.8px,#f9ced4 441.8px 442.8px,#f8d0d7 442.8px 443.8px,#f7c0c8 443.8px 444.8px,#e7a3bb 444.8px 445.8px,#e0a9c8 445.8px 446.8px,#ddc1e3 446.8px 447.8px,#d0bbe9 447.8px 448.8px,#dbabce 448.8px 449.8px,#dd84a6 449.8px 450.8px,#ff8484 450.8px 451.8px,#ff8080 451.8px 452.8px,#f59fa9 452.8px 453.8px,#dfb0d1 453.8px 454.8px,#e89db3 454.8px 455.8px,#eea7b8 455.8px 456.8px,#fbd8dc 456.8px 457.8px,#fac5ca 457.8px 458.8px)"></div>
<div style="left:1973.56px;top:50.0px;width:62.72px;height:458.8px;background:linear-gradient(#cd97c8 0.0px 1.0px,#a669c2 1.0px 2.0px,#f5acb6 2.0px 3.0px,#e7a2ba 3.0px 4.0px,#f1c6d4 4.0px 5.0px,#d6ccf5 5.0px 6.0px,#b782ca 6.0px 7.0px,#cd8ec0 7.0px 8.0px,#eac8dd 8.0px 9.0px,#deb5d6 9.0px 10.0px,#c9c4f9 10.0px 11.0px,#eccee1 11.0px 12.0px,#e1ccea 12.0px 13.0px,#f5d7e0 13.0px 14.0px,#e4bed9 14.0px 15.0px,#e49bb6 15.0px 16.0px,#dca7ca 16.0px 17.0px,#cbaadd 17.0px 18.0px,#bb9bdf 18.0px 19.0px,#c8b5eb 19.0px 20.0px,#debee0 20.0px 21.0px,#d2addb 21.0px 22.0px,#d5bee8 22.0px 23.0px,#e6a9c2 23.0px 24.0px,#f58d96 24.0px 25.0px,#e9bbd1 25.0px 26.0px,#c9ade4 26.0px 27.0px,#d1b0dd 27.0px 28.0px,#cf83b3 28.0px 29.0px,#cf9ece 29.0px 30.0px,#c497d2 30.0px 31.0px,#bf9ddc 31.0px 32.0px,#f3cbd7 32.0px 33.0px,#bd92d4 33.0px 34.0px,#eb90a4 34.0px 35.0px,#f2becb 35.0px 36.0px,#e1ceec 36.0px 37.0px,#c1b7f5 37.0px 38.0px,#c8a4db 38.0px 39.0px,#d5c3ee 39.0px 40.0px,#eda4b6 40.0px 41.0px,#fc999b 41.0px 42.0px,#eb94a7 42.0px 43.0px,#d7aed5 43.0px 44.0px,#eebecf 44.0px 45.0px,#baaff4 45.0px 46.0px,#c4a2dd 46.0px 47.0px,#bd91d3 47.0px 48.0px,#af8edd 48.0px 49.0px,#c58ec8 49.0px 50.0px,#b794dc 50.0px 51.0px,#dc9dc0 51.0px 52.0px,#e5d3ec 52.0px 53.0px,#d0bdec 53.0px 54.0px,#ffa9a9 54.0px 55.0px,#c393cf 55.0px 56.0px,#baa2e6 56.0px 57.0px,#c684bc 57.0px 58.0px,#a792ea 58.0px 59.0px,#dcc3e7 59.0px 60.0px,#ee8e9f 60.0px 61.0px,#efb9c9 61.0px 62.0px,#eeebfb 62.0px 63.0px,#f8c7cd 63.0px 64.0px,#fea5a6 64.0px 65.0px,#dab7db 65.0px 66.0px,#cfb5e5 66.0px 67.0px,#dbbde1 67.0px 68.0px,#e8afc5 68.0px 69.0px,#e78098 69.0px 70.0px,#dbaed3 70.0px 71.0px,#beacee 71.0px 72.0px,#e89bb2 72.0px 73.0px,#ea9aaf 73.0px 74.0px,#deb8d9 74.0px 75.0px,#fcb6b9 75.0px 76.0px,#e3839f 76.0px 77.0px,#f4a3ae 77.0px 78.0px,#f0a1b0 78.0px 79.0px,#fdb9bb 79.0px 80.0px,#f7a6ae 80.0px 81.0px,#f4ced8 81.0px 82.0px,#f5bbc6 82.0px 83.0px,#dfb4d4 83.0px 84.0px,#f8bbc3 84.0px 85.0px,#e39fbb 85.0px 86.0px,#eec5d6 86.0px 87.0px,#dac4e8 87.0px 88.0px,#e498b3 88.0px 89.0px,#f7b2ba 89.0px 90.0px,#efaaba 90.0px 91.0px,#e3afcb 91.0px 92.0px,#cea6d7 92.0px 93.0px,#d198c7 93.0px 94.0px,#ae7bcc 94.0px 95.0px,#bc88cb 95.0px 96.0px,#f1b9c7 96.0px 97.0px,#ebb8cc 97.0px 98.0px,#beabec 98.0px 99.0px,#c1a3e1 99.0px 100.0px,#e9d0e6 100.0px 101.0px,#e8c9e0 101.0px 102.0px,#f4aeb8 102.0px 103.0px,#d6c4ed 103.0px 104.0px,#dd92b3 104.0px 105.0px,#efa0b0 105.0px 106.0px,#e3bfdb 106.0px 107.0px,#e0c8e7 107.0px 108.0px,#bea7e8 108.0px 109.0px,#fbb0b3 109.0px 110.0px,#fcd3d6 110.0px 111.0px,#fcbabd 111.0px 112.0px,#d89dc4 112.0px 113.0px,#d79bc3 113.0px 114.0px,#d4c8f3 114.0px 114.9px,#dccff2 114.9px 115.9px,#d09bca 115.9px 116.9px,#d5afd8 116.9px 117.9px,#f3d3df 117.9px 118.9px,#cfc9f9 118.9px 119.9px,#d1c3f1 119.9px 120.9px,#b8a3ea 120.9px 121.9px,#fa8e92 121.9px 122.9px,#ea94aa 122.9px 123.9px,#e3b9d4 123.9px 124.9px,#de9bbc 124.9px 125.9px,#c85d94 125.9px 126.9px,#f7a3ab 126.9px 127.9px,#fab6bb 127.9px 128.9px,#ff9e9e 128.9px 129.9px,#d58cb6 129.9px 130.9px,#f8afb6 130.9px 131.9px,#d9bce2 131.9px 132.9px,#c79cd4 132.9px 133.9px,#f2a3b0 133.9px 134.9px,#cfa2d2 134.9px 135.9px,#c097d6 135.9px 136.9px,#dc91b4 136.9px 137.9px,#b96fb5 137.9px 138.9px,#feaaab 138.9px 139.9px,#d2b7e3 139.9px 140.9px,#daa3c8 140.9px 141.9px,#e5a7c1 141.9px 142.9px,#f4b0bb 142.9px 143.9px,#e8afc5 143.9px 144.9px,#e8b1c8 144.9px 145.9px,#d4a6d1 145.9px 146.9px,#ee9eaf 146.9px 147.9px,#ff8b8b 147.9px 148.9px,#e5abc5 148.9px 149.9px,#ed97a9 149.9px 150.9px,#e98aa1 150.9px 151.9px,#eaa9be 151.9px 152.9px,#e293b0 152.9px 153.9px,#e57791 153.9px 154.9px,#e4819c 154.9px 155.9px,#cea8d9 155.9px 156.9px,#e8adc3 156.9px 157.9px,#cda5d7 157.9px 158.9px,#c8b0e7 158.9px 159.9px,#e79eb6 159.9px 160.9px,#f5939d 160.9px 161.9px,#f1d7e5 161.9px 162.9px,#dc9fc2 162.9px 163.9px,#f2c4d1 163.9px 164.9px,#f1deec 164.9px 165.9px,#d0caf9 165.9px 166.9px,#c095d4 166.9px 167.9px,#e69fb8 167.9px 168.9px,#eab4c8 168.9px 169.9px,#f4c5d0 169.9px 170.9px,#f7c4cd 170.9px 171.9px,#ffcdcd 171.9px 172.9px,#f0a4b3 172.9px 173.9px,#de89aa 173.9px 174.9px,#f49faa 174.9px 175.9px,#e6d1ea 175.9px 176.9px,#e8b5cc 176.9px 177.9px,#ec92a5 177.9px 178.9px,#f5959f 178.9px 179.9px,#f7acb4 179.9px 180.9px,#f7a1a9 180.9px 181.9px,#f39ba7 181.9px 182.9px,#f3bcc8 182.9px 183.9px,#fdc7ca 183.9px 184.9px,#d4b6e1 184.9px 185.9px,#b7a8f0 185.9px 186.9px,#f9cad0 186.9px 187.9px,#e389a6 187.9px 188.9px,#e5728c 188.9px 189.9px,#df90b0 189.9px 190.9px,#e8aac1 190.9px 191.9px,#d999bf 191.9px 192.9px,#c696cf 192.9px 193.9px,#c7a0d8 193.9px 194.9px,#e6a0b9 194.9px 195.9px,#ff8787 195.9px 196.9px,#ffa1a1 196.9px 197.9px,#f7b8bf 197.9px 198.9px,#f1c4d2 198.9px 199.9px,#eda1b2 199.9px 200.9px,#d5bae4 200.9px 201.9px,#f0cddc 201.9px 202.9px,#e799b1 202.9px 203.9px,#f8c2c9 203.9px 204.9px,#f7aeb6 204.9px 205.9px,#c2afec 205.9px 206.9px,#fa898e 206.9px 207.9px,#ee6e7e 207.9px 208.9px,#ddbcde 208.9px 209.9px,#d8c0e7 209.9px 210.9px,#ad90e2 210.9px 211.9px,#ffbfc0 211.9px 212.9px,#eab2c7 212.9px 213.9px,#edb2c4 213.9px 214.9px,#ff9797 214.9px 215.9px,#f0b6c5 215.9px 216.9px,#d67fa9 216.9px 217.9px,#f28996 217.9px 218.9px,#f7a8b0 218.9px 219.9px,#eb98ab 219.9px 220.9px,#e39bb7 220.9px 221.9px,#f9bec3 221.9px 222.9px,#e9cde3 222.9px 223.9px,#e37793 223.9px 224.9px,#d086b5 224.9px 225.9px,#e2abc8 225.9px 226.9px,#f1b2c0 226.9px 227.9px,#e8cae2 227.9px 228.9px,#f7b3bb 228.9px 229.9px,#e9b3c9 229.9px 230.9px,#f5c6d0 230.9px 231.9px,#f49aa4 231.9px 232.9px,#f6a5ae 232.9px 233.9px,#ca76aa 233.9px 234.9px,#f7b5bd 234.9px 235.9px,#ed93a5 235.9px 236.9px,#dd6182 236.9px 237.9px,#ea94a9 237.9px 238.9px,#ff9090 238.9px 239.9px,#e8c7de 239.9px 240.9px,#e5b8d2 240.9px 241.9px,#e899b0 241.9px 242.9px,#eeb9ca 242.9px 243.9px,#eb9eb2 243.9px 244.9px,#ed9aac 244.9px 245.9px,#e97f95 245.9px 246.9px,#fb9a9e 246.9px 247.9px,#ed90a2 247.9px 248.9px,#e29dba 248.9px 249.9px,#d1cbf9 249.9px 250.9px,#d0b3e2 250.9px 251.9px,#eddced 251.9px 252.9px,#f1c2d1 252.9px 253.9px,#f5bac5 253.9px 254.9px,#e1a9c7 254.9px 255.9px,#f7c2c9 255.9px 256.9px,#ffadad 256.9px 257.9px,#ff9d9d 257.9px 258.9px,#f2adbb 258.9px 259.9px,#ff5f5f 259.9px 260.9px,#f48d99 260.9px 261.9px,#e7bbd3 261.9px 262.9px,#c08ccb 262.9px 263.9px,#eac4d9 263.9px 264.9px,#f6c9d1 264.9px 265.9px,#ffa1a1 265.9px 266.9px,#d29bc8 266.9px 267.9px,#e6bfd8 267.9px 268.9px,#e0aece 268.9px 269.9px,#ff9393 269.9px 270.9px,#f5adb7 270.9px 271.9px,#f0cddb 271.9px 272.9px,#f3cdd9 272.9px 273.9px,#dccdf0 273.9px 274.9px,#e1c2df 274.9px 275.9px,#ddbddf 275.9px 276.9px,#d5c6f0 276.9px 277.9px,#dc87a9 277.9px 278.9px,#da93b8 278.9px 279.9px,#e0adcb 279.9px 280.9px,#f2acb9 280.9px 281.9px,#f2b9c6 281.9px 282.9px,#f0b8c6 282.9px 283.9px,#e2c0de 283.9px 284.9px,#ffa8a8 284.9px 285.9px,#fb898e 285.9px 286.9px,#dda3c5 286.9px 287.9px,#e9b0c6 287.9px 288.9px,#e788a0 288.9px 289.9px,#e69bb3 289.9px 290.9px,#ebaabf 290.9px 291.9px,#f5b4be 291.9px 292.9px,#edb6c8 292.9px 293.9px,#d69fc8 293.9px 294.9px,#e77b92 294.9px 295.9px,#ff8686 295.9px 296.9px,#fcb6b9 296.9px 297.9px,#fdc6c8 297.9px 298.9px,#efa2b2 298.9px 299.9px,#e38ca8 299.9px 300.9px,#c88ac1 300.9px 301.9px,#a782da 301.9px 302.9px,#dd89ab 302.9px 303.9px,#ffc4c5 303.9px 304.9px,#ff9d9d 304.9px 305.9px,#dca8cc 305.9px 306.9px,#e0aecd 306.9px 307.9px,#e5a0ba 307.9px 308.9px,#cfc1f0 308.9px 309.9px,#db93b8 309.9px 310.9px,#e9bdd3 310.9px 311.9px,#d59ec8 311.9px 312.9px,#f4bdc8 312.9px 313.9px,#f6b3bc 313.9px 314.9px,#d079a8 314.9px 315.9px,#f9abb0 315.9px 316.9px,#d1a9d7 316.9px 317.9px,#e9aac0 317.9px 318.9px,#e9a0b5 318.9px 319.9px,#e1b2d0 319.9px 320.9px,#d0aedc 320.9px 321.9px,#bb7abe 321.9px 322.9px,#e8abc2 322.9px 323.9px,#dda8cb 323.9px 324.9px,#e8bdd5 324.9px 325.9px,#e598b2 325.9px 326.9px,#e2aecb 326.9px 327.9px,#d9afd5 327.9px 328.9px,#dc98bb 328.9px 329.9px,#efc9d9 329.9px 330.9px,#fbd0d4 330.9px 331.9px,#ecd6e8 331.9px 332.9px,#e299b7 332.9px 333.9px,#e3a6c1 333.9px 334.9px,#fda3a5 334.9px 335.9px,#d4a8d3 335.9px 336.9px,#dbc1e5 336.9px 337.9px,#f8c6cd 337.9px 338.9px,#f3909c 338.9px 339.9px,#ffc5c5 339.9px 340.9px,#e9e1f7 340.9px 341.9px,#d1b8e6 341.9px 342.9px,#ad62b4 342.9px 343.9px,#ef8b9b 343.9px 344.8px,#b08ad9 344.8px 345.8px,#db9dc1 345.8px 346.8px,#e7a7bf 346.8px 347.8px,#f4bdc8 347.8px 348.8px,#f7dce4 348.8px 349.8px,#efb5c5 349.8px 350.8px,#c7a9e2 350.8px 351.8px,#ce95c6 351.8px 352.8px,#e1afcc 352.8px 353.8px,#cda1d2 353.8px 354.8px,#cf7bab 354.8px 355.8px,#e1809e 355.8px 356.8px,#e98fa6 356.8px 357.8px,#d9a1c7 357.8px 358.8px,#bf8fcf 358.8px 359.8px,#cda3d5 359.8px 360.8px,#c793cb 360.8px 361.8px,#f3dce8 361.8px 362.8px,#fca7aa 362.8px 363.8px,#f1cdda 363.8px 364.8px,#cb90c4 364.8px 365.8px,#d4b0db 365.8px 366.8px,#d9b9df 366.8px 367.8px,#e2cdea 367.8px 368.8px,#d8d0f7 368.8px 369.8px,#f2aab7 369.8px 370.8px,#d59fca 370.8px 371.8px,#bf98d8 371.8px 372.8px,#edcee0 372.8px 373.8px,#f1d1df 373.8px 374.8px,#e2ceeb 374.8px 375.8px,#e1c7e6 375.8px 376.8px,#b9b5fb 376.8px 377.8px,#ccb7eb 377.8px 378.8px,#eea9b9 378.8px 379.8px,#d4add8 379.8px 380.8px,#e3d4f0 380.8px 381.8px,#ddc5e7 381.8px 382.8px,#e3c2dd 382.8px 383.8px,#c18ecc 383.8px 384.8px,#d4bae5 384.8px 385.8px,#f0d3e2 385.8px 386.8px,#c57fb9 386.8px 387.8px,#a297f4 387.8px 388.8px,#e8cfe6 388.8px 389.8px,#ddb4d6 389.8px 390.8px,#d8bce4 390.8px 391.8px,#b18cd9 391.8px 392.8px,#dea0c1 392.8px 393.8px,#e5b3cd 393.8px 394.8px,#e18ba9 394.8px 395.8px,#c890c7 395.8px 396.8px,#c4ade8 396.8px 397.8px,#fdd3d5 397.8px 398.8px,#a97cd2 398.8px 399.8px,#b39ce8 399.8px 400.8px,#cfb6e5 400.8px 401.8px,#e7849c 401.8px 402.8px,#d78eb6 402.8px 403.8px,#a7a7ff 403.8px 404.8px,#bfaeee 404.8px 405.8px,#9c76d9 405.8px 406.8px,#b160af 406.8px 407.8px,#8b5dd1 407.8px 408.8px,#9271de 408.8px 409.8px,#d8a6cd 409.8px 410.8px,#dbc3e6 410.8px 411.8px,#d3b5e1 411.8px 412.8px,#a892e9 412.8px 413.8px,#b897de 413.8px 414.8px,#d3c8f4 414.8px 415.8px,#ccc3f6 415.8px 416.8px,#e1ceec 416.8px 417.8px,#d3b8e4 417.8px 418.8px,#b9acf2 418.8px 419.8px,#c5a4de 419.8px 420.8px,#d0a8d7 420.8px 421.8px,#eedaeb 421.8px 422.8px,#dcc2e4 422.8px 423.8px,#bfbfff 423.8px 424.8px,#d5bee9 424.8px 425.8px,#ba93d8 425.8px 426.8px,#9d9dff 426.8px 427.8px,#ac7ccf 427.8px 428.8px,#aba5f9 428.8px 429.8px,#aea8f9 429.8px 430.8px,#b89ee5 430.8px 431.8px,#8678f1 431.8px 432.8px,#c079b7 432.8px 433.8px,#d2a4d1 433.8px 434.8px,#ffb1b1 434.8px 435.8px,#fda8aa 435.8px 436.8px,#f3b8c4 436.8px 437.8px,#dcb2d5 437.8px 438.8px,#ad9cee 438.8px 439.8px,#e3a7c3 439.8px 440.8px,#da9abf 440.8px 441.8px,#dac9ee 441.8px 442.8px,#d6acd5 442.8px 443.8px,#d7a1ca 443.8px 444.8px,#c991c6 444.8px 445.8px,#c9a5da 445.8px 446.8px,#c0a2e0 446.8px 447.8px,#ce84b6 447.8px 448.8px,#b676be 448.8px 449.8px,#c5a7e1 449.8px 450.8px,#c3b1ed 450.8px 451.8px,#afaafa 451.8px 452.8px,#e4daf5 452.8px 453.8px,#e2cdea 453.8px 454.8px,#ebb1c5 454.8px 455.8px,#e5c3dd 455.8px 456.8px,#c890c8 456.8px 457.8px,#d3a8d4 457.8px 458.8px)"></div>
<div style="left:2035.98px;top:50.0px;width:62.72px;height:458.8px;background:linear-gradient(#ae94e5 0.0px 1.0px,#ae96e7 1.0px 2.0px,#afa4f4 2.0px 3.0px,#e1c0de 3.0px 4.0px,#dbbce0 4.0px 5.0px,#d0a2d1 5.0px 6.0px,#e8aec4 6.0px 7.0px,#ddc2e4 7.0px 8.0px,#e2b7d5 8.0px 9.0px,#e6cbe4 9.0px 10.0px,#f4b4bf 10.0px 11.0px,#cd86b9 11.0px 12.0px,#bb75b9 12.0px 13.0px,#dd98ba 13.0px 14.0px,#df9dbd 14.0px 15.0px,#e09cbb 15.0px 16.0px,#937eea 16.0px 17.0px,#efa6b7 17.0px 18.0px,#c490cb 18.0px 19.0px,#b396e2 19.0px 20.0px,#e6d4ed 20.0px 21.0px,#e6afc8 21.0px 22.0px,#d8c1e8 22.0px 23.0px,#bbbbfe 23.0px 24.0px,#bcb1f3 24.0px 25.0px,#bea6e7 25.0px 26.0px,#fdb6b8 26.0px 27.0px,#f8d4db 27.0px 28.0px,#c6a4dd 28.0px 29.0px,#b184d3 29.0px 30.0px,#c58dc7 30.0px 31.0px,#d2a3d0 31.0px 32.0px,#d9b6dc 32.0px 33.0px,#dfb2d2 33.0px 34.0px,#dcc9ec 34.0px 35.0px,#ccade0 35.0px 36.0px,#eeafc0 36.0px 37.0px,#cbbdf1 37.0px 38.0px,#d2c1ee 38.0px 39.0px,#e5cbe5 39.0px 40.0px,#a8a0f7 40.0px 41.0px,#7358e4 41.0px 42.0px,#be86c7 42.0px 43.0px,#ffbdbd 43.0px 44.0px,#f4b3be 44.0px 45.0px,#bcb0f3 45.0px 46.0px,#d6c7f0 46.0px 47.0px,#d2b2df 47.0px 48.0px,#e5c5df 48.0px 49.0px,#c1b0ee 49.0px 50.0px,#9d95f7 50.0px 51.0px,#b583cd 51.0px 52.0px,#cca7da 52.0px 53.0px,#dfc9e8 53.0px 54.0px,#c4aae5 54.0px 55.0px,#d296c3 55.0px 56.0px,#f0b6c5 56.0px 57.0px,#f4c1cc 57.0px 58.0px,#f5cdd7 58.0px 59.0px,#ccbbed 59.0px 60.0px,#d0b6e6 60.0px 61.0px,#dec0e2 61.0px 62.0px,#bca0e3 62.0px 63.0px,#cdb6e8 63.0px 64.0px,#caaee3 64.0px 65.0px,#b89ee5 65.0px 66.0px,#e3d3ef 66.0px 67.0px,#fec3c4 67.0px 68.0px,#db84a8 68.0px 69.0px,#bca7ea 69.0px 70.0px,#da9ec3 70.0px 71.0px,#ff9292 71.0px 72.0px,#f9a1a7 72.0px 73.0px,#e5bdd7 73.0px 74.0px,#df97b6 74.0px 75.0px,#e4acc6 75.0px 76.0px,#f6939c 76.0px 77.0px,#ff5f5f 77.0px 78.0px,#eea3b4 78.0px 79.0px,#eeb3c4 79.0px 80.0px,#f4bfca 80.0px 81.0px,#f1c1cf 81.0px 82.0px,#fc9c9f 82.0px 83.0px,#eeb1c2 83.0px 84.0px,#e194b2 84.0px 85.0px,#e38aa6 85.0px 86.0px,#ebbed2 86.0px 87.0px,#d9c1e8 87.0px 88.0px,#ddabcd 88.0px 89.0px,#e499b3 89.0px 90.0px,#e299b6 90.0px 91.0px,#ffa3a3 91.0px 92.0px,#f6b6bf 92.0px 93.0px,#f8d2d8 93.0px 94.0px,#fdc6c8 94.0px 95.0px,#ff7979 95.0px 96.0px,#e56b85 96.0px 97.0px,#f8b0b7 97.0px 98.0px,#ff7a7a 98.0px 99.0px,#f6b5be 99.0px 100.0px,#f67d86 100.0px 101.0px,#f4a2ad 101.0px 102.0px,#feb5b6 102.0px 103.0px,#f2909d 103.0px 104.0px,#cd598b 104.0px 105.0px,#d08cbb 105.0px 106.0px,#ee8294 106.0px 107.0px,#ee7484 107.0px 108.0px,#fcb1b4 108.0px 109.0px,#e7a0b8 109.0px 110.0px,#ffacac 110.0px 111.0px,#f48793 111.0px 112.0px,#ff7b7b 112.0px 113.0px,#ff5656 113.0px 114.0px,#f95359 114.0px 114.9px,#f68088 114.9px 115.9px,#ffadad 115.9px 116.9px,#ffa0a0 116.9px 117.9px,#ff5656 117.9px 118.9px,#ff7878 118.9px 119.9px,#ff5c5c 119.9px 120.9px,#ff5555 120.9px 121.9px,#ff4949 121.9px 122.9px,#ff4545 122.9px 123.9px,#ff7c7c 123.9px 124.9px,#ed97a9 124.9px 125.9px,#f67982 125.9px 126.9px,#ff6161 126.9px 127.9px,#ff4d4d 127.9px 128.9px,#ff9898 128.9px 129.9px,#ff9696 129.9px 130.9px,#e9687e 130.9px 131.9px,#e96980 131.9px 132.9px,#ff3a3a 132.9px 133.9px,#ff4b4b 133.9px 134.9px,#ff4848 134.9px 135.9px,#ff5f5f 135.9px 136.9px,#ff6363 136.9px 137.9px,#ff6363 137.9px 138.9px,#ff2525 138.9px 139.9px,#fa4f54 139.9px 140.9px,#f9676d 140.9px 141.9px,#f94f55 141.9px 142.9px,#f2505d 142.9px 143.9px,#ff4040 143.9px 144.9px,#ff5858 144.9px 145.9px,#ff5555 145.9px 146.9px,#fd8688 146.9px 147.9px,#fdb5b7 147.9px 148.9px,#ff3a3a 148.9px 149.9px,#ff4848 149.9px 150.9px,#ff5d5d 150.9px 151.9px,#ff4d4d 151.9px 152.9px,#ff4f4f 152.9px 153.9px,#ff2f2f 153.9px 154.9px,#ff6868 154.9px 155.9px,#ff7f7f 155.9px 156.9px,#ff7e7e 156.9px 157.9px,#ff6d6d 157.9px 158.9px,#ff6969 158.9px 159.9px,#ff4e4e 159.9px 160.9px,#f94f55 160.9px 161.9px,#ff4545 161.9px 162.9px,#ff4c4c 162.9px 163.9px,#ff1919 163.9px 164.9px,#ff4f4f 164.9px 165.9px,#ff7272 165.9px 166.9px,#ff6464 166.9px 167.9px,#ff8888 167.9px 168.9px,#ff5959 168.9px 169.9px,#ff5a5a 169.9px 170.9px,#eeadbe 170.9px 171.9px,#ec788c 171.9px 172.9px,#fc8083 172.9px 173.9px,#fe7c7c 173.9px 174.9px,#fe8282 174.9px 175.9px,#ff8b8b 175.9px 176.9px,#ff5e5e 176.9px 177.9px,#ff8080 177.9px 178.9px,#ff6161 178.9px 179.9px,#ff5050 179.9px 180.9px,#ff7777 180.9px 181.9px,#ff7272 181.9px 182.9px,#f7b1b9 182.9px 183.9px,#f79097 183.9px 184.9px,#ff6464 184.9px 185.9px,#ff5d5d 185.9px 186.9px,#fe8687 186.9px 187.9px,#ef8b9b 187.9px 188.9px,#ff4a4a 188.9px 189.9px,#ff4545 189.9px 190.9px,#ff5151 190.9px 191.9px,#ff9797 191.9px 192.9px,#ff6c6c 192.9px 193.9px,#ff5c5c 193.9px 194.9px,#ff7171 194.9px 195.9px,#ff3030 195.9px 196.9px,#ff7676 196.9px 197.9px,#ff3939 197.9px 198.9px,#ff6565 198.9px 199.9px,#f38b97 199.9px 200.9px,#ff4e4e 200.9px 201.9px,#ff8181 201.9px 202.9px,#ff7d7d 202.9px 203.9px,#ff5d5d 203.9px 204.9px,#ff5a5a 204.9px 205.9px,#ff5757 205.9px 206.9px,#f75b63 206.9px 207.9px,#ff7676 207.9px 208.9px,#ff7b7b 208.9px 209.9px,#ff5a5a 209.9px 210.9px,#f48e98 210.9px 211.9px,#f49faa 211.9px 212.9px,#fda2a4 212.9px 213.9px,#ff8a8a 213.9px 214.9px,#ff7b7b 214.9px 215.9px,#ff5252 215.9px 216.9px,#fca1a4 216.9px 217.9px,#fba5a9 217.9px 218.9px,#f6cad4 218.9px 219.9px,#f7979f 219.9px 220.9px,#ff6464 220.9px 221.9px,#ff7171 221.9px 222.9px,#f194a2 222.9px 223.9px,#fd8689 223.9px 224.9px,#ff7d7d 224.9px 225.9px,#ffa5a5 225.9px 226.9px,#ff8989 226.9px 227.9px,#f2919e 227.9px 228.9px,#f7979e 228.9px 229.9px,#f3b5c1 229.9px 230.9px,#ffa1a1 230.9px 231.9px,#f8656c 231.9px 232.9px,#ffb8b8 232.9px 233.9px,#ff8c8c 233.9px 234.9px,#ff4545 234.9px 235.9px,#ff6565 235.9px 236.9px,#ff9a9a 236.9px 237.9px,#ff9b9b 237.9px 238.9px,#ff6464 238.9px 239.9px,#ff6262 239.9px 240.9px,#fa9ba0 240.9px 241.9px,#fa6b70 241.9px 242.9px,#ff6767 242.9px 243.9px,#f17280 243.9px 244.9px,#df7b9a 244.9px 245.9px,#f87b83 245.9px 246.9px,#ff7373 246.9px 247.9px,#fea9a9 247.9px 248.9px,#fea2a2 248.9px 249.9px,#ff7f7f 249.9px 250.9px,#efa0b1 250.9px 251.9px,#ef8797 251.9px 252.9px,#ff7676 252.9px 253.9px,#ff6363 253.9px 254.9px,#ff7c7c 254.9px 255.9px,#faa7ac 255.9px 256.9px,#e57992 256.9px 257.9px,#d186b4 257.9px 258.9px,#ed9bad 258.9px 259.9px,#d689b2 259.9px 260.9px,#fbbec1 260.9px 261.9px,#f9d9df 261.9px 262.9px,#eec8d9 262.9px 263.9px,#f6aeb7 263.9px 264.9px,#f597a1 264.9px 265.9px,#f0bfce 265.9px 266.9px,#e598b2 266.9px 267.9px,#ff6666 267.9px 268.9px,#fd8b8d 268.9px 269.9px,#fd898b 269.9px 270.9px,#f59aa4 270.9px 271.9px,#efb8c8 271.9px 272.9px,#e2bfdc 272.9px 273.9px,#d196c5 273.9px 274.9px,#f19daa 274.9px 275.9px,#f7bbc3 275.9px 276.9px,#febebf 276.9px 277.9px,#ffb5b5 277.9px 278.9px,#ef96a6 278.9px 279.9px,#efadbd 279.9px 280.9px,#f1a0ae 280.9px 281.9px,#e5a1ba 281.9px 282.9px,#e59bb5 282.9px 283.9px,#ffa7a7 283.9px 284.9px,#da99be 284.9px 285.9px,#e2a5c2 285.9px 286.9px,#f4bac6 286.9px 287.9px,#f8b8bf 287.9px 288.9px,#dc83a6 288.9px 289.9px,#dca1c4 289.9px 290.9px,#ffb4b4 290.9px 291.9px,#fbb9bd 291.9px 292.9px,#e9cee4 292.9px 293.9px,#ffc6c6 293.9px 294.9px,#cba6da 294.9px 295.9px,#bab4f9 295.9px 296.9px,#9874db 296.9px 297.9px,#938cf7 297.9px 298.9px,#e3d6f2 298.9px 299.9px,#d4bde8 299.9px 300.9px,#c4b8f3 300.9px 301.9px,#b0a0ef 301.9px 302.9px,#dac0e5 302.9px 303.9px,#b6aff9 303.9px 304.9px,#837cf8 304.9px 305.9px,#b3abf8 305.9px 306.9px,#9f9bfb 306.9px 307.9px,#bfa0e0 307.9px 308.9px,#d8c1e8 308.9px 309.9px,#d8cbf2 309.9px 310.9px,#aca8fa 310.9px 311.9px,#d3bde9 311.9px 312.9px,#cf9bca 312.9px 313.9px,#9f95f5 313.9px 314.9px,#9491fd 314.9px 315.9px,#8686ff 315.9px 316.9px,#a78fe7 316.9px 317.9px,#c5b2ec 317.9px 318.9px,#a18dec 318.9px 319.9px,#8e8eff 319.9px 320.9px,#a093f2 320.9px 321.9px,#8b7ef2 321.9px 322.9px,#7368f4 322.9px 323.9px,#b0acfb 323.9px 324.9px,#d2b9e5 324.9px 325.9px,#eec3d4 325.9px 326.9px,#e3beda 326.9px 327.9px,#ab9ff3 327.9px 328.9px,#a9a9ff 328.9px 329.9px,#9797ff 329.9px 330.9px,#a2a1fe 330.9px 331.9px,#a6a4fe 331.9px 332.9px,#a388e4 332.9px 333.9px,#b89ee5 333.9px 334.9px,#c6b0e9 334.9px 335.9px,#bfbdfd 335.9px 336.9px,#d4c2ed 336.9px 337.9px,#aa8ee3 337.9px 338.9px,#d8c1e8 338.9px 339.9px,#b29fec 339.9px 340.9px,#9975db 340.9px 341.9px,#b184d2 341.9px 342.9px,#b79ee5 342.9px 343.9px,#9191ff 343.9px 344.8px,#9687f0 344.8px 345.8px,#a889e0 345.8px 346.8px,#9678e1 346.8px 347.8px,#c6a8e1 347.8px 348.8px,#c7c7ff 348.8px 349.8px,#d2bdea 349.8px 350.8px,#ae9aeb 350.8px 351.8px,#9d9dff 351.8px 352.8px,#c0bcfb 352.8px 353.8px,#afa2f2 353.8px 354.8px,#8b81f5 354.8px 355.8px,#6e69fb 355.8px 356.8px,#6968fe 356.8px 357.8px,#9689f2 357.8px 358.8px,#7e73f3 358.8px 359.8px,#5656ff 359.8px 360.8px,#7c7afe 360.8px 361.8px,#8585ff 361.8px 362.8px,#6060ff 362.8px 363.8px,#9f97f7 363.8px 364.8px,#3232ff 364.8px 365.8px,#7471fc 365.8px 366.8px,#c0b5f4 366.8px 367.8px,#c9b8ee 367.8px 368.8px,#bfbafb 368.8px 369.8px,#875bd3 369.8px 370.8px,#4a44f8 370.8px 371.8px,#7870f6 371.8px 372.8px,#8885fc 372.8px 373.8px,#b2a3f0 373.8px 374.8px,#a699f3 374.8px 375.8px,#7c69ec 375.8px 376.8px,#8775ed 376.8px 377.8px,#cab0e5 377.8px 378.8px,#a8a8ff 378.8px 379.8px,#7b76fa 379.8px 380.8px,#dfd4f4 380.8px 381.8px,#7575ff 381.8px 382.8px,#7979ff 382.8px 383.8px,#9696ff 383.8px 384.8px,#8787ff 384.8px 385.8px,#cfbaea 385.8px 386.8px,#a19bf9 386.8px 387.8px,#c0c0fe 387.8px 388.8px,#af9eed 388.8px 389.8px,#704ddc 389.8px 390.8px,#6f6fff 390.8px 391.8px,#9086f6 391.8px 392.8px,#9889f0 392.8px 393.8px,#6e57e8 393.8px 394.8px,#7e76f8 394.8px 395.8px,#b1a8f6 395.8px 396.8px,#aea5f6 396.8px 397.8px,#7d75f7 397.8px 398.8px,#7469f4 398.8px 399.8px,#5555ff 399.8px 400.8px,#b6b4fd 400.8px 401.8px,#c3bbf7 401.8px 402.8px,#7570fa 402.8px 403.8px,#7e7eff 403.8px 404.8px,#4949ff 404.8px 405.8px,#9490fb 405.8px 406.8px,#7b77fb 406.8px 407.8px,#d9c8ee 407.8px 408.8px,#9985ec 408.8px 409.8px,#7e77f8 409.8px 410.8px,#a7a7ff 410.8px 411.8px,#c6b2ec 411.8px 412.8px,#9683ec 412.8px 413.8px,#6259f5 413.8px 414.8px,#8686ff 414.8px 415.8px,#7575ff 415.8px 416.8px,#9e9eff 416.8px 417.8px,#9f9cfc 417.8px 418.8px,#ceb7e8 418.8px 419.8px,#b5a7f2 419.8px 420.8px,#d3cffb 420.8px 421.8px,#adaafb 421.8px 422.8px,#6f61f2 422.8px 423.8px,#7c7cff 423.8px 424.8px,#c2b4f1 424.8px 425.8px,#a598f1 425.8px 426.8px,#d094c3 426.8px 427.8px,#b697e0 427.8px 428.8px,#7260ed 428.8px 429.8px,#9696ff 429.8px 430.8px,#9191ff 430.8px 431.8px,#8d7ff2 431.8px 432.8px,#8679f2 432.8px 433.8px,#adadff 433.8px 434.8px,#9486f1 434.8px 435.8px,#bdb2f5 435.8px 436.8px,#b0a4f2 436.8px 437.8px,#9674dd 437.8px 438.8px,#5f52f2 438.8px 439.8px,#8e73e4 439.8px 440.8px,#7d7dff 440.8px 441.8px,#8383ff 441.8px 442.8px,#6854eb 442.8px 443.8px,#c7c7ff 443.8px 444.8px,#dac4e9 444.8px 445.8px,#c4a2dd 445.8px 446.8px,#c2acea 446.8px 447.8px,#9e9cfc 447.8px 448.8px,#c7b9f0 448.8px 449.8px,#bdaff0 449.8px 450.8px,#9c9cff 450.8px 451.8px,#8b8bff 451.8px 452.8px,#cac2f7 452.8px 453.8px,#d2ccf9 453.8px 454.8px,#afafff 454.8px 455.8px,#aa91e6 455.8px 456.8px,#b5b5ff 456.8px 457.8px,#b4b4ff 457.8px 458.8px)"></div>
<div style="left:2098.40px;top:50.0px;width:62.72px;height:458.8px;background:linear-gradient(#8e8eff 0.0px 1.0px,#9984eb 1.0px 2.0px,#af99e9 2.0px 3.0px,#8080ff 3.0px 4.0px,#9d72d4 4.0px 5.0px,#ca9acf 5.0px 6.0px,#beb9fa 6.0px 7.0px,#b8b1f8 7.0px 8.0px,#af90e0 8.0px 9.0px,#b38ad6 9.0px 10.0px,#9490fb 10.0px 11.0px,#8f76e6 11.0px 12.0px,#7979ff 12.0px 13.0px,#9793fb 13.0px 14.0px,#ac9ff1 14.0px 15.0px,#c6afe7 15.0px 16.0px,#e4cae6 16.0px 17.0px,#ddcff1 17.0px 18.0px,#7673fc 18.0px 19.0px,#7976fc 19.0px 20.0px,#6261fe 20.0px 21.0px,#b5aef8 21.0px 22.0px,#b8b3fa 22.0px 23.0px,#b9abf1 23.0px 24.0px,#a3a2fe 24.0px 25.0px,#bbadf1 25.0px 26.0px,#b295e2 26.0px 27.0px,#d5d0fa 27.0px 28.0px,#ebb6ca 28.0px 29.0px,#b08edd 29.0px 30.0px,#918ffd 30.0px 31.0px,#a096f4 31.0px 32.0px,#9696ff 32.0px 33.0px,#9a82e6 33.0px 34.0px,#caa1d6 34.0px 35.0px,#9886ed 35.0px 36.0px,#988ff6 36.0px 37.0px,#9a9aff 37.0px 38.0px,#a5a5ff 38.0px 39.0px,#9889f0 39.0px 40.0px,#ad9ef0 40.0px 41.0px,#dbc2e6 41.0px 42.0px,#c08fcf 42.0px 43.0px,#8989ff 43.0px 44.0px,#7373ff 44.0px 45.0px,#9e9dfe 45.0px 46.0px,#d1c5f3 46.0px 47.0px,#6060ff 47.0px 48.0px,#a4a4ff 48.0px 49.0px,#988ff7 49.0px 50.0px,#aa83d8 50.0px 51.0px,#a68de6 51.0px 52.0px,#afaeff 52.0px 53.0px,#dac8ed 53.0px 54.0px,#d0beed 54.0px 55.0px,#cfaedd 55.0px 56.0px,#da9cc0 56.0px 57.0px,#8e7aeb 57.0px 58.0px,#ada4f6 58.0px 59.0px,#ada2f4 59.0px 60.0px,#7d7dff 60.0px 61.0px,#c2ade9 61.0px 62.0px,#b999de 62.0px 63.0px,#9b92f6 63.0px 64.0px,#7265f2 64.0px 65.0px,#8e81f2 65.0px 66.0px,#7d7dff 66.0px 67.0px,#c3aeea 67.0px 68.0px,#d0aedd 68.0px 69.0px,#a095f3 69.0px 70.0px,#9e99fa 70.0px 71.0px,#dedbfc 71.0px 72.0px,#988cf3 72.0px 73.0px,#af92e2 73.0px 74.0px,#a695ee 74.0px 75.0px,#cbbef3 75.0px 76.0px,#b1abf9 76.0px 77.0px,#d6c7f1 77.0px 78.0px,#cda9db 78.0px 79.0px,#cda8da 79.0px 80.0px,#c496d1 80.0px 81.0px,#ae97e8 81.0px 82.0px,#ddc6e8 82.0px 83.0px,#a4a0fa 83.0px 84.0px,#9b97fc 84.0px 85.0px,#a28ae7 85.0px 86.0px,#a8a3fa 86.0px 87.0px,#7362ee 87.0px 88.0px,#6251ee 88.0px 89.0px,#988df4 89.0px 90.0px,#c6b9f2 90.0px 91.0px,#b1a4f2 91.0px 92.0px,#7474ff 92.0px 93.0px,#9082f1 93.0px 94.0px,#b1a7f4 94.0px 95.0px,#9a9aff 95.0px 96.0px,#8282ff 96.0px 97.0px,#6464ff 97.0px 98.0px,#5555ff 98.0px 99.0px,#8484ff 99.0px 100.0px,#beb6f7 100.0px 101.0px,#baa4e9 101.0px 102.0px,#d5c0ea 102.0px 103.0px,#cda7d8 103.0px 104.0px,#917deb 104.0px 105.0px,#a694ed 105.0px 106.0px,#beaaeb 106.0px 107.0px,#c3ade9 107.0px 108.0px,#cba3d7 108.0px 109.0px,#afa1f1 109.0px 110.0px,#e4c8e4 110.0px 111.0px,#f4cbd6 111.0px 112.0px,#be8acb 112.0px 113.0px,#cc8cbf 113.0px 114.0px,#dc95b8 114.0px 114.9px,#e798b0 114.9px 115.9px,#e98aa0 115.9px 116.9px,#e5b5cf 116.9px 117.9px,#fba8ac 117.9px 118.9px,#d1a0ce 118.9px 119.9px,#d1aedc 119.9px 120.9px,#d498c3 120.9px 121.9px,#dca1c4 121.9px 122.9px,#e39db9 122.9px 123.9px,#f0a6b4 123.9px 124.9px,#de86a7 124.9px 125.9px,#c69ed8 125.9px 126.9px,#e0bad9 126.9px 127.9px,#ffbfbf 127.9px 128.9px,#f48c97 128.9px 129.9px,#ff9595 129.9px 130.9px,#d9cff6 130.9px 131.9px,#e19cb9 131.9px 132.9px,#eb8094 132.9px 133.9px,#feb2b2 133.9px 134.9px,#f6b0b9 134.9px 135.9px,#f0b2c1 135.9px 136.9px,#c09bda 136.9px 137.9px,#d4d2fd 137.9px 138.9px,#ecddf1 138.9px 139.9px,#ffc7c7 139.9px 140.9px,#ff8e8e 140.9px 141.9px,#fbbcc0 141.9px 142.9px,#e997ad 142.9px 143.9px,#feaaab 143.9px 144.9px,#f5cad4 144.9px 145.9px,#ecc2d5 145.9px 146.9px,#e9bcd2 146.9px 147.9px,#e798af 147.9px 148.9px,#fe9fa1 148.9px 149.9px,#ed92a3 149.9px 150.9px,#e6cde6 150.9px 151.9px,#d29cc9 151.9px 152.9px,#fa9196 152.9px 153.9px,#e6d1e9 153.9px 154.9px,#e7c1da 154.9px 155.9px,#f8b5bc 155.9px 156.9px,#f2c4d2 156.9px 157.9px,#f292a0 157.9px 158.9px,#fca6a9 158.9px 159.9px,#f6b1ba 159.9px 160.9px,#deb9d9 160.9px 161.9px,#e3a4c1 161.9px 162.9px,#f09aa9 162.9px 163.9px,#e4c2dd 163.9px 164.9px,#fca9ac 164.9px 165.9px,#ff9696 165.9px 166.9px,#f5c1cb 166.9px 167.9px,#eacfe4 167.9px 168.9px,#f3ccd8 168.9px 169.9px,#f59ea7 169.9px 170.9px,#ffb9b9 170.9px 171.9px,#d3a4d0 171.9px 172.9px,#e390ac 172.9px 173.9px,#ff7d7d 173.9px 174.9px,#e8a9c0 174.9px 175.9px,#d58fb8 175.9px 176.9px,#ce9acb 176.9px 177.9px,#c884bb 177.9px 178.9px,#e08aa9 178.9px 179.9px,#aa95eb 179.9px 180.9px,#e2cdea 180.9px 181.9px,#f0a9b8 181.9px 182.9px,#d0a7d6 182.9px 183.9px,#fd8a8c 183.9px 184.9px,#e17b9a 184.9px 185.9px,#ed9bad 185.9px 186.9px,#f7c8d0 186.9px 187.9px,#f8e6ed 187.9px 188.9px,#f2d2df 188.9px 189.9px,#fcbfc2 189.9px 190.9px,#ffb3b3 190.9px 191.9px,#ff8d8d 191.9px 192.9px,#f18390 192.9px 193.9px,#e37f9c 193.9px 194.9px,#ec91a5 194.9px 195.9px,#ffb9b9 195.9px 196.9px,#ffbdbd 196.9px 197.9px,#ffc0c0 197.9px 198.9px,#f59ba5 198.9px 199.9px,#e78ca3 199.9px 200.9px,#c67fb8 200.9px 201.9px,#d19ac8 201.9px 202.9px,#da9dc2 202.9px 203.9px,#ee8899 203.9px 204.9px,#f28895 204.9px 205.9px,#e092b1 205.9px 206.9px,#e9859b 206.9px 207.9px,#f9a3a9 207.9px 208.9px,#ffa2a2 208.9px 209.9px,#f3adb9 209.9px 210.9px,#d9b0d6 210.9px 211.9px,#c38dc9 211.9px 212.9px,#d1b4e2 212.9px 213.9px,#cfbded 213.9px 214.9px,#e4a4bf 214.9px 215.9px,#e484a0 215.9px 216.9px,#d694bd 216.9px 217.9px,#f6e0e9 217.9px 218.9px,#dd9abc 218.9px 219.9px,#ff7373 219.9px 220.9px,#f35561 220.9px 221.9px,#d194c2 221.9px 222.9px,#c6b0ea 222.9px 223.9px,#eed1e2 223.9px 224.9px,#e799b2 224.9px 225.9px,#eb7d91 225.9px 226.9px,#f59fa9 226.9px 227.9px,#edcddf 227.9px 228.9px,#d3c5f1 228.9px 229.9px,#d4b4df 229.9px 230.9px,#ecc1d4 230.9px 231.9px,#c59ed8 231.9px 232.9px,#f1a9b8 232.9px 233.9px,#dd93b5 233.9px 234.9px,#dfd4f4 234.9px 235.9px,#b5a2eb 235.9px 236.9px,#c5b4ee 236.9px 237.9px,#cebeef 237.9px 238.9px,#d882a9 238.9px 239.9px,#d8b9df 239.9px 240.9px,#a58ee8 240.9px 241.9px,#db9cc0 241.9px 242.9px,#c5c5ff 242.9px 243.9px,#cdb4e6 243.9px 244.9px,#c6b3ec 244.9px 245.9px,#8f77e7 245.9px 246.9px,#766bf4 246.9px 247.9px,#a47dd7 247.9px 248.9px,#b997dd 248.9px 249.9px,#ac89db 249.9px 250.9px,#b383cf 250.9px 251.9px,#886ae2 251.9px 252.9px,#cfa4d4 252.9px 253.9px,#d3c4f0 253.9px 254.9px,#fbbec2 254.9px 255.9px,#c9ade3 255.9px 256.9px,#a5a3fd 256.9px 257.9px,#a995eb 257.9px 258.9px,#d9b3d9 258.9px 259.9px,#d8bbe2 259.9px 260.9px,#a391ed 260.9px 261.9px,#a19af8 261.9px 262.9px,#c7a9e1 262.9px 263.9px,#bf9bdb 263.9px 264.9px,#a788e1 264.9px 265.9px,#caaadf 265.9px 266.9px,#8875ec 266.9px 267.9px,#9996fc 267.9px 268.9px,#a9a9ff 268.9px 269.9px,#8181ff 269.9px 270.9px,#ae8bdc 270.9px 271.9px,#caa7db 271.9px 272.9px,#c8baf1 272.9px 273.9px,#c1bffd 273.9px 274.9px,#6464ff 274.9px 275.9px,#6c67fa 275.9px 276.9px,#9f90f0 276.9px 277.9px,#e6d6ee 277.9px 278.9px,#c8b1e8 278.9px 279.9px,#d0b5e4 279.9px 280.9px,#baaaf0 280.9px 281.9px,#af9beb 281.9px 282.9px,#cb88bc 282.9px 283.9px,#a09af9 283.9px 284.9px,#d3c5f1 284.9px 285.9px,#ccb7ea 285.9px 286.9px,#cda7d9 286.9px 287.9px,#d1c1ef 287.9px 288.9px,#b2acf9 288.9px 289.9px,#a8a3fa 289.9px 290.9px,#cdccfe 290.9px 291.9px,#babaff 291.9px 292.9px,#caa2d8 292.9px 293.9px,#d9a1c7 293.9px 294.9px,#d7b9e1 294.9px 295.9px,#cac9fe 295.9px 296.9px,#d3a2ce 296.9px 297.9px,#dda3c5 297.9px 298.9px,#b9a1e7 298.9px 299.9px,#dca9cc 299.9px 300.9px,#ed9bac 300.9px 301.9px,#e4b8d3 301.9px 302.9px,#e2bad7 302.9px 303.9px,#e8cae1 303.9px 304.9px,#e0dffe 304.9px 305.9px,#feabac 305.9px 306.9px,#efa8b9 306.9px 307.9px,#dd9cbe 307.9px 308.9px,#cc9cce 308.9px 309.9px,#e693ac 309.9px 310.9px,#f5bdc7 310.9px 311.9px,#ff8f8f 311.9px 312.9px,#eca7ba 312.9px 313.9px,#bba6ea 313.9px 314.9px,#edc6d8 314.9px 315.9px,#e699b2 315.9px 316.9px,#e6a3bc 316.9px 317.9px,#d0a2d1 317.9px 318.9px,#dba2c6 318.9px 319.9px,#cf92c3 319.9px 320.9px,#e08dac 320.9px 321.9px,#db80a4 321.9px 322.9px,#fc7476 322.9px 323.9px,#f5c6d0 323.9px 324.9px,#f7d6de 324.9px 325.9px,#ffa7a7 325.9px 326.9px,#fcc4c7 326.9px 327.9px,#fbc8cc 327.9px 328.9px,#ff9696 328.9px 329.9px,#d5a1cb 329.9px 330.9px,#e797af 330.9px 331.9px,#ffa9a9 331.9px 332.9px,#f395a1 332.9px 333.9px,#f193a0 333.9px 334.9px,#f8949b 334.9px 335.9px,#dbabcf 335.9px 336.9px,#e4a1bc 336.9px 337.9px,#dc9ec1 337.9px 338.9px,#eab7cc 338.9px 339.9px,#f9a8ae 339.9px 340.9px,#e1d6f5 340.9px 341.9px,#d5bbe5 341.9px 342.9px,#dbadd2 342.9px 343.9px,#f3b8c4 343.9px 344.8px,#f7cad2 344.8px 345.8px,#e5b5cf 345.8px 346.8px,#f7838c 346.8px 347.8px,#ff9f9f 347.8px 348.8px,#bc7bbe 348.8px 349.8px,#b89ce4 349.8px 350.8px,#ffc4c4 350.8px 351.8px,#f9bac0 351.8px 352.8px,#f6b3bb 352.8px 353.8px,#e8b2ca 353.8px 354.8px,#e8889f 354.8px 355.8px,#ffa7a7 355.8px 356.8px,#c1adeb 356.8px 357.8px,#c468a3 357.8px 358.8px,#d38ab6 358.8px 359.8px,#ff8383 359.8px 360.8px,#f98c92 360.8px 361.8px,#e5a6c0 361.8px 362.8px,#eeb0c1 362.8px 363.8px,#ecb1c4 363.8px 364.8px,#ec8295 364.8px 365.8px,#ff7171 365.8px 366.8px,#ff7878 366.8px 367.8px,#ff8f8f 367.8px 368.8px,#ed7183 368.8px 369.8px,#e9aabf 369.8px 370.8px,#c3b6f3 370.8px 371.8px,#d5afd9 371.8px 372.8px,#f1c1cf 372.8px 373.8px,#f9a0a6 373.8px 374.8px,#ff9c9c 374.8px 375.8px,#ffcaca 375.8px 376.8px,#f8acb3 376.8px 377.8px,#ebb9cd 377.8px 378.8px,#f1adbb 378.8px 379.8px,#f6a4ae 379.8px 380.8px,#eaacc1 380.8px 381.8px,#ffbcbc 381.8px 382.8px,#e6849e 382.8px 383.8px,#cd74a6 383.8px 384.8px,#e57791 384.8px 385.8px,#f2a4b0 385.8px 386.8px,#fbbcc0 386.8px 387.8px,#fa9ea4 387.8px 388.8px,#efb9c8 388.8px 389.8px,#cab2e7 389.8px 390.8px,#cd83b5 390.8px 391.8px,#db8baf 391.8px 392.8px,#f7bfc7 392.8px 393.8px,#f78b93 393.8px 394.8px,#f06372 394.8px 395.8px,#bf99d9 395.8px 396.8px,#ed7f91 396.8px 397.8px,#fa8b90 397.8px 398.8px,#d0b9e7 398.8px 399.8px,#d6aed6 399.8px 400.8px,#e2adca 400.8px 401.8px,#e1cae8 401.8px 402.8px,#c9a4da 402.8px 403.8px,#fd9598 403.8px 404.8px,#f68e97 404.8px 405.8px,#e296b2 405.8px 406.8px,#e37692 406.8px 407.8px,#ce76a7 407.8px 408.8px,#e5bbd5 408.8px 409.8px,#e8788f 409.8px 410.8px,#cb95c9 410.8px 411.8px,#f4a4af 411.8px 412.8px,#f3c7d4 412.8px 413.8px,#e8d0e7 413.8px 414.8px,#fcb9bc 414.8px 415.8px,#f1bcca 415.8px 416.8px,#f1b8c6 416.8px 417.8px,#e396b2 417.8px 418.8px,#db7498 418.8px 419.8px,#e7b4cc 419.8px 420.8px,#edc9db 420.8px 421.8px,#f1c5d3 421.8px 422.8px,#e0bfde 422.8px 423.8px,#fe999a 423.8px 424.8px,#f0c1cf 424.8px 425.8px,#e3a6c2 425.8px 426.8px,#e7aac2 426.8px 427.8px,#ff8c8c 427.8px 428.8px,#f7b2b9 428.8px 429.8px,#f2818d 429.8px 430.8px,#f8949b 430.8px 431.8px,#ff7070 431.8px 432.8px,#fcacaf 432.8px 433.8px,#fca7aa 433.8px 434.8px,#ffa6a6 434.8px 435.8px,#ffbebe 435.8px 436.8px,#eda5b7 436.8px 437.8px,#e9d5ea 437.8px 438.8px,#f2bfcc 438.8px 439.8px,#fd8789 439.8px 440.8px,#f5616b 440.8px 441.8px,#f59ea7 441.8px 442.8px,#eda8bb 442.8px 443.8px,#daa6cb 443.8px 444.8px,#efb0c1 444.8px 445.8px,#d798c0 445.8px 446.8px,#fbd7db 446.8px 447.8px,#f9c7cd 447.8px 448.8px,#f2b1bd 448.8px 449.8px,#ff7070 449.8px 450.8px,#ff8f8f 450.8px 451.8px,#fcd2d5 451.8px 452.8px,#ded1f2 452.8px 453.8px,#dcb7d9 453.8px 454.8px,#f7929a 454.8px 455.8px,#ffb0b0 455.8px 456.8px,#f193a1 456.8px 457.8px,#ee9cad 457.8px 458.8px)"></div>
<svg width="2162" height="1176" viewBox="0 0 2162 1176">
<text class="b" transform="translate(-0.6 23.2) scale(1.09 1)">a</text>
<text x="18.8" y="300.9" textLength="54.4" lengthAdjust="spacingAndGlyphs" transform="rotate(-90 20.3 300.9)">TMN</text>
<text x="419.1" y="108.3" textLength="336.7" lengthAdjust="spacingAndGlyphs" transform="rotate(90 420.6 108.3)">AAV-H3.3(Q5A)-HA-IRES-GFP</text>
<defs><filter id="bl1" x="-50%" y="-50%" width="200%" height="200%"><feGaussianBlur stdDeviation="0.9"/></filter><filter id="bl5" x="-50%" y="-50%" width="200%" height="200%"><feGaussianBlur stdDeviation="1.5"/></filter><filter id="bl2" x="-50%" y="-50%" width="200%" height="200%"><feGaussianBlur stdDeviation="2.2"/></filter><filter id="bl4" x="-50%" y="-50%" width="200%" height="200%"><feGaussianBlur stdDeviation="14"/></filter><clipPath id="ca"><rect x="32" y="100" width="379.3" height="351.8"/></clipPath><clipPath id="ci"><rect x="261" y="334.4" width="148" height="117.4"/></clipPath></defs>
<rect x="32.0" y="98.8" width="380.1" height="353.0" fill="#cfcfcf"/>
<rect x="32.0" y="100.0" width="379.3" height="351.8" fill="#000"/>
<defs><filter id="nz" x="0" y="0" width="100%" height="100%" color-interpolation-filters="sRGB"><feTurbulence type="fractalNoise" baseFrequency="0.32" numOctaves="2" seed="5"/><feColorMatrix type="matrix" values="0.04 0 0 0 0.002  0 0.16 0 0 -0.025  0 0 0.03 0 0  0 0 0 0 1"/></filter><clipPath id="ct"><path d="M30.0,409.6 L33.0,409.5 L37.0,409.4 L41.7,409.4 L47.0,409.3 L52.5,409.1 L58.2,408.8 L63.7,408.4 L68.9,407.8 L73.8,407.1 L78.8,406.2 L83.8,405.2 L88.7,404.1 L93.7,402.9 L98.7,401.6 L103.7,400.2 L108.7,398.6 L113.8,396.8 L118.9,394.8 L124.2,392.7 L129.4,390.4 L134.5,388.1 L139.4,385.9 L144.1,383.7 L148.5,381.8 L152.5,380.1 L156.2,378.6 L159.7,377.2 L163.0,375.8 L166.2,374.4 L169.4,373.0 L172.6,371.4 L176.0,369.6 L179.5,367.6 L183.0,365.4 L186.5,363.1 L190.0,360.8 L193.5,358.4 L196.9,355.9 L200.3,353.5 L203.6,351.2 L206.8,348.9 L209.9,346.6 L213.0,344.3 L216.1,342.0 L219.1,339.7 L222.1,337.4 L225.1,335.1 L228.1,332.9 L231.2,330.7 L234.2,328.6 L237.3,326.5 L240.3,324.4 L243.3,322.4 L246.4,320.3 L249.4,318.2 L252.5,316.0 L255.6,313.8 L258.6,311.6 L261.7,309.4 L264.7,307.1 L267.8,304.9 L270.9,302.5 L273.9,300.2 L277.0,297.7 L280.1,295.2 L283.2,292.6 L286.3,289.9 L289.4,287.2 L292.5,284.5 L295.6,281.7 L298.6,279.0 L301.5,276.2 L304.3,273.4 L307.1,270.5 L309.9,267.6 L312.6,264.7 L315.2,261.8 L317.8,259.0 L320.4,256.1 L322.9,253.3 L325.3,250.6 L327.7,247.9 L330.0,245.2 L332.3,242.6 L334.5,240.0 L336.8,237.3 L339.0,234.6 L341.3,231.9 L343.6,229.1 L345.9,226.3 L348.2,223.4 L350.5,220.5 L352.8,217.6 L355.1,214.7 L357.4,211.8 L359.7,208.9 L362.0,206.1 L364.2,203.3 L366.4,200.5 L368.7,197.7 L370.9,194.9 L373.2,192.1 L375.6,189.1 L378.0,186.0 L380.6,182.7 L383.3,179.3 L386.0,175.7 L388.9,172.1 L391.6,168.5 L394.4,165.0 L397.0,161.6 L399.5,158.4 L401.9,155.3 L404.4,152.1 L406.8,148.9 L409.2,145.8 L411.4,143.0 L413.3,140.5 L414.9,138.3 L416.2,136.7 L414,95 L30,95 Z"/></clipPath></defs>
<g clip-path="url(#ca)">
<path d="M30.0,409.6 L33.0,409.5 L37.0,409.4 L41.7,409.4 L47.0,409.3 L52.5,409.1 L58.2,408.8 L63.7,408.4 L68.9,407.8 L73.8,407.1 L78.8,406.2 L83.8,405.2 L88.7,404.1 L93.7,402.9 L98.7,401.6 L103.7,400.2 L108.7,398.6 L113.8,396.8 L118.9,394.8 L124.2,392.7 L129.4,390.4 L134.5,388.1 L139.4,385.9 L144.1,383.7 L148.5,381.8 L152.5,380.1 L156.2,378.6 L159.7,377.2 L163.0,375.8 L166.2,374.4 L169.4,373.0 L172.6,371.4 L176.0,369.6 L179.5,367.6 L183.0,365.4 L186.5,363.1 L190.0,360.8 L193.5,358.4 L196.9,355.9 L200.3,353.5 L203.6,351.2 L206.8,348.9 L209.9,346.6 L213.0,344.3 L216.1,342.0 L219.1,339.7 L222.1,337.4 L225.1,335.1 L228.1,332.9 L231.2,330.7 L234.2,328.6 L237.3,326.5 L240.3,324.4 L243.3,322.4 L246.4,320.3 L249.4,318.2 L252.5,316.0 L255.6,313.8 L258.6,311.6 L261.7,309.4 L264.7,307.1 L267.8,304.9 L270.9,302.5 L273.9,300.2 L277.0,297.7 L280.1,295.2 L283.2,292.6 L286.3,289.9 L289.4,287.2 L292.5,284.5 L295.6,281.7 L298.6,279.0 L301.5,276.2 L304.3,273.4 L307.1,270.5 L309.9,267.6 L312.6,264.7 L315.2,261.8 L317.8,259.0 L320.4,256.1 L322.9,253.3 L325.3,250.6 L327.7,247.9 L330.0,245.2 L332.3,242.6 L334.5,240.0 L336.8,237.3 L339.0,234.6 L341.3,231.9 L343.6,229.1 L345.9,226.3 L348.2,223.4 L350.5,220.5 L352.8,217.6 L355.1,214.7 L357.4,211.8 L359.7,208.9 L362.0,206.1 L364.2,203.3 L366.4,200.5 L368.7,197.7 L370.9,194.9 L373.2,192.1 L375.6,189.1 L378.0,186.0 L380.6,182.7 L383.3,179.3 L386.0,175.7 L388.9,172.1 L391.6,168.5 L394.4,165.0 L397.0,161.6 L399.5,158.4 L401.9,155.3 L404.4,152.1 L406.8,148.9 L409.2,145.8 L411.4,143.0 L413.3,140.5 L414.9,138.3 L416.2,136.7 L414,95 L30,95 Z" fill="#050b03"/>
<g clip-path="url(#ct)"><rect x="32" y="100" width="379.3" height="351.8" filter="url(#nz)"/></g>
<path d="M30.0,409.6 L33.0,409.5 L37.0,409.4 L41.7,409.4 L47.0,409.3 L52.5,409.1 L58.2,408.8 L63.7,408.4 L68.9,407.8 L73.8,407.1 L78.8,406.2 L83.8,405.2 L88.7,404.1 L93.7,402.9 L98.7,401.6 L103.7,400.2 L108.7,398.6 L113.8,396.8 L118.9,394.8 L124.2,392.7 L129.4,390.4 L134.5,388.1 L139.4,385.9 L144.1,383.7 L148.5,381.8 L152.5,380.1 L156.2,378.6 L159.7,377.2 L163.0,375.8 L166.2,374.4 L169.4,373.0 L172.6,371.4 L176.0,369.6 L179.5,367.6 L183.0,365.4 L186.5,363.1 L190.0,360.8 L193.5,358.4 L196.9,355.9 L200.3,353.5 L203.6,351.2 L206.8,348.9 L209.9,346.6 L213.0,344.3 L216.1,342.0 L219.1,339.7 L222.1,337.4 L225.1,335.1 L228.1,332.9 L231.2,330.7 L234.2,328.6 L237.3,326.5 L240.3,324.4 L243.3,322.4 L246.4,320.3 L249.4,318.2 L252.5,316.0 L255.6,313.8 L258.6,311.6 L261.7,309.4 L264.7,307.1 L267.8,304.9 L270.9,302.5 L273.9,300.2 L277.0,297.7 L280.1,295.2 L283.2,292.6 L286.3,289.9 L289.4,287.2 L292.5,284.5 L295.6,281.7 L298.6,279.0 L301.5,276.2 L304.3,273.4 L307.1,270.5 L309.9,267.6 L312.6,264.7 L315.2,261.8 L317.8,259.0 L320.4,256.1 L322.9,253.3 L325.3,250.6 L327.7,247.9 L330.0,245.2 L332.3,242.6 L334.5,240.0 L336.8,237.3 L339.0,234.6 L341.3,231.9 L343.6,229.1 L345.9,226.3 L348.2,223.4 L350.5,220.5 L352.8,217.6 L355.1,214.7 L357.4,211.8 L359.7,208.9 L362.0,206.1 L364.2,203.3 L366.4,200.5 L368.7,197.7 L370.9,194.9 L373.2,192.1 L375.6,189.1 L378.0,186.0 L380.6,182.7 L383.3,179.3 L386.0,175.7 L388.9,172.1 L391.6,168.5 L394.4,165.0 L397.0,161.6 L399.5,158.4 L401.9,155.3 L404.4,152.1 L406.8,148.9 L409.2,145.8 L411.4,143.0 L413.3,140.5 L414.9,138.3 L416.2,136.7" fill="none" stroke="#08280a" stroke-opacity="0.32" stroke-width="56" filter="url(#bl4)" transform="translate(-22 -22)"/>
<path d="M30.0,409.6 L33.0,409.5 L37.0,409.4 L41.7,409.4 L47.0,409.3 L52.5,409.1 L58.2,408.8 L63.7,408.4 L68.9,407.8 L73.8,407.1 L78.8,406.2 L83.8,405.2 L88.7,404.1 L93.7,402.9 L98.7,401.6 L103.7,400.2 L108.7,398.6 L113.8,396.8 L118.9,394.8 L124.2,392.7 L129.4,390.4 L134.5,388.1 L139.4,385.9 L144.1,383.7 L148.5,381.8 L152.5,380.1 L156.2,378.6 L159.7,377.2 L163.0,375.8 L166.2,374.4 L169.4,373.0 L172.6,371.4 L176.0,369.6 L179.5,367.6 L183.0,365.4 L186.5,363.1 L190.0,360.8 L193.5,358.4 L196.9,355.9 L200.3,353.5 L203.6,351.2 L206.8,348.9 L209.9,346.6 L213.0,344.3 L216.1,342.0 L219.1,339.7 L222.1,337.4 L225.1,335.1 L228.1,332.9 L231.2,330.7 L234.2,328.6 L237.3,326.5 L240.3,324.4 L243.3,322.4 L246.4,320.3 L249.4,318.2 L252.5,316.0 L255.6,313.8 L258.6,311.6 L261.7,309.4 L264.7,307.1 L267.8,304.9 L270.9,302.5 L273.9,300.2 L277.0,297.7 L280.1,295.2 L283.2,292.6 L286.3,289.9 L289.4,287.2 L292.5,284.5 L295.6,281.7 L298.6,279.0 L301.5,276.2 L304.3,273.4 L307.1,270.5 L309.9,267.6 L312.6,264.7 L315.2,261.8 L317.8,259.0 L320.4,256.1 L322.9,253.3 L325.3,250.6 L327.7,247.9 L330.0,245.2 L332.3,242.6 L334.5,240.0 L336.8,237.3 L339.0,234.6 L341.3,231.9 L343.6,229.1 L345.9,226.3 L348.2,223.4 L350.5,220.5 L352.8,217.6 L355.1,214.7 L357.4,211.8 L359.7,208.9 L362.0,206.1 L364.2,203.3 L366.4,200.5 L368.7,197.7 L370.9,194.9 L373.2,192.1 L375.6,189.1 L378.0,186.0 L380.6,182.7 L383.3,179.3 L386.0,175.7 L388.9,172.1 L391.6,168.5 L394.4,165.0 L397.0,161.6 L399.5,158.4 L401.9,155.3 L404.4,152.1 L406.8,148.9 L409.2,145.8 L411.4,143.0 L413.3,140.5 L414.9,138.3 L416.2,136.7" fill="none" stroke="#0d300c" stroke-opacity="0.5" stroke-width="7" filter="url(#bl2)" transform="translate(-4 -4)"/>
<path d="M30.0,409.6 L33.0,409.5 L37.0,409.4 L41.7,409.4 L47.0,409.3 L52.5,409.1 L58.2,408.8 L63.7,408.4 L68.9,407.8 L73.8,407.1 L78.8,406.2 L83.8,405.2 L88.7,404.1 L93.7,402.9 L98.7,401.6 L103.7,400.2 L108.7,398.6 L113.8,396.8 L118.9,394.8 L124.2,392.7 L129.4,390.4 L134.5,388.1 L139.4,385.9 L144.1,383.7 L148.5,381.8 L152.5,380.1 L156.2,378.6 L159.7,377.2 L163.0,375.8 L166.2,374.4 L169.4,373.0 L172.6,371.4 L176.0,369.6 L179.5,367.6 L183.0,365.4 L186.5,363.1 L190.0,360.8 L193.5,358.4 L196.9,355.9 L200.3,353.5 L203.6,351.2 L206.8,348.9 L209.9,346.6 L213.0,344.3 L216.1,342.0 L219.1,339.7 L222.1,337.4 L225.1,335.1 L228.1,332.9 L231.2,330.7 L234.2,328.6 L237.3,326.5 L240.3,324.4 L243.3,322.4 L246.4,320.3 L249.4,318.2 L252.5,316.0 L255.6,313.8 L258.6,311.6 L261.7,309.4 L264.7,307.1 L267.8,304.9 L270.9,302.5 L273.9,300.2 L277.0,297.7 L280.1,295.2 L283.2,292.6 L286.3,289.9 L289.4,287.2 L292.5,284.5 L295.6,281.7 L298.6,279.0 L301.5,276.2 L304.3,273.4 L307.1,270.5 L309.9,267.6 L312.6,264.7 L315.2,261.8 L317.8,259.0 L320.4,256.1 L322.9,253.3 L325.3,250.6 L327.7,247.9 L330.0,245.2 L332.3,242.6 L334.5,240.0 L336.8,237.3 L339.0,234.6 L341.3,231.9 L343.6,229.1 L345.9,226.3 L348.2,223.4 L350.5,220.5 L352.8,217.6 L355.1,214.7 L357.4,211.8 L359.7,208.9 L362.0,206.1 L364.2,203.3 L366.4,200.5 L368.7,197.7 L370.9,194.9 L373.2,192.1 L375.6,189.1 L378.0,186.0 L380.6,182.7 L383.3,179.3 L386.0,175.7 L388.9,172.1 L391.6,168.5 L394.4,165.0 L397.0,161.6 L399.5,158.4 L401.9,155.3 L404.4,152.1 L406.8,148.9 L409.2,145.8 L411.4,143.0 L413.3,140.5 L414.9,138.3 L416.2,136.7 L414,460 L30,460 Z" fill="#000" filter="url(#bl1)"/>
<path d="M62.7,407.0 L67.9,406.4 L72.8,405.7 L77.8,404.8 L82.8,403.8 L87.7,402.7 L92.7,401.5 L97.7,400.2 L102.7,398.8 L107.7,397.2 L112.8,395.4 L117.9,393.4 L123.2,391.3 L128.4,389.0 L133.5,386.7 L138.4,384.5 L143.1,382.3 L147.5,380.4 L151.5,378.7 L155.2,377.2 L158.7,375.8 L162.0,374.4 L165.2,373.0 L168.4,371.6 L171.6,370.0 L175.0,368.2 L178.5,366.2 L182.0,364.0 L185.5,361.7 L189.0,359.4 L192.5,357.0 L195.9,354.5 L199.3,352.1 L202.6,349.8 L205.8,347.5 L208.9,345.2 L212.0,342.9 L215.1,340.6 L218.1,338.3 L221.1,336.0 L224.1,333.7 L227.1,331.5 L230.2,329.3 L233.2,327.2 L236.3,325.1 L239.3,323.0 L242.3,321.0 L245.4,318.9 L248.4,316.8" fill="none" stroke="#0f3c10" stroke-width="2.4" filter="url(#bl1)"/>
<path d="M239.1,323.2 L242.1,321.2 L245.2,319.1 L248.2,317.0 L251.3,314.8 L254.4,312.6 L257.4,310.4 L260.5,308.2 L263.5,305.9 L266.6,303.7 L269.7,301.3 L272.7,299.0 L275.8,296.5 L278.9,294.0 L282.0,291.4 L285.1,288.7 L288.2,286.0 L291.3,283.3 L294.4,280.5 L297.4,277.8 L300.3,275.0 L303.1,272.2 L305.9,269.3 L308.7,266.4 L311.4,263.5 L314.0,260.6 L316.6,257.8 L319.2,254.9 L321.7,252.1 L324.1,249.4 L326.5,246.7 L328.8,244.0 L331.1,241.4 L333.3,238.8 L335.6,236.1 L337.8,233.4 L340.1,230.7 L342.4,227.9 L344.7,225.1 L347.0,222.2 L349.3,219.3 L351.6,216.4 L353.9,213.5 L356.2,210.6 L358.5,207.7 L360.8,204.9 L363.0,202.1 L365.2,199.3 L367.5,196.5 L369.7,193.7" fill="none" stroke="#17641a" stroke-width="2.6" filter="url(#bl1)"/>
<path d="M334.4,234.9 L336.6,232.2 L338.9,229.5 L341.2,226.7 L343.5,223.9 L345.8,221.0 L348.1,218.1 L350.4,215.2 L352.7,212.3 L355.0,209.4 L357.3,206.5 L359.6,203.7" fill="none" stroke="#2fd42a" stroke-width="3.6" filter="url(#bl1)"/>
<g filter="url(#bl1)"><rect x="48.5" y="398.6" width="4.0" height="4.0" fill="#ef4a12"/><rect x="287.2" y="248.9" width="3.6" height="3.6" fill="#7a260f"/><rect x="251.5" y="257.8" width="3.7" height="3.7" fill="#d8300f"/><rect x="122.9" y="299.9" width="3.8" height="3.8" fill="#e2380f"/><rect x="340.8" y="199.5" width="3.0" height="3.0" fill="#5a2010"/><rect x="356.3" y="197.0" width="3.7" height="3.7" fill="#e2380f"/><rect x="391.4" y="152.5" width="4.0" height="4.0" fill="#d8300f"/><rect x="252.6" y="191.3" width="4.2" height="4.2" fill="#b0280f"/><rect x="225.2" y="315.0" width="3.7" height="3.7" fill="#7a260f"/><rect x="206.3" y="268.2" width="4.2" height="4.2" fill="#ef4a12"/><rect x="343.4" y="156.7" width="2.9" height="2.9" fill="#7a260f"/><rect x="86.4" y="289.2" width="3.5" height="3.5" fill="#d8300f"/><rect x="324.6" y="215.1" width="3.2" height="3.2" fill="#d8300f"/><rect x="304.2" y="159.6" width="3.0" height="3.0" fill="#e2380f"/><rect x="163.0" y="291.0" width="3.6" height="3.6" fill="#e2380f"/><rect x="342.0" y="173.5" width="3.8" height="3.8" fill="#b0280f"/><rect x="33.0" y="378.4" width="3.1" height="3.1" fill="#d8300f"/><rect x="135.4" y="368.8" width="3.7" height="3.7" fill="#d8300f"/><rect x="262.0" y="276.3" width="3.1" height="3.1" fill="#5a2010"/><rect x="292.0" y="257.6" width="3.4" height="3.4" fill="#e2380f"/><rect x="347.2" y="147.8" width="3.8" height="3.8" fill="#ef4a12"/><rect x="151.2" y="351.5" width="3.3" height="3.3" fill="#7a260f"/><rect x="239.8" y="253.6" width="3.3" height="3.3" fill="#6a1c0e"/><rect x="324.4" y="194.3" width="3.6" height="3.6" fill="#ef4a12"/><rect x="339.1" y="189.9" width="4.1" height="4.1" fill="#d8300f"/><rect x="294.6" y="131.2" width="3.9" height="3.9" fill="#c42a10"/><rect x="290.3" y="248.3" width="3.3" height="3.3" fill="#4a180c"/><rect x="56.3" y="400.3" width="3.6" height="3.6" fill="#ef4a12"/><rect x="146.2" y="364.6" width="3.1" height="3.1" fill="#5a2010"/><rect x="71.1" y="384.9" width="3.7" height="3.7" fill="#5a2010"/><rect x="310.2" y="189.3" width="3.3" height="3.3" fill="#c42a10"/><rect x="147.5" y="224.0" width="4.0" height="4.0" fill="#c42a10"/><rect x="106.6" y="275.5" width="4.0" height="4.0" fill="#ef4a12"/><rect x="118.9" y="303.9" width="3.5" height="3.5" fill="#7a260f"/><rect x="87.3" y="351.9" width="3.9" height="3.9" fill="#ef4a12"/><rect x="56.3" y="356.7" width="3.1" height="3.1" fill="#c42a10"/><rect x="206.1" y="262.4" width="3.6" height="3.6" fill="#c42a10"/><rect x="214.5" y="109.2" width="2.9" height="2.9" fill="#7a260f"/><rect x="273.6" y="199.6" width="3.9" height="3.9" fill="#6a1c0e"/><rect x="379.6" y="144.2" width="4.3" height="4.3" fill="#b0280f"/><rect x="313.2" y="243.7" width="3.7" height="3.7" fill="#d8300f"/><rect x="355.9" y="175.3" width="3.6" height="3.6" fill="#7a260f"/><rect x="359.5" y="107.6" width="4.0" height="4.0" fill="#e2380f"/><rect x="209.3" y="304.4" width="3.6" height="3.6" fill="#ef4a12"/><rect x="274.3" y="206.0" width="3.2" height="3.2" fill="#b0280f"/><rect x="126.2" y="321.7" width="3.2" height="3.2" fill="#b0280f"/><rect x="285.4" y="246.7" width="2.8" height="2.8" fill="#4a180c"/><rect x="189.4" y="337.6" width="3.6" height="3.6" fill="#d8300f"/><rect x="397.6" y="149.4" width="3.8" height="3.8" fill="#6a1c0e"/><rect x="377.1" y="167.3" width="3.7" height="3.7" fill="#4a180c"/><rect x="150.4" y="196.2" width="3.3" height="3.3" fill="#d8300f"/><rect x="118.0" y="381.1" width="4.2" height="4.2" fill="#b0280f"/><rect x="404.2" y="135.9" width="3.3" height="3.3" fill="#4a180c"/><rect x="375.0" y="114.0" width="4.1" height="4.1" fill="#b0280f"/><rect x="107.4" y="376.5" width="4.2" height="4.2" fill="#d8300f"/><rect x="91.5" y="373.5" width="3.6" height="3.6" fill="#4a180c"/><rect x="343.4" y="164.1" width="3.2" height="3.2" fill="#e2380f"/><rect x="75.8" y="309.0" width="3.1" height="3.1" fill="#b0280f"/><rect x="199.3" y="252.7" width="3.6" height="3.6" fill="#5a2010"/><rect x="264.2" y="270.6" width="3.3" height="3.3" fill="#d8300f"/><rect x="46.3" y="321.3" width="4.1" height="4.1" fill="#e2380f"/><rect x="381.3" y="122.9" width="3.7" height="3.7" fill="#5a2010"/><rect x="94.9" y="373.4" width="3.1" height="3.1" fill="#4a180c"/><rect x="230.9" y="321.5" width="3.7" height="3.7" fill="#6a1c0e"/><rect x="49.5" y="385.5" width="3.3" height="3.3" fill="#d8300f"/><rect x="87.3" y="314.3" width="3.9" height="3.9" fill="#e2380f"/><rect x="250.7" y="304.9" width="3.9" height="3.9" fill="#4a180c"/><rect x="266.1" y="265.5" width="3.4" height="3.4" fill="#6a1c0e"/><rect x="182.2" y="191.8" width="4.1" height="4.1" fill="#ef4a12"/><rect x="55.8" y="305.4" width="3.9" height="3.9" fill="#d8300f"/><rect x="268.9" y="200.2" width="3.6" height="3.6" fill="#b0280f"/><rect x="68.3" y="363.9" width="3.1" height="3.1" fill="#4a180c"/><rect x="151.1" y="247.4" width="3.9" height="3.9" fill="#e2380f"/><rect x="65.0" y="384.9" width="4.4" height="4.4" fill="#ef4a12"/><rect x="61.5" y="374.1" width="3.9" height="3.9" fill="#c42a10"/><rect x="90.0" y="393.8" width="2.9" height="2.9" fill="#6a1c0e"/><rect x="292.2" y="274.4" width="3.4" height="3.4" fill="#5a2010"/><rect x="381.0" y="163.6" width="4.1" height="4.1" fill="#c42a10"/><rect x="324.1" y="235.5" width="3.4" height="3.4" fill="#5a2010"/><rect x="109.9" y="337.9" width="4.3" height="4.3" fill="#b0280f"/><rect x="189.1" y="342.7" width="4.3" height="4.3" fill="#e2380f"/><rect x="113.2" y="378.6" width="4.3" height="4.3" fill="#d8300f"/><rect x="207.6" y="295.5" width="3.9" height="3.9" fill="#d8300f"/><rect x="351.6" y="193.5" width="3.0" height="3.0" fill="#6a1c0e"/><rect x="32.3" y="351.4" width="3.4" height="3.4" fill="#b0280f"/><rect x="84.2" y="389.5" width="3.2" height="3.2" fill="#6a1c0e"/><rect x="278.0" y="187.1" width="3.7" height="3.7" fill="#4a180c"/><rect x="105.6" y="341.3" width="3.4" height="3.4" fill="#c42a10"/><rect x="33.9" y="392.9" width="3.1" height="3.1" fill="#7a260f"/><rect x="59.9" y="322.1" width="3.0" height="3.0" fill="#c42a10"/><rect x="41.6" y="311.9" width="4.2" height="4.2" fill="#e2380f"/><rect x="44.1" y="350.2" width="3.2" height="3.2" fill="#ef4a12"/><rect x="50.1" y="204.9" width="3.2" height="3.2" fill="#7a260f"/><rect x="111.4" y="332.4" width="3.2" height="3.2" fill="#b0280f"/><rect x="33.1" y="338.1" width="3.3" height="3.3" fill="#ef4a12"/><rect x="122.2" y="355.1" width="4.0" height="4.0" fill="#ef4a12"/><rect x="300.9" y="104.0" width="3.9" height="3.9" fill="#d8300f"/><rect x="85.7" y="377.5" width="3.7" height="3.7" fill="#4a180c"/><rect x="244.4" y="201.8" width="3.9" height="3.9" fill="#e2380f"/><rect x="342.4" y="215.5" width="4.0" height="4.0" fill="#e2380f"/><rect x="119.4" y="311.4" width="3.3" height="3.3" fill="#b0280f"/><rect x="182.7" y="280.1" width="3.6" height="3.6" fill="#5a2010"/><rect x="161.2" y="281.1" width="3.2" height="3.2" fill="#ef4a12"/><rect x="55.7" y="308.6" width="2.9" height="2.9" fill="#7a260f"/><rect x="36.2" y="349.9" width="3.0" height="3.0" fill="#ef4a12"/><rect x="267.7" y="257.5" width="3.6" height="3.6" fill="#4a180c"/><rect x="52.2" y="348.1" width="4.3" height="4.3" fill="#c42a10"/><rect x="53.0" y="353.0" width="3.4" height="3.4" fill="#d8300f"/><rect x="159.4" y="148.8" width="3.8" height="3.8" fill="#6a1c0e"/><rect x="113.1" y="298.6" width="4.2" height="4.2" fill="#c42a10"/><rect x="260.1" y="272.4" width="3.8" height="3.8" fill="#5a2010"/><rect x="184.6" y="351.1" width="3.9" height="3.9" fill="#c42a10"/><rect x="198.6" y="279.2" width="4.3" height="4.3" fill="#d8300f"/><rect x="125.7" y="384.7" width="3.0" height="3.0" fill="#7a260f"/><rect x="67.7" y="343.5" width="3.3" height="3.3" fill="#6a1c0e"/><rect x="37.7" y="308.6" width="3.8" height="3.8" fill="#ef4a12"/><rect x="323.4" y="217.8" width="3.9" height="3.9" fill="#5a2010"/><rect x="190.2" y="320.4" width="3.2" height="3.2" fill="#5a2010"/><rect x="131.3" y="336.2" width="3.5" height="3.5" fill="#c42a10"/><rect x="260.4" y="298.2" width="4.2" height="4.2" fill="#d8300f"/><rect x="107.0" y="347.4" width="3.4" height="3.4" fill="#e2380f"/><rect x="237.3" y="313.2" width="3.9" height="3.9" fill="#5a2010"/><rect x="142.5" y="368.9" width="3.3" height="3.3" fill="#c42a10"/><rect x="32.5" y="366.2" width="4.2" height="4.2" fill="#c42a10"/><rect x="286.0" y="283.1" width="3.1" height="3.1" fill="#5a2010"/><rect x="223.9" y="276.0" width="3.2" height="3.2" fill="#b0280f"/><rect x="100.1" y="319.6" width="3.1" height="3.1" fill="#b0280f"/><rect x="131.4" y="325.3" width="3.3" height="3.3" fill="#5a2010"/><rect x="317.1" y="137.4" width="3.3" height="3.3" fill="#7a260f"/><rect x="152.8" y="349.1" width="3.4" height="3.4" fill="#6a1c0e"/><rect x="196.5" y="315.8" width="3.8" height="3.8" fill="#e2380f"/><rect x="140.8" y="295.7" width="3.2" height="3.2" fill="#b0280f"/><rect x="281.4" y="219.2" width="3.1" height="3.1" fill="#ef4a12"/><rect x="80.2" y="345.6" width="4.2" height="4.2" fill="#ef4a12"/><rect x="132.8" y="368.5" width="3.9" height="3.9" fill="#4a180c"/><rect x="152.3" y="331.0" width="3.1" height="3.1" fill="#e2380f"/><rect x="355.5" y="146.4" width="3.1" height="3.1" fill="#c42a10"/><rect x="42.4" y="336.7" width="3.4" height="3.4" fill="#4a180c"/><rect x="163.7" y="318.9" width="3.6" height="3.6" fill="#6a1c0e"/><rect x="98.7" y="392.1" width="3.8" height="3.8" fill="#d8300f"/><rect x="288.7" y="221.6" width="3.6" height="3.6" fill="#5a2010"/><rect x="73.0" y="375.5" width="3.6" height="3.6" fill="#7a260f"/><rect x="63.9" y="342.1" width="3.0" height="3.0" fill="#e2380f"/><rect x="79.2" y="365.2" width="3.6" height="3.6" fill="#d8300f"/><rect x="271.1" y="289.4" width="3.6" height="3.6" fill="#c42a10"/><rect x="102.7" y="289.1" width="3.5" height="3.5" fill="#7a260f"/><rect x="347.4" y="203.5" width="3.0" height="3.0" fill="#b0280f"/><rect x="103.4" y="352.0" width="2.9" height="2.9" fill="#5a2010"/><rect x="137.8" y="330.3" width="3.5" height="3.5" fill="#5a2010"/><rect x="371.6" y="157.6" width="3.1" height="3.1" fill="#4a180c"/><rect x="54.1" y="335.7" width="3.0" height="3.0" fill="#c42a10"/><rect x="212.2" y="325.4" width="3.5" height="3.5" fill="#6a1c0e"/><rect x="230.4" y="296.4" width="4.2" height="4.2" fill="#e2380f"/><rect x="116.6" y="299.5" width="3.4" height="3.4" fill="#4a180c"/><rect x="224.5" y="305.1" width="3.2" height="3.2" fill="#b0280f"/><rect x="83.0" y="370.5" width="3.0" height="3.0" fill="#4a180c"/><rect x="159.5" y="365.7" width="3.9" height="3.9" fill="#7a260f"/><rect x="72.8" y="378.7" width="3.5" height="3.5" fill="#6a1c0e"/><rect x="207.3" y="301.0" width="3.4" height="3.4" fill="#b0280f"/><rect x="402.1" y="115.7" width="4.2" height="4.2" fill="#e2380f"/><rect x="222.3" y="320.7" width="4.4" height="4.4" fill="#c42a10"/><rect x="238.7" y="241.7" width="3.1" height="3.1" fill="#d8300f"/><rect x="33.5" y="402.7" width="4.4" height="4.4" fill="#d8300f"/><rect x="198.9" y="298.1" width="3.4" height="3.4" fill="#d8300f"/><rect x="132.1" y="345.2" width="3.6" height="3.6" fill="#e2380f"/><rect x="378.2" y="173.7" width="4.1" height="4.1" fill="#c42a10"/><rect x="183.6" y="336.2" width="3.8" height="3.8" fill="#ef4a12"/><rect x="84.7" y="366.9" width="3.9" height="3.9" fill="#7a260f"/><rect x="233.9" y="304.9" width="3.6" height="3.6" fill="#e2380f"/><rect x="155.6" y="357.8" width="3.8" height="3.8" fill="#c42a10"/><rect x="117.2" y="363.5" width="3.2" height="3.2" fill="#4a180c"/><rect x="219.9" y="293.1" width="4.0" height="4.0" fill="#d8300f"/><rect x="377.9" y="156.5" width="3.8" height="3.8" fill="#7a260f"/><rect x="219.1" y="321.6" width="3.4" height="3.4" fill="#5a2010"/><rect x="71.6" y="355.1" width="3.9" height="3.9" fill="#6a1c0e"/><rect x="107.5" y="364.1" width="3.9" height="3.9" fill="#5a2010"/><rect x="112.6" y="298.2" width="3.7" height="3.7" fill="#4a180c"/><rect x="88.3" y="356.5" width="2.9" height="2.9" fill="#7a260f"/><rect x="94.6" y="337.5" width="3.9" height="3.9" fill="#b0280f"/><rect x="399.7" y="111.5" width="3.8" height="3.8" fill="#b0280f"/><rect x="35.1" y="339.5" width="3.8" height="3.8" fill="#ef4a12"/><rect x="301.3" y="239.1" width="3.6" height="3.6" fill="#4a180c"/><rect x="127.1" y="312.7" width="3.6" height="3.6" fill="#e2380f"/><rect x="173.8" y="347.9" width="3.6" height="3.6" fill="#5a2010"/><rect x="229.3" y="313.4" width="3.5" height="3.5" fill="#e2380f"/><rect x="115.4" y="313.4" width="3.2" height="3.2" fill="#c42a10"/><rect x="339.2" y="143.3" width="3.0" height="3.0" fill="#6a1c0e"/><rect x="354.8" y="170.7" width="2.8" height="2.8" fill="#7a260f"/><rect x="169.6" y="348.3" width="3.1" height="3.1" fill="#e2380f"/><rect x="40.7" y="306.2" width="3.9" height="3.9" fill="#7a260f"/><rect x="310.1" y="240.2" width="3.0" height="3.0" fill="#e2380f"/><rect x="338.9" y="135.7" width="3.4" height="3.4" fill="#5a2010"/><rect x="215.2" y="303.2" width="3.7" height="3.7" fill="#4a180c"/><rect x="49.9" y="400.5" width="3.1" height="3.1" fill="#c42a10"/><rect x="187.3" y="329.4" width="3.5" height="3.5" fill="#6a1c0e"/><rect x="47.1" y="391.2" width="3.2" height="3.2" fill="#c42a10"/><rect x="118.8" y="302.7" width="3.5" height="3.5" fill="#c42a10"/><rect x="192.8" y="336.2" width="3.8" height="3.8" fill="#e2380f"/><rect x="98.3" y="373.9" width="4.1" height="4.1" fill="#d8300f"/><rect x="255.4" y="260.7" width="3.5" height="3.5" fill="#b0280f"/><rect x="80.9" y="301.3" width="3.4" height="3.4" fill="#e2380f"/><rect x="172.5" y="331.1" width="3.0" height="3.0" fill="#5a2010"/><rect x="117.2" y="360.8" width="4.1" height="4.1" fill="#b0280f"/><rect x="63.0" y="301.5" width="3.5" height="3.5" fill="#4a180c"/><rect x="47.0" y="315.6" width="2.9" height="2.9" fill="#5a2010"/><rect x="123.1" y="355.2" width="4.1" height="4.1" fill="#e2380f"/><rect x="65.9" y="349.7" width="3.7" height="3.7" fill="#ef4a12"/><rect x="47.0" y="386.6" width="3.3" height="3.3" fill="#d8300f"/><rect x="102.5" y="389.1" width="3.5" height="3.5" fill="#4a180c"/><rect x="335.4" y="187.0" width="4.4" height="4.4" fill="#e2380f"/><rect x="60.0" y="317.4" width="3.2" height="3.2" fill="#c42a10"/><rect x="52.8" y="390.7" width="3.3" height="3.3" fill="#7a260f"/><rect x="137.2" y="365.6" width="3.1" height="3.1" fill="#c42a10"/><rect x="310.7" y="219.2" width="3.4" height="3.4" fill="#d8300f"/><rect x="334.5" y="222.0" width="3.4" height="3.4" fill="#5a2010"/><circle cx="50.5" cy="400.6" r="1.0" fill="#ff9a3a"/><circle cx="253.3" cy="259.6" r="1.0" fill="#ff9a3a"/><circle cx="124.9" cy="301.8" r="1.0" fill="#ff9a3a"/><circle cx="393.4" cy="154.5" r="1.0" fill="#ff9a3a"/><circle cx="254.7" cy="193.4" r="1.0" fill="#ff9a3a"/><circle cx="305.7" cy="161.1" r="1.0" fill="#ff9a3a"/><circle cx="137.2" cy="370.6" r="1.0" fill="#ff9a3a"/><circle cx="349.1" cy="149.7" r="1.0" fill="#ff9a3a"/><circle cx="296.6" cy="133.1" r="1.0" fill="#ff9a3a"/><circle cx="108.6" cy="277.5" r="1.0" fill="#ff9a3a"/><circle cx="57.9" cy="358.3" r="1.0" fill="#ff9a3a"/><circle cx="315.1" cy="245.6" r="1.0" fill="#ff9a3a"/><circle cx="361.5" cy="109.6" r="1.0" fill="#ff9a3a"/><circle cx="211.1" cy="306.2" r="1.0" fill="#ff9a3a"/><circle cx="127.8" cy="323.3" r="1.0" fill="#ff9a3a"/><circle cx="152.1" cy="197.9" r="1.0" fill="#ff9a3a"/><circle cx="120.1" cy="383.2" r="1.0" fill="#ff9a3a"/><circle cx="48.3" cy="323.4" r="1.0" fill="#ff9a3a"/><circle cx="51.2" cy="387.1" r="1.0" fill="#ff9a3a"/><circle cx="67.2" cy="387.1" r="1.0" fill="#ff9a3a"/><circle cx="209.5" cy="297.5" r="1.0" fill="#ff9a3a"/><circle cx="34.0" cy="353.0" r="1.0" fill="#ff9a3a"/><circle cx="107.3" cy="343.0" r="1.0" fill="#ff9a3a"/><circle cx="61.4" cy="323.6" r="1.0" fill="#ff9a3a"/><circle cx="124.2" cy="357.1" r="1.0" fill="#ff9a3a"/><circle cx="302.9" cy="106.0" r="1.0" fill="#ff9a3a"/><circle cx="246.3" cy="203.7" r="1.0" fill="#ff9a3a"/><circle cx="200.7" cy="281.3" r="1.0" fill="#ff9a3a"/><circle cx="108.7" cy="349.1" r="1.0" fill="#ff9a3a"/><circle cx="34.6" cy="368.3" r="1.0" fill="#ff9a3a"/><circle cx="142.4" cy="297.3" r="1.0" fill="#ff9a3a"/><circle cx="283.0" cy="220.7" r="1.0" fill="#ff9a3a"/><circle cx="272.9" cy="291.2" r="1.0" fill="#ff9a3a"/><circle cx="348.9" cy="205.1" r="1.0" fill="#ff9a3a"/><circle cx="55.6" cy="337.3" r="1.0" fill="#ff9a3a"/><circle cx="224.5" cy="322.9" r="1.0" fill="#ff9a3a"/><circle cx="35.7" cy="404.9" r="1.0" fill="#ff9a3a"/><circle cx="200.6" cy="299.8" r="1.0" fill="#ff9a3a"/><circle cx="133.9" cy="347.0" r="1.0" fill="#ff9a3a"/><circle cx="235.7" cy="306.7" r="1.0" fill="#ff9a3a"/><circle cx="37.0" cy="341.3" r="1.0" fill="#ff9a3a"/><circle cx="117.0" cy="315.0" r="1.0" fill="#ff9a3a"/><circle cx="51.4" cy="402.0" r="1.0" fill="#ff9a3a"/><circle cx="120.6" cy="304.4" r="1.0" fill="#ff9a3a"/><circle cx="100.3" cy="376.0" r="1.0" fill="#ff9a3a"/><circle cx="257.1" cy="262.5" r="1.0" fill="#ff9a3a"/><circle cx="337.6" cy="189.2" r="1.0" fill="#ff9a3a"/><circle cx="61.6" cy="319.0" r="1.0" fill="#ff9a3a"/></g>
<g filter="url(#bl1)"><rect x="335.1" y="157.4" width="5" height="5" fill="#b8d818"/><rect x="312.1" y="176.7" width="5" height="5" fill="#d8b830"/><rect x="327.4" y="214.3" width="5" height="5" fill="#e8e020"/><rect x="341.2" y="210.3" width="5" height="5" fill="#70e820"/><rect x="348.8" y="216.4" width="5" height="5" fill="#60e020"/><rect x="310.6" y="225.6" width="5" height="5" fill="#c8c828"/><rect x="307.5" y="242.5" width="5" height="5" fill="#e8d020"/><rect x="316.7" y="253.2" width="5" height="5" fill="#e8e828"/><rect x="324.4" y="248.6" width="5" height="5" fill="#d8c030"/><rect x="281.5" y="265.4" width="5" height="5" fill="#b0d820"/><rect x="301.4" y="266.9" width="5" height="5" fill="#f0c828"/><rect x="293.8" y="273.1" width="5" height="5" fill="#f0d030"/><rect x="258.6" y="275.2" width="5" height="5" fill="#f0b838"/><rect x="241.7" y="291.4" width="5" height="5" fill="#f0c030"/><rect x="250.9" y="309.8" width="5" height="5" fill="#f0e028"/><rect x="255.5" y="306.7" width="5" height="5" fill="#f0c828"/><rect x="201.9" y="344.1" width="5" height="5" fill="#f8e020"/><rect x="205.0" y="342.8" width="5" height="5" fill="#f0a020"/><rect x="185.1" y="345.9" width="5" height="5" fill="#f0c020"/><rect x="179.0" y="341.9" width="5" height="5" fill="#e8a828"/><rect x="166.8" y="346.5" width="5" height="5" fill="#f0d040"/><rect x="149.9" y="322.0" width="5" height="5" fill="#f0c040"/><rect x="351.9" y="196.6" width="5" height="5" fill="#e89028"/><rect x="286.1" y="114.5" width="5" height="5" fill="#e84818"/><rect x="189.7" y="339.8" width="5" height="5" fill="#e86018"/></g>
</g>
<rect x="33.0" y="417.0" width="68.0" height="34.8" fill="#030802"/>
<rect x="35.1" y="435.1" width="62.2" height="9.0" fill="#fff"/>
<line x1="46.0" y1="450.6" x2="57.0" y2="450.6" stroke="#18a010" stroke-width="1.2"/>
<line x1="59.0" y1="450.6" x2="63.0" y2="450.6" stroke="#18a010" stroke-width="1.2"/>
<line x1="71.0" y1="450.6" x2="76.0" y2="450.6" stroke="#18a010" stroke-width="1.2"/>
<text x="192.9" y="407.0" textLength="34.9" lengthAdjust="spacingAndGlyphs" style="fill:#ee2a4a;stroke:#ee2a4a">HA</text>
<text x="192.2" y="441.6" textLength="50.5" lengthAdjust="spacingAndGlyphs" style="fill:#0fa858;stroke:#0fa858">GFP</text>
<rect x="257.0" y="330.4" width="152.0" height="121.4" fill="#b4b4b4"/>
<rect x="261.0" y="334.4" width="148.0" height="117.4" fill="#000"/>
<g clip-path="url(#ci)">
<rect x="335.0" y="334.4" width="70.0" height="38.0" fill="#040a03"/>
<rect x="263.0" y="420.0" width="62.0" height="30.0" fill="#030802"/>
<g filter="url(#bl1)"><circle cx="287.7" cy="374.4" r="2.4" fill="#1c9a18"/><circle cx="263.9" cy="380.7" r="2.6" fill="#168a12"/><circle cx="384.6" cy="378.8" r="3.4" fill="#1a9a18"/><circle cx="376.6" cy="389.2" r="3.4" fill="#20a81c"/><circle cx="386.3" cy="390.3" r="1.8" fill="#0f5a0c"/><circle cx="403.3" cy="401.9" r="4.2" fill="#1a9a18"/><circle cx="263.1" cy="416.4" r="2.2" fill="#127a10"/><circle cx="293.5" cy="412.7" r="2.0" fill="#0f6a0c"/><circle cx="351.3" cy="422.6" r="2.6" fill="#168a12"/><circle cx="268.9" cy="410.6" r="1.8" fill="#0c4a0a"/><circle cx="365.0" cy="375.9" r="2.0" fill="#0c4a0a"/><circle cx="391.8" cy="432.3" r="2.0" fill="#0c4a0a"/><circle cx="281.9" cy="379.5" r="1.6" fill="#0c4a0a"/></g>
<g filter="url(#bl5)"><path d="M325.5,372.0 C332.5,372.0 338.5,383.0 343.0,395.0 C344.5,403.0 336.5,410.0 327.5,410.0 C316.5,410.0 309.5,403.0 310.0,394.0 C310.5,384.0 317.5,372.0 325.5,372.0 Z" fill="#e88a3a"/><ellipse cx="325.5" cy="390.0" rx="13.5" ry="16.5" fill="#f6e23a"/><ellipse cx="325.5" cy="382.0" rx="7" ry="8" fill="#fbe680"/><ellipse cx="332.5" cy="393.0" rx="6.5" ry="10" fill="#78d83a"/><ellipse cx="339.0" cy="388.0" rx="2.6" ry="7" fill="#3a4ae0"/><ellipse cx="332.5" cy="386.0" rx="3" ry="3" fill="#4aa0a0"/><circle cx="323.0" cy="398.0" r="5.6" fill="#e8c8e8"/><circle cx="323.0" cy="398.0" r="3.8" fill="#4a58f0"/></g>
</g>
<rect x="409.0" y="331.2" width="4.0" height="122.0" fill="#fff"/>
<rect x="360.0" y="435.2" width="47.2" height="8.9" fill="#fff"/>
<text x="272.5" y="442.4" textLength="56.3" lengthAdjust="spacingAndGlyphs" style="fill:#10aef0;stroke:#10aef0">DAPI</text>
<text class="b" transform="translate(488 24.3) scale(1.08 1)">b</text>
<rect x="597.0" y="16.3" width="38.3" height="21.5" fill="#00f900"/>
<rect x="597.0" y="48.0" width="38.3" height="20.8" fill="#ff9300"/>
<rect x="597.0" y="80.2" width="38.3" height="21.2" fill="#ff40ff"/>
<text x="645.0" y="36.3" textLength="49.6" lengthAdjust="spacingAndGlyphs">GFP</text>
<text x="645.5" y="68.0" textLength="97.5" lengthAdjust="spacingAndGlyphs">H3.3 WT</text>
<text x="645.5" y="100.0" textLength="114.5" lengthAdjust="spacingAndGlyphs">H3.3(Q5A)</text>
<line x1="587.4" y1="151.2" x2="587.4" y2="452.0" stroke="#111" stroke-width="1.7"/>
<line x1="579.4" y1="451.2" x2="787.0" y2="451.2" stroke="#111" stroke-width="1.7"/>
<line x1="579.4" y1="152.0" x2="587.4" y2="152.0" stroke="#111" stroke-width="1.7"/>
<text x="531.1" y="161.0" textLength="35.5" lengthAdjust="spacingAndGlyphs">2.0</text>
<line x1="579.4" y1="226.8" x2="587.4" y2="226.8" stroke="#111" stroke-width="1.7"/>
<text x="531.1" y="235.8" textLength="35.5" lengthAdjust="spacingAndGlyphs">1.5</text>
<line x1="579.4" y1="301.6" x2="587.4" y2="301.6" stroke="#111" stroke-width="1.7"/>
<text x="531.1" y="310.6" textLength="35.5" lengthAdjust="spacingAndGlyphs">1.0</text>
<line x1="579.4" y1="376.4" x2="587.4" y2="376.4" stroke="#111" stroke-width="1.7"/>
<text x="531.1" y="385.4" textLength="35.5" lengthAdjust="spacingAndGlyphs">0.5</text>
<line x1="579.4" y1="451.2" x2="587.4" y2="451.2" stroke="#111" stroke-width="1.7"/>
<text x="552.9" y="460.2" textLength="13.5" lengthAdjust="spacingAndGlyphs">0</text>
<text x="506.5" y="399.5" textLength="198.1" lengthAdjust="spacingAndGlyphs" transform="rotate(-90 508.0 399.5)">H3Q5his/H3 (a.u.)</text>
<rect x="607.1" y="301.6" width="40.0" height="149.6" fill="#00f900"/>
<rect x="667.3" y="306.1" width="39.7" height="145.1" fill="#ff9300"/>
<rect x="727.1" y="375.8" width="39.5" height="75.4" fill="#ff40ff"/>
<line x1="627.3" y1="286.0" x2="627.3" y2="302.0" stroke="#111" stroke-width="1.5"/>
<line x1="621.8" y1="286.0" x2="632.8" y2="286.0" stroke="#111" stroke-width="1.5"/>
<line x1="686.9" y1="283.3" x2="686.9" y2="306.1" stroke="#111" stroke-width="1.5"/>
<line x1="681.4" y1="283.3" x2="692.4" y2="283.3" stroke="#111" stroke-width="1.5"/>
<line x1="747.0" y1="358.6" x2="747.0" y2="375.8" stroke="#111" stroke-width="1.5"/>
<line x1="741.5" y1="358.6" x2="752.5" y2="358.6" stroke="#111" stroke-width="1.5"/>
<g fill="none" stroke="#000" stroke-width="3.5"><circle cx="614.5" cy="226.1" r="6.9"/><circle cx="627.6" cy="218.8" r="6.9"/><circle cx="640.1" cy="239.5" r="6.9"/><circle cx="627.0" cy="253.9" r="6.9"/><circle cx="614.5" cy="259.9" r="6.9"/><circle cx="627.0" cy="270.7" r="6.9"/><circle cx="614.5" cy="303.4" r="6.9"/><circle cx="627.6" cy="317.0" r="6.9"/><circle cx="640.1" cy="317.8" r="6.9"/><circle cx="614.5" cy="326.5" r="6.9"/><circle cx="627.3" cy="346.7" r="6.9"/><circle cx="627.3" cy="364.4" r="6.9"/><circle cx="627.3" cy="381.0" r="6.9"/><circle cx="627.3" cy="403.0" r="6.9"/><circle cx="686.9" cy="188.0" r="6.9"/><circle cx="686.9" cy="212.8" r="6.9"/><circle cx="674.4" cy="222.0" r="6.9"/><circle cx="699.9" cy="226.1" r="6.9"/><circle cx="686.9" cy="264.2" r="6.9"/><circle cx="699.9" cy="288.7" r="6.9"/><circle cx="686.9" cy="298.2" r="6.9"/><circle cx="686.9" cy="321.1" r="6.9"/><circle cx="686.9" cy="337.7" r="6.9"/><circle cx="674.4" cy="393.2" r="6.9"/><circle cx="699.9" cy="398.4" r="6.9"/><circle cx="686.9" cy="407.6" r="6.9"/><circle cx="686.9" cy="427.5" r="6.9"/><circle cx="747.0" cy="264.8" r="6.9"/><circle cx="747.0" cy="281.1" r="6.9"/><circle cx="747.0" cy="325.4" r="6.9"/><circle cx="734.2" cy="370.9" r="6.9"/><circle cx="759.5" cy="364.6" r="6.9"/><circle cx="734.2" cy="387.2" r="6.9"/><circle cx="759.5" cy="380.4" r="6.9"/><circle cx="734.2" cy="410.9" r="6.9"/><circle cx="759.5" cy="414.4" r="6.9"/><circle cx="734.2" cy="428.0" r="6.9"/><circle cx="759.5" cy="431.3" r="6.9"/><circle cx="734.2" cy="444.4" r="6.9"/></g>
<line x1="621.0" y1="140.8" x2="747.1" y2="140.8" stroke="#333" stroke-width="1.3"/>
<line x1="683.9" y1="170.0" x2="747.1" y2="170.0" stroke="#333" stroke-width="1.3"/>
<text x="683.7" y="142.5" text-anchor="middle">*</text>
<text x="716.0" y="171.5" text-anchor="middle">*</text>
<defs><filter id="bb" x="-30%" y="-60%" width="160%" height="220%"><feGaussianBlur stdDeviation="2.9"/></filter><filter id="bb2" x="-30%" y="-60%" width="160%" height="220%"><feGaussianBlur stdDeviation="3.8"/></filter><clipPath id="w1"><rect x="771.6" y="155.4" width="122.2" height="48.8"/></clipPath><clipPath id="w2"><rect x="899.5" y="155.4" width="122.2" height="48.8"/></clipPath><clipPath id="w3"><rect x="771.6" y="242.7" width="122.2" height="48.5"/></clipPath><clipPath id="w4"><rect x="899.5" y="242.7" width="122.2" height="48.5"/></clipPath></defs>
<rect x="771.6" y="155.4" width="122.2" height="48.8" fill="#e4e4e4"/>
<g clip-path="url(#w1)"><rect x="792.4" y="171.7" width="29.3" height="13.6" rx="6.8" fill="#121212" filter="url(#bb)"/><rect x="777.8" y="173.6" width="29.3" height="8.9" rx="4.5" fill="#333" filter="url(#bb)"/><rect x="795.6" y="174.9" width="23.0" height="8.9" rx="4.5" fill="#0c0c0c" filter="url(#bb)"/><rect x="840.2" y="176.1" width="43.4" height="5.7" rx="2.9" fill="#c8c8c8" filter="url(#bb2)"/><rect x="840.9" y="175.5" width="14.0" height="6.4" rx="3.2" fill="#bcbcbc" filter="url(#bb2)"/><rect x="872.1" y="174.6" width="13.4" height="9.4" rx="4.7" fill="#9c9c9c" filter="url(#bb2)"/></g>
<rect x="771.6" y="155.4" width="122.2" height="48.8" fill="none" stroke="#3c3c3c" stroke-width="1.5"/>
<rect x="899.5" y="155.4" width="122.2" height="48.8" fill="#dedede"/>
<g clip-path="url(#w2)"><rect x="906.6" y="174.9" width="45.9" height="13.4" rx="6.7" fill="#000" filter="url(#bb)"/><rect x="910.4" y="176.1" width="39.5" height="11.5" rx="5.7" fill="#000" filter="url(#bb)"/><rect x="973.5" y="174.6" width="40.2" height="10.7" rx="5.4" fill="#262626" filter="url(#bb)"/><rect x="980.5" y="177.0" width="26.8" height="6.8" rx="3.4" fill="#1a1a1a" filter="url(#bb)"/></g>
<rect x="899.5" y="155.4" width="122.2" height="48.8" fill="none" stroke="#3c3c3c" stroke-width="1.5"/>
<rect x="771.6" y="242.7" width="122.2" height="48.5" fill="#dadada"/>
<g clip-path="url(#w3)"><rect x="770.1" y="257.1" width="54.2" height="17.9" rx="8.9" fill="#000" filter="url(#bb)"/><rect x="773.9" y="259.7" width="47.2" height="14.7" rx="7.3" fill="#000" filter="url(#bb)"/><rect x="807.1" y="254.6" width="17.2" height="10.2" rx="5.1" fill="#080808" filter="url(#bb)"/><rect x="770.1" y="255.2" width="14.0" height="9.6" rx="4.8" fill="#0c0c0c" filter="url(#bb)"/><rect x="837.7" y="262.9" width="47.8" height="14.0" rx="7.0" fill="#050505" filter="url(#bb)"/><rect x="841.5" y="264.8" width="42.1" height="11.5" rx="5.7" fill="#000" filter="url(#bb)"/><rect x="872.1" y="260.9" width="14.0" height="10.2" rx="5.1" fill="#0a0a0a" filter="url(#bb)"/></g>
<rect x="771.6" y="242.7" width="122.2" height="48.5" fill="none" stroke="#3c3c3c" stroke-width="1.5"/>
<rect x="899.5" y="242.7" width="122.2" height="48.5" fill="#dcdcdc"/>
<g clip-path="url(#w4)"><rect x="905.9" y="260.3" width="47.2" height="15.9" rx="8.0" fill="#2a2a2a" filter="url(#bb2)"/><rect x="911.7" y="264.1" width="37.0" height="10.2" rx="5.1" fill="#1c1c1c" filter="url(#bb2)"/><rect x="969.7" y="262.9" width="44.6" height="14.7" rx="7.3" fill="#303030" filter="url(#bb2)"/><rect x="976.7" y="266.7" width="34.4" height="9.6" rx="4.8" fill="#202020" filter="url(#bb2)"/><rect x="1000.9" y="264.8" width="12.8" height="11.5" rx="5.7" fill="#222" filter="url(#bb2)"/></g>
<rect x="899.5" y="242.7" width="122.2" height="48.5" fill="none" stroke="#3c3c3c" stroke-width="1.5"/>
<line x1="1021.7" y1="177.6" x2="1035.4" y2="177.6" stroke="#333" stroke-width="1.4"/>
<line x1="1021.7" y1="269.9" x2="1035.4" y2="269.9" stroke="#333" stroke-width="1.4"/>
<text x="1046.5" y="184.2" textLength="27.8" lengthAdjust="spacingAndGlyphs">15</text>
<text x="1046.5" y="276.4" textLength="27.8" lengthAdjust="spacingAndGlyphs">15</text>
<text x="1027.3" y="308.9" textLength="44.3" lengthAdjust="spacingAndGlyphs">kDa</text>
<text x="847.3" y="233.0" textLength="97.0" lengthAdjust="spacingAndGlyphs">H3Q5his</text>
<text x="845.5" y="317.3" textLength="100.9" lengthAdjust="spacingAndGlyphs">H3 (total)</text>
<text x="795.5" y="147.5" textLength="49.6" lengthAdjust="spacingAndGlyphs" transform="rotate(-45 797.0 147.5)">GFP</text>
<text x="860.0" y="148.6" textLength="110.6" lengthAdjust="spacingAndGlyphs" transform="rotate(-45 861.5 148.6)">H3.3(Q5A)</text>
<text x="920.5" y="148.6" textLength="97.5" lengthAdjust="spacingAndGlyphs" transform="rotate(-45 922.0 148.6)">H3.3 WT</text>
<text x="985.2" y="148.6" textLength="110.6" lengthAdjust="spacingAndGlyphs" transform="rotate(-45 986.7 148.6)">H3.3(Q5A)</text>
<text class="b" transform="translate(1117.6 23.3) scale(1.1 1)">c</text>
<text x="1397.5" y="38.0" textLength="155.1" lengthAdjust="spacingAndGlyphs">GFP H3.3 WT</text>
<text x="1915.2" y="38.0" textLength="116.9" lengthAdjust="spacingAndGlyphs">H3.3(Q5A)</text>
<defs><linearGradient id="zs" x1="0" x2="1" y1="0" y2="0"><stop offset="0" stop-color="#ff0000"/><stop offset="0.5" stop-color="#ffffff"/><stop offset="1" stop-color="#0000ff"/></linearGradient></defs>
<rect x="1098.2" y="422.7" width="173.9" height="36.3" fill="url(#zs)" stroke="#000" stroke-width="1.4"/>
<line x1="1098.3" y1="459.0" x2="1098.3" y2="471.1" stroke="#000" stroke-width="1.4"/>
<line x1="1141.8" y1="459.0" x2="1141.8" y2="471.1" stroke="#000" stroke-width="1.4"/>
<line x1="1185.2" y1="459.0" x2="1185.2" y2="471.1" stroke="#000" stroke-width="1.4"/>
<line x1="1228.7" y1="459.0" x2="1228.7" y2="471.1" stroke="#000" stroke-width="1.4"/>
<line x1="1272.1" y1="459.0" x2="1272.1" y2="471.1" stroke="#000" stroke-width="1.4"/>
<text x="1080.4" y="499.7" textLength="29.2" lengthAdjust="spacingAndGlyphs">−2</text>
<text x="1124.3" y="499.7" textLength="27.3" lengthAdjust="spacingAndGlyphs">−1</text>
<text x="1177.1" y="499.7" textLength="14.8" lengthAdjust="spacingAndGlyphs">0</text>
<text x="1220.0" y="499.7" textLength="15.4" lengthAdjust="spacingAndGlyphs">1</text>
<text x="1265.5" y="499.7" textLength="14.9" lengthAdjust="spacingAndGlyphs">2</text>
<text x="1140.2" y="531.5" textLength="87.6" lengthAdjust="spacingAndGlyphs"><tspan class="i">Z</tspan> score</text>
<rect x="1288.8" y="509.6" width="187.0" height="26.4" fill="#fff" stroke="#111" stroke-width="1.4"/>
<rect x="1475.2" y="508.9" width="188.5" height="27.8" fill="#231f20"/>
<rect x="1786.9" y="509.6" width="187.0" height="26.4" fill="#fff" stroke="#111" stroke-width="1.4"/>
<rect x="1973.3" y="508.9" width="188.5" height="27.8" fill="#231f20"/>
<text x="1338.5" y="530.6" textLength="86.0" lengthAdjust="spacingAndGlyphs">Inactive</text>
<text x="1538.1" y="530.6" textLength="69.5" lengthAdjust="spacingAndGlyphs" style="fill:#fff;stroke:#fff">Active</text>
<text x="1836.6" y="530.6" textLength="86.0" lengthAdjust="spacingAndGlyphs">Inactive</text>
<text x="2036.2" y="530.6" textLength="69.5" lengthAdjust="spacingAndGlyphs" style="fill:#fff;stroke:#fff">Active</text>
<text x="1218.5" y="566.8" textLength="64.7" lengthAdjust="spacingAndGlyphs">ZT (h)</text>
<text x="1317.6" y="566.8" text-anchor="middle">0</text>
<text x="1815.7" y="566.8" text-anchor="middle">0</text>
<text x="1380.6" y="566.8" text-anchor="middle">4</text>
<text x="1878.7" y="566.8" text-anchor="middle">4</text>
<text x="1446.6" y="566.8" text-anchor="middle">8</text>
<text x="1944.7" y="566.8" text-anchor="middle">8</text>
<text x="1503.5" y="566.8" text-anchor="middle">12</text>
<text x="2001.6" y="566.8" text-anchor="middle">12</text>
<text x="1567.0" y="566.8" text-anchor="middle">16</text>
<text x="2065.1" y="566.8" text-anchor="middle">16</text>
<text x="1633.6" y="566.8" text-anchor="middle">20</text>
<text x="2131.7" y="566.8" text-anchor="middle">20</text>
<line x1="1663.2" y1="103.7" x2="1683.7" y2="103.7" stroke="#444" stroke-width="1.1"/>
<text x="1688.9" y="111.8" textLength="59.5" lengthAdjust="spacingAndGlyphs" class="i">Usp2</text>
<line x1="1663.2" y1="177.3" x2="1683.7" y2="177.3" stroke="#444" stroke-width="1.1"/>
<text x="1688.9" y="180.0" textLength="65.7" lengthAdjust="spacingAndGlyphs" class="i">Clock</text>
<line x1="1663.2" y1="185.2" x2="1683.7" y2="185.2" stroke="#444" stroke-width="1.1"/>
<text x="1688.9" y="199.2" textLength="67.5" lengthAdjust="spacingAndGlyphs" class="i">Nr1d1</text>
<line x1="1663.2" y1="306.5" x2="1683.7" y2="306.5" stroke="#444" stroke-width="1.1"/>
<text x="1688.9" y="298.3" textLength="50.7" lengthAdjust="spacingAndGlyphs" class="i">Per1</text>
<line x1="1663.2" y1="311.1" x2="1683.7" y2="311.1" stroke="#444" stroke-width="1.1"/>
<text x="1688.9" y="319.0" textLength="48.0" lengthAdjust="spacingAndGlyphs" class="i">Dbp</text>
<line x1="1663.2" y1="316.0" x2="1683.7" y2="316.0" stroke="#444" stroke-width="1.1"/>
<text x="1688.9" y="339.2" textLength="69.0" lengthAdjust="spacingAndGlyphs" class="i">Nr1d2</text>
<line x1="1663.2" y1="391.6" x2="1683.7" y2="391.6" stroke="#444" stroke-width="1.1"/>
<text x="1688.9" y="398.2" textLength="79.0" lengthAdjust="spacingAndGlyphs" class="i">Thrap3</text>
<line x1="1663.2" y1="413.5" x2="1683.7" y2="413.5" stroke="#444" stroke-width="1.1"/>
<text x="1688.9" y="421.4" textLength="71.2" lengthAdjust="spacingAndGlyphs" class="i">Adcy1</text>
<line x1="1663.2" y1="465.4" x2="1683.7" y2="465.4" stroke="#444" stroke-width="1.1"/>
<text x="1688.9" y="471.6" textLength="52.0" lengthAdjust="spacingAndGlyphs" class="i">Cry1</text>
<text class="b" transform="translate(0.6 620.8) scale(1.1 1)">d</text>
<rect x="655.0" y="635.8" width="240.9" height="31.8" fill="#7487c0"/>
<line x1="647.2" y1="651.7" x2="655.0" y2="651.7" stroke="#222" stroke-width="1.5"/>
<text x="548.0" y="659.6" textLength="86.9" lengthAdjust="spacingAndGlyphs">CLOCK</text>
<rect x="655.0" y="672.1" width="225.8" height="31.8" fill="#7487c0"/>
<line x1="647.2" y1="687.7" x2="655.0" y2="687.7" stroke="#222" stroke-width="1.5"/>
<text x="552.5" y="694.7" textLength="79.4" lengthAdjust="spacingAndGlyphs">NR3C1</text>
<rect x="655.0" y="708.1" width="210.5" height="31.8" fill="#7487c0"/>
<line x1="647.2" y1="723.7" x2="655.0" y2="723.7" stroke="#222" stroke-width="1.5"/>
<text x="552.5" y="731.3" textLength="80.6" lengthAdjust="spacingAndGlyphs">NR3C2</text>
<rect x="655.0" y="744.2" width="135.5" height="31.8" fill="#7487c0"/>
<line x1="647.2" y1="759.7" x2="655.0" y2="759.7" stroke="#222" stroke-width="1.5"/>
<text x="552.0" y="769.2" textLength="79.9" lengthAdjust="spacingAndGlyphs">CREB1</text>
<rect x="655.0" y="780.4" width="200.8" height="31.8" fill="#a3b0d7"/>
<line x1="647.2" y1="796.0" x2="655.0" y2="796.0" stroke="#222" stroke-width="1.5"/>
<text x="48.9" y="803.7" textLength="586.0" lengthAdjust="spacingAndGlyphs">Diurnally regulated genes with circadian orthologues</text>
<rect x="655.0" y="816.4" width="162.5" height="31.8" fill="#a3b0d7"/>
<line x1="647.2" y1="832.0" x2="655.0" y2="832.0" stroke="#222" stroke-width="1.5"/>
<text x="171.9" y="837.3" textLength="462.1" lengthAdjust="spacingAndGlyphs">Synaptic proteins at the synaptic junction</text>
<rect x="655.0" y="852.4" width="132.7" height="31.8" fill="#a3b0d7"/>
<line x1="647.2" y1="867.8" x2="655.0" y2="867.8" stroke="#222" stroke-width="1.5"/>
<text x="376.5" y="872.4" textLength="257.5" lengthAdjust="spacingAndGlyphs">Long-term potentiation</text>
<rect x="655.0" y="888.3" width="115.8" height="31.8" fill="#a3b0d7"/>
<line x1="647.2" y1="903.8" x2="655.0" y2="903.8" stroke="#222" stroke-width="1.5"/>
<text x="274.2" y="908.1" textLength="360.0" lengthAdjust="spacingAndGlyphs">Neurotrophin signalling pathway</text>
<rect x="655.0" y="924.6" width="146.9" height="31.8" fill="#d0d6ea"/>
<line x1="647.2" y1="940.1" x2="655.0" y2="940.1" stroke="#222" stroke-width="1.5"/>
<text x="376.5" y="946.5" textLength="257.5" lengthAdjust="spacingAndGlyphs">Long-term potentiation</text>
<rect x="655.0" y="960.5" width="115.0" height="31.8" fill="#d0d6ea"/>
<line x1="647.2" y1="976.2" x2="655.0" y2="976.2" stroke="#222" stroke-width="1.5"/>
<text x="386.8" y="984.7" textLength="247.2" lengthAdjust="spacingAndGlyphs">Circadian entrainment</text>
<rect x="655.0" y="996.5" width="101.6" height="31.8" fill="#d0d6ea"/>
<line x1="647.2" y1="1012.2" x2="655.0" y2="1012.2" stroke="#222" stroke-width="1.5"/>
<text x="274.2" y="1018.0" textLength="360.0" lengthAdjust="spacingAndGlyphs">Neurotrophin signalling pathway</text>
<rect x="655.0" y="1032.5" width="98.8" height="31.8" fill="#d0d6ea"/>
<line x1="647.2" y1="1048.2" x2="655.0" y2="1048.2" stroke="#222" stroke-width="1.5"/>
<text x="377.0" y="1053.4" textLength="257.4" lengthAdjust="spacingAndGlyphs">Glutamatergic synapse</text>
<line x1="655.0" y1="612.8" x2="655.0" y2="1082.9" stroke="#222" stroke-width="1.5"/>
<line x1="654.3" y1="1082.1" x2="945.2" y2="1082.1" stroke="#222" stroke-width="1.5"/>
<line x1="654.8" y1="1082.1" x2="654.8" y2="1089.2" stroke="#222" stroke-width="1.5"/>
<text x="655.2" y="1121.4" text-anchor="middle">0</text>
<line x1="727.2" y1="1082.1" x2="727.2" y2="1089.2" stroke="#222" stroke-width="1.5"/>
<text x="727.6" y="1121.4" text-anchor="middle">1</text>
<line x1="799.6" y1="1082.1" x2="799.6" y2="1089.2" stroke="#222" stroke-width="1.5"/>
<text x="800.0" y="1121.4" text-anchor="middle">2</text>
<line x1="872.0" y1="1082.1" x2="872.0" y2="1089.2" stroke="#222" stroke-width="1.5"/>
<text x="872.4" y="1121.4" text-anchor="middle">3</text>
<line x1="944.4" y1="1082.1" x2="944.4" y2="1089.2" stroke="#222" stroke-width="1.5"/>
<text x="944.8" y="1121.4" text-anchor="middle">4</text>
<line x1="656.0" y1="778.9" x2="957.4" y2="778.9" stroke="#333" stroke-width="0.9" stroke-dasharray="1 1"/>
<line x1="656.0" y1="922.4" x2="957.4" y2="922.4" stroke="#333" stroke-width="0.9" stroke-dasharray="1 1"/>
<line x1="746.7" y1="612.8" x2="746.7" y2="1085.5" stroke="#e8202a" stroke-width="1.0" stroke-dasharray="2.6 1"/>
<text x="751.1" y="1157.6" textLength="96.0" lengthAdjust="spacingAndGlyphs">–log<tspan style="font-size:16px" dy="8.5">10</tspan><tspan dy="-8.5">[</tspan><tspan class="i">P</tspan>]</text>
<rect x="810.7" y="997.3" width="44.1" height="14.3" fill="#7487c0"/>
<rect x="810.7" y="1022.2" width="44.1" height="14.4" fill="#a3b0d7"/>
<rect x="810.7" y="1046.9" width="44.1" height="14.3" fill="#d0d6ea"/>
<text x="865.1" y="1010.9" textLength="64.3" lengthAdjust="spacingAndGlyphs">ChEA</text>
<text x="865.1" y="1037.3" textLength="107.8" lengthAdjust="spacingAndGlyphs">BioPlanet</text>
<text x="865.1" y="1063.2" textLength="70.8" lengthAdjust="spacingAndGlyphs">KEGG</text>
<text x="1012.8" y="687.7" textLength="179.8" lengthAdjust="spacingAndGlyphs">Rhythmic genes</text>
<text x="1028.0" y="717.3" textLength="149.6" lengthAdjust="spacingAndGlyphs">GFP/H3.3WT</text>
<text x="918.5" y="747.3" textLength="368.8" lengthAdjust="spacingAndGlyphs">(~92% disrupted with H3.3(Q5A))</text>
<text class="b" transform="translate(1442.3 620.8) scale(1.1 1)">e</text>
<text x="1582.5" y="659.0" textLength="114.4" lengthAdjust="spacingAndGlyphs">Dark–dark</text>
<rect x="1492.5" y="671.2" width="147.6" height="32.8" fill="#8bc765"/>
<rect x="1639.8" y="671.2" width="148.0" height="32.8" fill="#15a79d"/>
<rect x="1492.5" y="703.7" width="147.6" height="33.1" fill="#62bc7e"/>
<rect x="1639.8" y="703.7" width="148.0" height="33.1" fill="#2bb693"/>
<rect x="1492.5" y="736.5" width="147.6" height="32.6" fill="#2f8e9f"/>
<rect x="1639.8" y="736.5" width="148.0" height="32.6" fill="#338b9f"/>
<rect x="1492.5" y="768.8" width="147.6" height="32.6" fill="#90c961"/>
<rect x="1639.8" y="768.8" width="148.0" height="32.6" fill="#fbe625"/>
<rect x="1492.5" y="801.1" width="147.6" height="33.1" fill="#4f5f9b"/>
<rect x="1639.8" y="801.1" width="148.0" height="33.1" fill="#545795"/>
<rect x="1492.5" y="833.9" width="147.6" height="32.4" fill="#5a2f7e"/>
<rect x="1639.8" y="833.9" width="148.0" height="32.4" fill="#552162"/>
<rect x="1492.5" y="866.0" width="147.6" height="32.8" fill="#85c46b"/>
<rect x="1639.8" y="866.0" width="148.0" height="32.8" fill="#1dab97"/>
<rect x="1492.5" y="898.5" width="147.6" height="32.8" fill="#78bf73"/>
<rect x="1639.8" y="898.5" width="148.0" height="32.8" fill="#29b48f"/>
<rect x="1492.5" y="931.0" width="147.6" height="33.2" fill="#17ae96"/>
<rect x="1639.8" y="931.0" width="148.0" height="33.2" fill="#e5e420"/>
<rect x="1492.5" y="963.9" width="147.6" height="33.1" fill="#35809d"/>
<rect x="1639.8" y="963.9" width="148.0" height="33.1" fill="#32839e"/>
<rect x="1492.5" y="996.7" width="147.6" height="32.3" fill="#555294"/>
<rect x="1639.8" y="996.7" width="148.0" height="32.3" fill="#49649d"/>
<rect x="1492.5" y="1028.7" width="147.6" height="33.4" fill="#59408c"/>
<rect x="1639.8" y="1028.7" width="148.0" height="33.4" fill="#5b2872"/>
<text x="1497.3" y="697.1" textLength="14.7" lengthAdjust="spacingAndGlyphs" style="fill:#fff;stroke:#fff">1</text>
<text x="1497.3" y="732.9" textLength="14.7" lengthAdjust="spacingAndGlyphs" style="fill:#fff;stroke:#fff">2</text>
<text x="1497.3" y="763.0" textLength="14.7" lengthAdjust="spacingAndGlyphs" style="fill:#fff;stroke:#fff">3</text>
<text x="1497.3" y="794.7" textLength="14.7" lengthAdjust="spacingAndGlyphs" style="fill:#fff;stroke:#fff">4</text>
<text x="1497.3" y="828.2" textLength="14.7" lengthAdjust="spacingAndGlyphs" style="fill:#fff;stroke:#fff">5</text>
<text x="1497.3" y="860.3" textLength="14.7" lengthAdjust="spacingAndGlyphs" style="fill:#fff;stroke:#fff">6</text>
<text x="1497.3" y="891.1" textLength="14.7" lengthAdjust="spacingAndGlyphs" style="fill:#fff;stroke:#fff">7</text>
<text x="1497.3" y="925.1" textLength="14.7" lengthAdjust="spacingAndGlyphs" style="fill:#fff;stroke:#fff">8</text>
<text x="1497.3" y="957.7" textLength="14.7" lengthAdjust="spacingAndGlyphs" style="fill:#fff;stroke:#fff">9</text>
<text x="1497.3" y="990.2" textLength="27.7" lengthAdjust="spacingAndGlyphs" style="fill:#fff;stroke:#fff">10</text>
<text x="1497.3" y="1022.3" textLength="27.7" lengthAdjust="spacingAndGlyphs" style="fill:#fff;stroke:#fff">11</text>
<text x="1497.3" y="1056.3" textLength="27.7" lengthAdjust="spacingAndGlyphs" style="fill:#fff;stroke:#fff">12</text>
<defs><linearGradient id="ina" x1="0" x2="1" y1="0" y2="0"><stop offset="0" stop-color="#ffffff"/><stop offset="0.12" stop-color="#f4f4f4"/><stop offset="0.55" stop-color="#8a8888"/><stop offset="0.9" stop-color="#2a2627"/><stop offset="1" stop-color="#231f20"/></linearGradient></defs>
<rect x="1447.2" y="671.2" width="45.5" height="96.5" fill="#231f20"/>
<rect x="1447.2" y="767.7" width="45.5" height="98.3" fill="url(#ina)"/>
<rect x="1447.2" y="866.0" width="45.5" height="97.9" fill="#231f20"/>
<rect x="1447.2" y="963.9" width="45.5" height="97.9" fill="url(#ina)"/>
<text x="1456.1" y="684.3" textLength="72.1" lengthAdjust="spacingAndGlyphs" transform="rotate(90 1457.6 684.3)" style="fill:#fff;stroke:#fff">Active</text>
<text x="1456.1" y="776.0" textLength="87.1" lengthAdjust="spacingAndGlyphs" transform="rotate(90 1457.6 776.0)" style="fill:#fff;stroke:#fff">Inactive</text>
<text x="1456.1" y="880.5" textLength="71.1" lengthAdjust="spacingAndGlyphs" transform="rotate(90 1457.6 880.5)" style="fill:#fff;stroke:#fff">Active</text>
<text x="1456.1" y="973.0" textLength="86.1" lengthAdjust="spacingAndGlyphs" transform="rotate(90 1457.6 973.0)" style="fill:#fff;stroke:#fff">Inactive</text>
<text x="1698.5" y="860.3" textLength="28.0" lengthAdjust="spacingAndGlyphs" style="fill:#fff;stroke:#fff;font-size:21px">##</text>
<text x="1705.2" y="891.1" textLength="13.9" lengthAdjust="spacingAndGlyphs" style="fill:#fff;stroke:#fff;font-size:21px">#</text>
<text x="1699.8" y="962.5" textLength="24.3" lengthAdjust="spacingAndGlyphs" style="fill:#fff;stroke:#fff">**</text>
<defs><linearGradient id="vir" x1="0" x2="0" y1="0" y2="1"><stop offset="0.00" stop-color="#f6e130"/><stop offset="0.08" stop-color="#d9dc3c"/><stop offset="0.16" stop-color="#b2d24c"/><stop offset="0.25" stop-color="#88c661"/><stop offset="0.33" stop-color="#63bb72"/><stop offset="0.41" stop-color="#40a97b"/><stop offset="0.50" stop-color="#2a9489"/><stop offset="0.58" stop-color="#2d808d"/><stop offset="0.66" stop-color="#346a8c"/><stop offset="0.75" stop-color="#3c5589"/><stop offset="0.83" stop-color="#424284"/><stop offset="0.91" stop-color="#452e73"/><stop offset="1.00" stop-color="#421c59"/></linearGradient></defs>
<rect x="1800.0" y="669.2" width="22.9" height="393.4" fill="url(#vir)"/>
<text x="1832.8" y="689.8" textLength="62.7" lengthAdjust="spacingAndGlyphs" style="fill:#222;stroke:#222">6,000</text>
<text x="1832.8" y="763.5" textLength="62.7" lengthAdjust="spacingAndGlyphs" style="fill:#222;stroke:#222">5,000</text>
<text x="1832.8" y="832.7" textLength="62.7" lengthAdjust="spacingAndGlyphs" style="fill:#222;stroke:#222">4,000</text>
<text x="1832.8" y="903.8" textLength="62.7" lengthAdjust="spacingAndGlyphs" style="fill:#222;stroke:#222">3,000</text>
<text x="1832.8" y="976.7" textLength="62.7" lengthAdjust="spacingAndGlyphs" style="fill:#222;stroke:#222">2,000</text>
<text x="1832.8" y="1053.4" textLength="62.7" lengthAdjust="spacingAndGlyphs" style="fill:#222;stroke:#222">1,000</text>
<text x="1919.0" y="740.3" textLength="253.5" lengthAdjust="spacingAndGlyphs" transform="rotate(90 1920.5 740.3)">Distance travelled (cm)</text>
<text x="1507.0" y="1164.4" transform="rotate(-45 1507.0 1164.4)" style="font-size:29px">H3.3 WT</text>
<text x="1645.0" y="1175.5" textLength="136.3" lengthAdjust="spacingAndGlyphs" transform="rotate(-45 1646.5 1175.5)" style="font-size:29px">H3.3(Q5A)</text>
</svg>
</div>
</body></html>
